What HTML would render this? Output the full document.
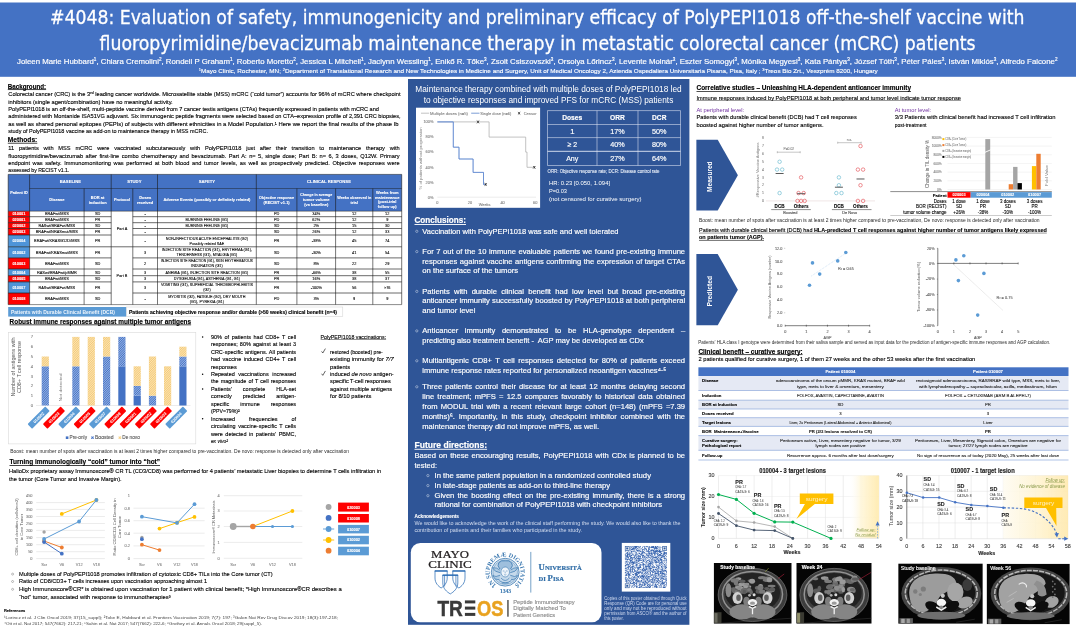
<!DOCTYPE html>
<html lang="en"><head><meta charset="utf-8"><title>#4048 PolyPEPI1018 poster</title>
<style>
html,body{margin:0;padding:0;background:#fff;}
body{width:1080px;height:629px;overflow:hidden;}
svg{display:block;font-family:"Liberation Sans",sans-serif;will-change:transform;}
text{white-space:pre;}
</style></head><body>
<svg width="1080" height="629" viewBox="0 0 1080 629">
<!-- header -->
<rect x="0.00" y="2.50" width="1076.00" height="74.30" fill="#4472C4" />
<text x="50.00" y="24.30" font-size="18.8" fill="#fff" font-family='"DejaVu Sans", "Liberation Sans", sans-serif' textLength="974.50" lengthAdjust="spacingAndGlyphs" stroke="#fff" stroke-width="0.28">#4048: Evaluation of safety, immunogenicity and preliminary efficacy of PolyPEPI1018 off-the-shelf vaccine with</text>
<text x="99.50" y="50.00" font-size="18.8" fill="#fff" font-family='"DejaVu Sans", "Liberation Sans", sans-serif' textLength="876.00" lengthAdjust="spacingAndGlyphs" stroke="#fff" stroke-width="0.28">fluoropyrimidine/bevacizumab maintenance therapy in metastatic colorectal cancer (mCRC) patients</text>
<text x="17.00" y="63.80" font-size="7.6" fill="#fff" textLength="1040.50" lengthAdjust="spacingAndGlyphs" stroke="#fff" stroke-width="0.167" >Joleen Marie Hubbard<tspan dy="-2.4" font-size="4.5">1</tspan><tspan dy="2.4">, Chiara Cremolini</tspan><tspan dy="-2.4" font-size="4.5">2</tspan><tspan dy="2.4">, Rondell P Graham</tspan><tspan dy="-2.4" font-size="4.5">1</tspan><tspan dy="2.4">, Roberto Moretto</tspan><tspan dy="-2.4" font-size="4.5">2</tspan><tspan dy="2.4">, Jessica L Mitchell</tspan><tspan dy="-2.4" font-size="4.5">1</tspan><tspan dy="2.4">, Jaclynn Wessling</tspan><tspan dy="-2.4" font-size="4.5">1</tspan><tspan dy="2.4">, Enikő R. Tőke</tspan><tspan dy="-2.4" font-size="4.5">3</tspan><tspan dy="2.4">, Zsolt Csiszovszki</tspan><tspan dy="-2.4" font-size="4.5">3</tspan><tspan dy="2.4">, Orsolya Lőrincz</tspan><tspan dy="-2.4" font-size="4.5">3</tspan><tspan dy="2.4">, Levente Molnár</tspan><tspan dy="-2.4" font-size="4.5">3</tspan><tspan dy="2.4">, Eszter Somogyi</tspan><tspan dy="-2.4" font-size="4.5">3</tspan><tspan dy="2.4">, Mónika Megyesi</tspan><tspan dy="-2.4" font-size="4.5">3</tspan><tspan dy="2.4">, Kata Pántya</tspan><tspan dy="-2.4" font-size="4.5">3</tspan><tspan dy="2.4">, József Tóth</tspan><tspan dy="-2.4" font-size="4.5">3</tspan><tspan dy="2.4">, Péter Páles</tspan><tspan dy="-2.4" font-size="4.5">3</tspan><tspan dy="2.4">, István Miklós</tspan><tspan dy="-2.4" font-size="4.5">3</tspan><tspan dy="2.4">, Alfredo Falcone</tspan><tspan dy="-2.4" font-size="4.5">2</tspan></text>
<text x="198.80" y="72.50" font-size="5.4" fill="#fff" textLength="679.00" lengthAdjust="spacingAndGlyphs" stroke="#fff" stroke-width="0.119" ><tspan dy="-1.6" font-size="3.4">1</tspan><tspan dy="1.6">Mayo Clinic, Rochester, MN; </tspan><tspan dy="-1.6" font-size="3.4">2</tspan><tspan dy="1.6">Department of Translational Research and New Technologies in Medicine and Surgery, Unit of Medical Oncology 2, Azienda Ospedaliera Universitaria Pisana, Pisa, Italy ; </tspan><tspan dy="-1.6" font-size="3.4">3</tspan><tspan dy="1.6">Treos Bio Zrt., Veszprém 8200, Hungary</tspan></text>
<!-- left column -->
<text x="7.80" y="88.50" font-size="7.3" fill="#000" font-weight="bold" textLength="38.30" lengthAdjust="spacingAndGlyphs" stroke="#000" stroke-width="0.161" >Background:</text>
<rect x="7.80" y="89.30" width="38.30" height="0.73" fill="#000"/>
<text x="8.30" y="96.40" font-size="6.1" fill="#000" textLength="392.30" lengthAdjust="spacingAndGlyphs" stroke="#000" stroke-width="0.134" >Colorectal cancer (CRC) is the 3ʳᵈ leading cancer worldwide. Microsatellite stable (MSS) mCRC (“cold tumor”) accounts for 96% of mCRC where checkpoint</text>
<text x="8.30" y="103.73" font-size="6.1" fill="#000" textLength="164.40" lengthAdjust="spacingAndGlyphs" stroke="#000" stroke-width="0.134" >inhibitors (single agent/combination) have no meaningful activity.</text>
<text x="8.30" y="111.06" font-size="6.1" fill="#000" textLength="370.70" lengthAdjust="spacingAndGlyphs" stroke="#000" stroke-width="0.134" >PolyPEPI1018 is an off-the-shelf, multi-peptide vaccine derived from 7 cancer testis antigens (CTAs) frequently expressed in patients with mCRC and</text>
<text x="8.30" y="118.39" font-size="6.1" fill="#000" textLength="392.30" lengthAdjust="spacingAndGlyphs" stroke="#000" stroke-width="0.134" >administered with Montanide ISA51VG adjuvant. Six immunogenic peptide fragments were selected based on CTA–expression profile of 2,391 CRC biopsies,</text>
<text x="8.30" y="125.72" font-size="6.1" fill="#000" textLength="390.30" lengthAdjust="spacingAndGlyphs" stroke="#000" stroke-width="0.134" >as well as shared personal epitopes (PEPIs) of subjects with different ethnicities in a Model Population.¹ Here we report the final results of the phase Ib</text>
<text x="8.30" y="133.05" font-size="6.1" fill="#000" textLength="199.70" lengthAdjust="spacingAndGlyphs" stroke="#000" stroke-width="0.134" >study of PolyPEPI1018 vaccine as add-on to maintenance therapy in MSS mCRC.</text>
<text x="7.80" y="142.00" font-size="7.3" fill="#000" font-weight="bold" textLength="29.50" lengthAdjust="spacingAndGlyphs" stroke="#000" stroke-width="0.161" >Methods:</text>
<rect x="7.80" y="142.80" width="29.50" height="0.73" fill="#000"/>
<text transform="translate(8.30,150.10) scale(0.93,1)" font-size="6.1" fill="#000" word-spacing="3.439" stroke="#000" stroke-width="0.134">11 patients with MSS mCRC were vaccinated subcutaneously with PolyPEPI1018 just after their transition to maintenance therapy with</text>
<text transform="translate(8.30,157.50) scale(0.93,1)" font-size="6.1" fill="#000" word-spacing="0.968" stroke="#000" stroke-width="0.134">fluoropyrimidine/bevacizumab after first-line combo chemotherapy and bevacizumab. Part A: n= 5, single dose; Part B: n= 6, 3 doses, Q12W. Primary</text>
<text transform="translate(8.30,164.90) scale(0.93,1)" font-size="6.1" fill="#000" word-spacing="1.114" stroke="#000" stroke-width="0.134">endpoint was safety. Immunomonitoring was performed at both blood and tumor levels, as well as prospectively predicted. Objective responses were</text>
<text x="8.30" y="172.30" font-size="6.1" fill="#000" textLength="61.00" lengthAdjust="spacingAndGlyphs" stroke="#000" stroke-width="0.134" >assessed by RECIST v1.1.</text>
<rect x="8.20" y="174.40" width="393.50" height="36.80" fill="#4472C4" />
<rect x="8.20" y="211.20" width="393.50" height="93.40" fill="#fff" />
<rect x="8.20" y="211.20" width="21.40" height="5.50" fill="#FF0000" />
<text x="18.90" y="215.35" font-size="3.9" fill="#fff" font-weight="bold" text-anchor="middle" stroke="#fff" stroke-width="0.086" >010001</text>
<rect x="8.20" y="216.70" width="21.40" height="6.00" fill="#FF0000" />
<text x="18.90" y="221.10" font-size="3.9" fill="#fff" font-weight="bold" text-anchor="middle" stroke="#fff" stroke-width="0.086" >020001</text>
<rect x="8.20" y="222.70" width="21.40" height="5.80" fill="#FF0000" />
<text x="18.90" y="227.00" font-size="3.9" fill="#fff" font-weight="bold" text-anchor="middle" stroke="#fff" stroke-width="0.086" >020002</text>
<rect x="8.20" y="228.50" width="21.40" height="6.50" fill="#FF0000" />
<text x="18.90" y="233.15" font-size="3.9" fill="#fff" font-weight="bold" text-anchor="middle" stroke="#fff" stroke-width="0.086" >020003</text>
<rect x="8.20" y="235.00" width="21.40" height="11.80" fill="#4E94D8" />
<text x="18.90" y="242.30" font-size="3.9" fill="#fff" font-weight="bold" text-anchor="middle" stroke="#fff" stroke-width="0.086" >020004</text>
<rect x="8.20" y="246.80" width="21.40" height="11.10" fill="#4E94D8" />
<text x="18.90" y="253.75" font-size="3.9" fill="#fff" font-weight="bold" text-anchor="middle" stroke="#fff" stroke-width="0.086" >010002</text>
<rect x="8.20" y="257.90" width="21.40" height="11.10" fill="#FF0000" />
<text x="18.90" y="264.85" font-size="3.9" fill="#fff" font-weight="bold" text-anchor="middle" stroke="#fff" stroke-width="0.086" >010003</text>
<rect x="8.20" y="269.00" width="21.40" height="6.70" fill="#4E94D8" />
<text x="18.90" y="273.75" font-size="3.9" fill="#fff" font-weight="bold" text-anchor="middle" stroke="#fff" stroke-width="0.086" >010004</text>
<rect x="8.20" y="275.70" width="21.40" height="6.20" fill="#FF0000" />
<text x="18.90" y="280.20" font-size="3.9" fill="#fff" font-weight="bold" text-anchor="middle" stroke="#fff" stroke-width="0.086" >010005</text>
<rect x="8.20" y="281.90" width="21.40" height="11.10" fill="#4E94D8" />
<text x="18.90" y="288.85" font-size="3.9" fill="#fff" font-weight="bold" text-anchor="middle" stroke="#fff" stroke-width="0.086" >010007</text>
<rect x="8.20" y="293.00" width="21.40" height="11.60" fill="#FF0000" />
<text x="18.90" y="300.20" font-size="3.9" fill="#fff" font-weight="bold" text-anchor="middle" stroke="#fff" stroke-width="0.086" >010008</text>
<line x1="8.20" y1="174.40" x2="401.70" y2="174.40" stroke="#1a1a1a" stroke-width="0.5" />
<line x1="29.60" y1="188.50" x2="401.70" y2="188.50" stroke="#1a1a1a" stroke-width="0.45" />
<line x1="8.20" y1="211.20" x2="401.70" y2="211.20" stroke="#1a1a1a" stroke-width="0.5" />
<line x1="8.20" y1="216.70" x2="111.20" y2="216.70" stroke="#1a1a1a" stroke-width="0.65" />
<line x1="132.80" y1="216.70" x2="401.70" y2="216.70" stroke="#1a1a1a" stroke-width="0.65" />
<line x1="8.20" y1="222.70" x2="111.20" y2="222.70" stroke="#1a1a1a" stroke-width="0.65" />
<line x1="132.80" y1="222.70" x2="401.70" y2="222.70" stroke="#1a1a1a" stroke-width="0.65" />
<line x1="8.20" y1="228.50" x2="111.20" y2="228.50" stroke="#1a1a1a" stroke-width="0.65" />
<line x1="132.80" y1="228.50" x2="401.70" y2="228.50" stroke="#1a1a1a" stroke-width="0.65" />
<line x1="8.20" y1="235.00" x2="111.20" y2="235.00" stroke="#1a1a1a" stroke-width="0.65" />
<line x1="132.80" y1="235.00" x2="401.70" y2="235.00" stroke="#1a1a1a" stroke-width="0.65" />
<line x1="8.20" y1="246.80" x2="111.20" y2="246.80" stroke="#1a1a1a" stroke-width="0.65" />
<line x1="132.80" y1="246.80" x2="401.70" y2="246.80" stroke="#1a1a1a" stroke-width="0.65" />
<line x1="8.20" y1="257.90" x2="111.20" y2="257.90" stroke="#1a1a1a" stroke-width="0.65" />
<line x1="132.80" y1="257.90" x2="401.70" y2="257.90" stroke="#1a1a1a" stroke-width="0.65" />
<line x1="8.20" y1="269.00" x2="111.20" y2="269.00" stroke="#1a1a1a" stroke-width="0.65" />
<line x1="132.80" y1="269.00" x2="401.70" y2="269.00" stroke="#1a1a1a" stroke-width="0.65" />
<line x1="8.20" y1="275.70" x2="111.20" y2="275.70" stroke="#1a1a1a" stroke-width="0.65" />
<line x1="132.80" y1="275.70" x2="401.70" y2="275.70" stroke="#1a1a1a" stroke-width="0.65" />
<line x1="8.20" y1="281.90" x2="111.20" y2="281.90" stroke="#1a1a1a" stroke-width="0.65" />
<line x1="132.80" y1="281.90" x2="401.70" y2="281.90" stroke="#1a1a1a" stroke-width="0.65" />
<line x1="8.20" y1="293.00" x2="111.20" y2="293.00" stroke="#1a1a1a" stroke-width="0.65" />
<line x1="132.80" y1="293.00" x2="401.70" y2="293.00" stroke="#1a1a1a" stroke-width="0.65" />
<line x1="8.20" y1="304.60" x2="401.70" y2="304.60" stroke="#1a1a1a" stroke-width="0.5" />
<line x1="111.20" y1="246.80" x2="132.80" y2="246.80" stroke="#1a1a1a" stroke-width="0.65" />
<line x1="8.20" y1="174.40" x2="8.20" y2="304.60" stroke="#1a1a1a" stroke-width="0.6" />
<line x1="29.60" y1="174.40" x2="29.60" y2="304.60" stroke="#1a1a1a" stroke-width="0.6" />
<line x1="84.10" y1="188.50" x2="84.10" y2="304.60" stroke="#1a1a1a" stroke-width="0.6" />
<line x1="111.20" y1="174.40" x2="111.20" y2="304.60" stroke="#1a1a1a" stroke-width="0.6" />
<line x1="132.80" y1="188.50" x2="132.80" y2="304.60" stroke="#1a1a1a" stroke-width="0.6" />
<line x1="157.50" y1="174.40" x2="157.50" y2="304.60" stroke="#1a1a1a" stroke-width="0.6" />
<line x1="256.30" y1="174.40" x2="256.30" y2="304.60" stroke="#1a1a1a" stroke-width="0.6" />
<line x1="296.90" y1="188.50" x2="296.90" y2="304.60" stroke="#1a1a1a" stroke-width="0.6" />
<line x1="335.60" y1="188.50" x2="335.60" y2="304.60" stroke="#1a1a1a" stroke-width="0.6" />
<line x1="372.80" y1="188.50" x2="372.80" y2="304.60" stroke="#1a1a1a" stroke-width="0.6" />
<line x1="401.70" y1="174.40" x2="401.70" y2="304.60" stroke="#1a1a1a" stroke-width="0.6" />
<text x="10.15" y="194.20" font-size="4.0" fill="#fff" font-weight="bold" textLength="17.50" lengthAdjust="spacingAndGlyphs" stroke="#fff" stroke-width="0.088" >Patient ID</text>
<text x="70.40" y="182.80" font-size="4.2" fill="#fff" font-weight="bold" text-anchor="middle" stroke="#fff" stroke-width="0.092" >BASELINE</text>
<text x="134.35" y="182.80" font-size="4.2" fill="#fff" font-weight="bold" text-anchor="middle" stroke="#fff" stroke-width="0.092" >STUDY</text>
<text x="206.90" y="182.80" font-size="4.2" fill="#fff" font-weight="bold" text-anchor="middle" stroke="#fff" stroke-width="0.092" >SAFETY</text>
<text x="329.00" y="182.80" font-size="4.2" fill="#fff" font-weight="bold" text-anchor="middle" stroke="#fff" stroke-width="0.092" >CLINICAL RESPONSE</text>
<text x="56.85" y="201.20" font-size="4.0" fill="#fff" font-weight="bold" text-anchor="middle" stroke="#fff" stroke-width="0.088" >Disease</text>
<text x="97.65" y="198.80" font-size="4.0" fill="#fff" font-weight="bold" text-anchor="middle" stroke="#fff" stroke-width="0.088" >BOR at</text>
<text x="97.65" y="203.80" font-size="4.0" fill="#fff" font-weight="bold" text-anchor="middle" stroke="#fff" stroke-width="0.088" >induction</text>
<text x="122.00" y="201.20" font-size="4.0" fill="#fff" font-weight="bold" text-anchor="middle" stroke="#fff" stroke-width="0.088" >Protocol</text>
<text x="145.15" y="198.80" font-size="4.0" fill="#fff" font-weight="bold" text-anchor="middle" stroke="#fff" stroke-width="0.088" >Doses</text>
<text x="145.15" y="203.80" font-size="4.0" fill="#fff" font-weight="bold" text-anchor="middle" stroke="#fff" stroke-width="0.088" >received</text>
<text x="163.40" y="201.20" font-size="4.0" fill="#fff" font-weight="bold" textLength="87.00" lengthAdjust="spacingAndGlyphs" stroke="#fff" stroke-width="0.088" >Adverse Events (possibly or definitely related)</text>
<text x="259.10" y="198.80" font-size="4.0" fill="#fff" font-weight="bold" textLength="35.00" lengthAdjust="spacingAndGlyphs" stroke="#fff" stroke-width="0.088" >Objective response</text>
<text x="276.60" y="203.80" font-size="4.0" fill="#fff" font-weight="bold" text-anchor="middle" stroke="#fff" stroke-width="0.088" >(RECIST v1.1)</text>
<text x="300.25" y="196.30" font-size="4.0" fill="#fff" font-weight="bold" textLength="32.00" lengthAdjust="spacingAndGlyphs" stroke="#fff" stroke-width="0.088" >Change in average</text>
<text x="316.25" y="201.20" font-size="4.0" fill="#fff" font-weight="bold" text-anchor="middle" stroke="#fff" stroke-width="0.088" >tumor volume</text>
<text x="316.25" y="206.20" font-size="4.0" fill="#fff" font-weight="bold" text-anchor="middle" stroke="#fff" stroke-width="0.088" >(vs baseline)</text>
<text x="337.20" y="198.80" font-size="4.0" fill="#fff" font-weight="bold" textLength="34.00" lengthAdjust="spacingAndGlyphs" stroke="#fff" stroke-width="0.088" >Weeks observed in</text>
<text x="354.20" y="203.80" font-size="4.0" fill="#fff" font-weight="bold" text-anchor="middle" stroke="#fff" stroke-width="0.088" >trial</text>
<text x="387.25" y="193.80" font-size="4.0" fill="#fff" font-weight="bold" text-anchor="middle" stroke="#fff" stroke-width="0.088" >Weeks from</text>
<text x="387.25" y="198.60" font-size="4.0" fill="#fff" font-weight="bold" text-anchor="middle" stroke="#fff" stroke-width="0.088" >maintenance</text>
<text x="387.25" y="203.40" font-size="4.0" fill="#fff" font-weight="bold" text-anchor="middle" stroke="#fff" stroke-width="0.088" >(post-trial</text>
<text x="387.25" y="208.20" font-size="4.0" fill="#fff" font-weight="bold" text-anchor="middle" stroke="#fff" stroke-width="0.088" >follow up)</text>
<text x="56.85" y="215.35" font-size="3.9" fill="#000" text-anchor="middle" stroke="#000" stroke-width="0.086" >BRAFwt/MSS</text>
<text x="97.65" y="215.35" font-size="3.9" fill="#000" text-anchor="middle" stroke="#000" stroke-width="0.086" >SD</text>
<text x="145.15" y="215.35" font-size="3.9" fill="#000" text-anchor="middle" stroke="#000" stroke-width="0.086" >-</text>
<text x="276.60" y="215.35" font-size="3.9" fill="#000" text-anchor="middle" stroke="#000" stroke-width="0.086" >PD</text>
<text x="316.25" y="215.35" font-size="3.9" fill="#000" text-anchor="middle" stroke="#000" stroke-width="0.086" >34%</text>
<text x="354.20" y="215.35" font-size="3.9" fill="#000" text-anchor="middle" stroke="#000" stroke-width="0.086" >12</text>
<text x="387.25" y="215.35" font-size="3.9" fill="#000" text-anchor="middle" stroke="#000" stroke-width="0.086" >12</text>
<text x="56.85" y="221.10" font-size="3.9" fill="#000" text-anchor="middle" stroke="#000" stroke-width="0.086" >BRAFwt/MSS</text>
<text x="97.65" y="221.10" font-size="3.9" fill="#000" text-anchor="middle" stroke="#000" stroke-width="0.086" >PR</text>
<text x="145.15" y="221.10" font-size="3.9" fill="#000" text-anchor="middle" stroke="#000" stroke-width="0.086" >-</text>
<text x="185.47" y="221.10" font-size="3.9" fill="#000" textLength="42.85" lengthAdjust="spacingAndGlyphs" stroke="#000" stroke-width="0.086" >BURNING FEELING (G1)</text>
<text x="276.60" y="221.10" font-size="3.9" fill="#000" text-anchor="middle" stroke="#000" stroke-width="0.086" >PD</text>
<text x="316.25" y="221.10" font-size="3.9" fill="#000" text-anchor="middle" stroke="#000" stroke-width="0.086" >62%</text>
<text x="354.20" y="221.10" font-size="3.9" fill="#000" text-anchor="middle" stroke="#000" stroke-width="0.086" >12</text>
<text x="387.25" y="221.10" font-size="3.9" fill="#000" text-anchor="middle" stroke="#000" stroke-width="0.086" >9</text>
<text x="56.85" y="227.00" font-size="3.9" fill="#000" text-anchor="middle" stroke="#000" stroke-width="0.086" >RASwt/BRAFwt/MSS</text>
<text x="97.65" y="227.00" font-size="3.9" fill="#000" text-anchor="middle" stroke="#000" stroke-width="0.086" >SD</text>
<text x="145.15" y="227.00" font-size="3.9" fill="#000" text-anchor="middle" stroke="#000" stroke-width="0.086" >-</text>
<text x="185.47" y="227.00" font-size="3.9" fill="#000" textLength="42.85" lengthAdjust="spacingAndGlyphs" stroke="#000" stroke-width="0.086" >BURNING FEELING (G1)</text>
<text x="276.60" y="227.00" font-size="3.9" fill="#000" text-anchor="middle" stroke="#000" stroke-width="0.086" >SD</text>
<text x="316.25" y="227.00" font-size="3.9" fill="#000" text-anchor="middle" stroke="#000" stroke-width="0.086" >2%</text>
<text x="354.20" y="227.00" font-size="3.9" fill="#000" text-anchor="middle" stroke="#000" stroke-width="0.086" >15</text>
<text x="387.25" y="227.00" font-size="3.9" fill="#000" text-anchor="middle" stroke="#000" stroke-width="0.086" >30</text>
<text x="56.85" y="233.15" font-size="3.9" fill="#000" text-anchor="middle" stroke="#000" stroke-width="0.086" >BRAFwt/NRASmut/MSS</text>
<text x="97.65" y="233.15" font-size="3.9" fill="#000" text-anchor="middle" stroke="#000" stroke-width="0.086" >PR</text>
<text x="145.15" y="233.15" font-size="3.9" fill="#000" text-anchor="middle" stroke="#000" stroke-width="0.086" >-</text>
<text x="276.60" y="233.15" font-size="3.9" fill="#000" text-anchor="middle" stroke="#000" stroke-width="0.086" >SD</text>
<text x="316.25" y="233.15" font-size="3.9" fill="#000" text-anchor="middle" stroke="#000" stroke-width="0.086" >26%</text>
<text x="354.20" y="233.15" font-size="3.9" fill="#000" text-anchor="middle" stroke="#000" stroke-width="0.086" >12</text>
<text x="387.25" y="233.15" font-size="3.9" fill="#000" text-anchor="middle" stroke="#000" stroke-width="0.086" >33</text>
<text x="56.85" y="242.30" font-size="3.9" fill="#000" text-anchor="middle" stroke="#000" stroke-width="0.086" >BRAFwt/KRASG12D/MSS</text>
<text x="97.65" y="242.30" font-size="3.9" fill="#000" text-anchor="middle" stroke="#000" stroke-width="0.086" >PR</text>
<text x="145.15" y="242.30" font-size="3.9" fill="#000" text-anchor="middle" stroke="#000" stroke-width="0.086" >-</text>
<text x="165.71" y="239.80" font-size="3.9" fill="#000" textLength="82.38" lengthAdjust="spacingAndGlyphs" stroke="#000" stroke-width="0.086" >NON-INFECTIOUS ACUTE ENCEPHALITIS (G2)</text>
<text x="189.42" y="244.70" font-size="3.9" fill="#000" textLength="34.96" lengthAdjust="spacingAndGlyphs" stroke="#000" stroke-width="0.086" >Possibly related SAE</text>
<text x="276.60" y="242.30" font-size="3.9" fill="#000" text-anchor="middle" stroke="#000" stroke-width="0.086" >PR</text>
<text x="316.25" y="242.30" font-size="3.9" fill="#000" text-anchor="middle" stroke="#000" stroke-width="0.086" >-38%</text>
<text x="354.20" y="242.30" font-size="3.9" fill="#000" text-anchor="middle" stroke="#000" stroke-width="0.086" >45</text>
<text x="387.25" y="242.30" font-size="3.9" fill="#000" text-anchor="middle" stroke="#000" stroke-width="0.086" >74</text>
<text x="56.85" y="253.75" font-size="3.9" fill="#000" text-anchor="middle" stroke="#000" stroke-width="0.086" >BRAFwt/KRASmut/MSS</text>
<text x="97.65" y="253.75" font-size="3.9" fill="#000" text-anchor="middle" stroke="#000" stroke-width="0.086" >PR</text>
<text x="145.15" y="253.75" font-size="3.9" fill="#000" text-anchor="middle" stroke="#000" stroke-width="0.086" >3</text>
<text x="161.79" y="251.25" font-size="3.9" fill="#000" textLength="90.21" lengthAdjust="spacingAndGlyphs" stroke="#000" stroke-width="0.086" >INJECTION SITE REACTION (G1), ERYTHEMA (G1),</text>
<text x="176.46" y="256.15" font-size="3.9" fill="#000" textLength="60.89" lengthAdjust="spacingAndGlyphs" stroke="#000" stroke-width="0.086" >TENDERNESS (G1), MYALGIA (G1)</text>
<text x="276.60" y="253.75" font-size="3.9" fill="#000" text-anchor="middle" stroke="#000" stroke-width="0.086" >SD</text>
<text x="316.25" y="253.75" font-size="3.9" fill="#000" text-anchor="middle" stroke="#000" stroke-width="0.086" >-30%</text>
<text x="354.20" y="253.75" font-size="3.9" fill="#000" text-anchor="middle" stroke="#000" stroke-width="0.086" >41</text>
<text x="387.25" y="253.75" font-size="3.9" fill="#000" text-anchor="middle" stroke="#000" stroke-width="0.086" >54</text>
<text x="56.85" y="264.85" font-size="3.9" fill="#000" text-anchor="middle" stroke="#000" stroke-width="0.086" >BRAFwt/MSS</text>
<text x="97.65" y="264.85" font-size="3.9" fill="#000" text-anchor="middle" stroke="#000" stroke-width="0.086" >SD</text>
<text x="145.15" y="264.85" font-size="3.9" fill="#000" text-anchor="middle" stroke="#000" stroke-width="0.086" >2</text>
<text x="160.90" y="262.35" font-size="3.9" fill="#000" textLength="92.00" lengthAdjust="spacingAndGlyphs" stroke="#000" stroke-width="0.086" >INJECTION SITE REACTION (G1), SKIN ERYTHEMATOUS</text>
<text x="191.13" y="267.25" font-size="3.9" fill="#000" textLength="31.55" lengthAdjust="spacingAndGlyphs" stroke="#000" stroke-width="0.086" >INDURATION (G1)</text>
<text x="276.60" y="264.85" font-size="3.9" fill="#000" text-anchor="middle" stroke="#000" stroke-width="0.086" >SD</text>
<text x="316.25" y="264.85" font-size="3.9" fill="#000" text-anchor="middle" stroke="#000" stroke-width="0.086" >8%</text>
<text x="354.20" y="264.85" font-size="3.9" fill="#000" text-anchor="middle" stroke="#000" stroke-width="0.086" >22</text>
<text x="387.25" y="264.85" font-size="3.9" fill="#000" text-anchor="middle" stroke="#000" stroke-width="0.086" >29</text>
<text x="56.85" y="273.75" font-size="3.9" fill="#000" text-anchor="middle" stroke="#000" stroke-width="0.086" >RASwt/BRAFwt/pMMR</text>
<text x="97.65" y="273.75" font-size="3.9" fill="#000" text-anchor="middle" stroke="#000" stroke-width="0.086" >SD</text>
<text x="145.15" y="273.75" font-size="3.9" fill="#000" text-anchor="middle" stroke="#000" stroke-width="0.086" >3</text>
<text x="165.50" y="273.75" font-size="3.9" fill="#000" textLength="82.79" lengthAdjust="spacingAndGlyphs" stroke="#000" stroke-width="0.086" >ANEMIA (G1), INJECTION SITE REACTION (G1)</text>
<text x="276.60" y="273.75" font-size="3.9" fill="#000" text-anchor="middle" stroke="#000" stroke-width="0.086" >PR</text>
<text x="316.25" y="273.75" font-size="3.9" fill="#000" text-anchor="middle" stroke="#000" stroke-width="0.086" >-66%</text>
<text x="354.20" y="273.75" font-size="3.9" fill="#000" text-anchor="middle" stroke="#000" stroke-width="0.086" >38</text>
<text x="387.25" y="273.75" font-size="3.9" fill="#000" text-anchor="middle" stroke="#000" stroke-width="0.086" >55</text>
<text x="56.85" y="280.20" font-size="3.9" fill="#000" text-anchor="middle" stroke="#000" stroke-width="0.086" >BRAFwt/MSS</text>
<text x="97.65" y="280.20" font-size="3.9" fill="#000" text-anchor="middle" stroke="#000" stroke-width="0.086" >SD</text>
<text x="145.15" y="280.20" font-size="3.9" fill="#000" text-anchor="middle" stroke="#000" stroke-width="0.086" >3</text>
<text x="173.82" y="280.20" font-size="3.9" fill="#000" textLength="66.16" lengthAdjust="spacingAndGlyphs" stroke="#000" stroke-width="0.086" >DYSGEUSIA (G1), ASTHENIA (G1, G1)</text>
<text x="276.60" y="280.20" font-size="3.9" fill="#000" text-anchor="middle" stroke="#000" stroke-width="0.086" >PR</text>
<text x="316.25" y="280.20" font-size="3.9" fill="#000" text-anchor="middle" stroke="#000" stroke-width="0.086" >16%</text>
<text x="354.20" y="280.20" font-size="3.9" fill="#000" text-anchor="middle" stroke="#000" stroke-width="0.086" >38</text>
<text x="387.25" y="280.20" font-size="3.9" fill="#000" text-anchor="middle" stroke="#000" stroke-width="0.086" >37</text>
<text x="56.85" y="288.85" font-size="3.9" fill="#000" text-anchor="middle" stroke="#000" stroke-width="0.086" >RASwt/BRAFwt/MSS</text>
<text x="97.65" y="288.85" font-size="3.9" fill="#000" text-anchor="middle" stroke="#000" stroke-width="0.086" >PR</text>
<text x="145.15" y="288.85" font-size="3.9" fill="#000" text-anchor="middle" stroke="#000" stroke-width="0.086" >3</text>
<text x="160.90" y="286.35" font-size="3.9" fill="#000" textLength="92.00" lengthAdjust="spacingAndGlyphs" stroke="#000" stroke-width="0.086" >VOMITING (G1), SUPERFICIAL THROMBOPHLEBITIS</text>
<text x="203.16" y="291.25" font-size="3.9" fill="#000" textLength="7.49" lengthAdjust="spacingAndGlyphs" stroke="#000" stroke-width="0.086" >(G2)</text>
<text x="276.60" y="288.85" font-size="3.9" fill="#000" text-anchor="middle" stroke="#000" stroke-width="0.086" >PR</text>
<text x="316.25" y="288.85" font-size="3.9" fill="#000" text-anchor="middle" stroke="#000" stroke-width="0.086" >-100%</text>
<text x="354.20" y="288.85" font-size="3.9" fill="#000" text-anchor="middle" stroke="#000" stroke-width="0.086" >56</text>
<text x="387.25" y="288.85" font-size="3.9" fill="#000" text-anchor="middle" stroke="#000" stroke-width="0.086" >&gt;76</text>
<text x="56.85" y="300.20" font-size="3.9" fill="#000" text-anchor="middle" stroke="#000" stroke-width="0.086" >BRAFwt/MSS</text>
<text x="97.65" y="300.20" font-size="3.9" fill="#000" text-anchor="middle" stroke="#000" stroke-width="0.086" >SD</text>
<text x="145.15" y="300.20" font-size="3.9" fill="#000" text-anchor="middle" stroke="#000" stroke-width="0.086" >-</text>
<text x="168.21" y="297.70" font-size="3.9" fill="#000" textLength="77.38" lengthAdjust="spacingAndGlyphs" stroke="#000" stroke-width="0.086" >MYOSITIS (G2), FATIGUE (G2), DRY MOUTH</text>
<text x="189.84" y="302.60" font-size="3.9" fill="#000" textLength="34.12" lengthAdjust="spacingAndGlyphs" stroke="#000" stroke-width="0.086" >(G1), PYREXIA (G1)</text>
<text x="276.60" y="300.20" font-size="3.9" fill="#000" text-anchor="middle" stroke="#000" stroke-width="0.086" >PD</text>
<text x="316.25" y="300.20" font-size="3.9" fill="#000" text-anchor="middle" stroke="#000" stroke-width="0.086" >3%</text>
<text x="354.20" y="300.20" font-size="3.9" fill="#000" text-anchor="middle" stroke="#000" stroke-width="0.086" >9</text>
<text x="387.25" y="300.20" font-size="3.9" fill="#000" text-anchor="middle" stroke="#000" stroke-width="0.086" >9</text>
<text x="122.00" y="230.40" font-size="3.9" fill="#000" text-anchor="middle" stroke="#000" stroke-width="0.086" >Part A</text>
<text x="122.00" y="277.10" font-size="3.9" fill="#000" text-anchor="middle" stroke="#000" stroke-width="0.086" >Part B</text>
<rect x="8.20" y="307.00" width="118.20" height="9.60" fill="#5B9BD5" />
<text x="11.00" y="313.80" font-size="5.6" fill="#EEF5FC" font-weight="bold" textLength="104.00" lengthAdjust="spacingAndGlyphs" stroke="none">Patients with Durable Clinical Benefit (DCB)</text>
<rect x="126.40" y="307.00" width="216.40" height="9.60" fill="#fff" stroke="#CFCFCF" stroke-width="0.5" />
<text x="129.00" y="313.80" font-size="5.6" fill="#000" font-weight="bold" textLength="208.00" lengthAdjust="spacingAndGlyphs" stroke="#000" stroke-width="0.123" >Patients achieving objective response and/or durable (&gt;50 weeks) clinical benefit (n=4)</text>
<text x="9.60" y="323.70" font-size="7.3" fill="#000" font-weight="bold" textLength="181.50" lengthAdjust="spacingAndGlyphs" stroke="#000" stroke-width="0.161" >Robust immune responses against multiple tumor antigens</text>
<rect x="9.60" y="324.50" width="181.50" height="0.73" fill="#000"/>
<rect x="8.40" y="332.60" width="187.40" height="111.30" fill="#fff" stroke="#D9D9D9" stroke-width="0.6" />
<defs><pattern id="hb" width="1.6" height="1.6" patternUnits="userSpaceOnUse" patternTransform="rotate(45)"><rect width="1.6" height="1.6" fill="#A9C0EA"/><rect width="0.9" height="1.6" fill="#4472C4"/></pattern><pattern id="hy" width="1.6" height="1.6" patternUnits="userSpaceOnUse" patternTransform="rotate(45)"><rect width="1.6" height="1.6" fill="#FBE5B4"/><rect width="0.8" height="1.6" fill="#F4C978"/></pattern></defs>
<line x1="36.00" y1="405.50" x2="190.50" y2="405.50" stroke="#D9D9D9" stroke-width="0.5" />
<rect x="41.70" y="366.30" width="7.20" height="39.20" fill="url(#hb)" />
<rect x="41.70" y="356.50" width="7.20" height="9.80" fill="url(#hy)" />
<rect x="72.30" y="366.30" width="7.20" height="39.20" fill="url(#hb)" />
<rect x="72.30" y="336.90" width="7.20" height="29.40" fill="url(#hy)" />
<rect x="87.70" y="336.90" width="7.20" height="68.60" fill="url(#hy)" />
<rect x="103.00" y="356.50" width="7.20" height="49.00" fill="url(#hb)" />
<rect x="103.00" y="336.90" width="7.20" height="19.60" fill="url(#hy)" />
<rect x="118.30" y="366.30" width="7.20" height="39.20" fill="#4472C4" />
<rect x="118.30" y="336.90" width="7.20" height="29.40" fill="url(#hb)" />
<rect x="133.60" y="395.70" width="7.20" height="9.80" fill="#4472C4" />
<rect x="133.60" y="385.90" width="7.20" height="9.80" fill="url(#hb)" />
<rect x="133.60" y="366.30" width="7.20" height="19.60" fill="url(#hy)" />
<rect x="148.90" y="395.70" width="7.20" height="9.80" fill="url(#hb)" />
<rect x="148.90" y="356.50" width="7.20" height="39.20" fill="url(#hy)" />
<rect x="164.00" y="366.30" width="7.20" height="39.20" fill="url(#hy)" />
<rect x="179.30" y="366.30" width="7.20" height="39.20" fill="#4472C4" />
<rect x="179.30" y="356.50" width="7.20" height="9.80" fill="url(#hb)" />
<rect x="179.30" y="346.70" width="7.20" height="9.80" fill="url(#hy)" />
<text x="31.80" y="407.00" font-size="4.2" fill="#7F7F7F" text-anchor="middle" stroke="#7F7F7F" stroke-width="0.092" >0</text>
<text x="31.80" y="397.20" font-size="4.2" fill="#7F7F7F" text-anchor="middle" stroke="#7F7F7F" stroke-width="0.092" >1</text>
<text x="31.80" y="387.40" font-size="4.2" fill="#7F7F7F" text-anchor="middle" stroke="#7F7F7F" stroke-width="0.092" >2</text>
<text x="31.80" y="377.60" font-size="4.2" fill="#7F7F7F" text-anchor="middle" stroke="#7F7F7F" stroke-width="0.092" >3</text>
<text x="31.80" y="367.80" font-size="4.2" fill="#7F7F7F" text-anchor="middle" stroke="#7F7F7F" stroke-width="0.092" >4</text>
<text x="31.80" y="358.00" font-size="4.2" fill="#7F7F7F" text-anchor="middle" stroke="#7F7F7F" stroke-width="0.092" >5</text>
<text x="31.80" y="348.20" font-size="4.2" fill="#7F7F7F" text-anchor="middle" stroke="#7F7F7F" stroke-width="0.092" >6</text>
<text x="31.80" y="338.40" font-size="4.2" fill="#7F7F7F" text-anchor="middle" stroke="#7F7F7F" stroke-width="0.092" >7</text>
<text transform="translate(15.2,367) rotate(-90)" font-size="4.6" fill="#595959" text-anchor="middle" textLength="59" lengthAdjust="spacingAndGlyphs">Number of antigens with</text>
<text transform="translate(21,367) rotate(-90)" font-size="4.6" fill="#595959" text-anchor="middle" textLength="52" lengthAdjust="spacingAndGlyphs">CD8+ T cell response</text>
<text transform="translate(62,401.5) rotate(-90)" font-size="4.2" fill="#7F7F7F" textLength="28" lengthAdjust="spacingAndGlyphs">Not detected</text>
<g transform="translate(38.70,417.60) rotate(-45)"><rect x="-12.5" y="-3.2" width="25" height="6.4" rx="0.8" fill="#5B9BD5"/><text x="0" y="1.5" font-size="4.1" fill="#fff" font-weight="bold" text-anchor="middle">010002</text></g>
<g transform="translate(54.00,417.60) rotate(-45)"><rect x="-12.5" y="-3.2" width="25" height="6.4" rx="0.8" fill="#FF0000"/><text x="0" y="1.5" font-size="4.1" fill="#fff" font-weight="bold" text-anchor="middle">010003</text></g>
<g transform="translate(69.30,417.60) rotate(-45)"><rect x="-12.5" y="-3.2" width="25" height="6.4" rx="0.8" fill="#5B9BD5"/><text x="0" y="1.5" font-size="4.1" fill="#fff" font-weight="bold" text-anchor="middle">010004</text></g>
<g transform="translate(84.70,417.60) rotate(-45)"><rect x="-12.5" y="-3.2" width="25" height="6.4" rx="0.8" fill="#FF0000"/><text x="0" y="1.5" font-size="4.1" fill="#fff" font-weight="bold" text-anchor="middle">010005</text></g>
<g transform="translate(100.00,417.60) rotate(-45)"><rect x="-12.5" y="-3.2" width="25" height="6.4" rx="0.8" fill="#5B9BD5"/><text x="0" y="1.5" font-size="4.1" fill="#fff" font-weight="bold" text-anchor="middle">010007</text></g>
<g transform="translate(115.30,417.60) rotate(-45)"><rect x="-12.5" y="-3.2" width="25" height="6.4" rx="0.8" fill="#FF0000"/><text x="0" y="1.5" font-size="4.1" fill="#fff" font-weight="bold" text-anchor="middle">010008</text></g>
<g transform="translate(130.60,417.60) rotate(-45)"><rect x="-12.5" y="-3.2" width="25" height="6.4" rx="0.8" fill="#FF0000"/><text x="0" y="1.5" font-size="4.1" fill="#fff" font-weight="bold" text-anchor="middle">020001</text></g>
<g transform="translate(145.90,417.60) rotate(-45)"><rect x="-12.5" y="-3.2" width="25" height="6.4" rx="0.8" fill="#FF0000"/><text x="0" y="1.5" font-size="4.1" fill="#fff" font-weight="bold" text-anchor="middle">020002</text></g>
<g transform="translate(161.00,417.60) rotate(-45)"><rect x="-12.5" y="-3.2" width="25" height="6.4" rx="0.8" fill="#FF0000"/><text x="0" y="1.5" font-size="4.1" fill="#fff" font-weight="bold" text-anchor="middle">020003</text></g>
<g transform="translate(176.30,417.60) rotate(-45)"><rect x="-12.5" y="-3.2" width="25" height="6.4" rx="0.8" fill="#5B9BD5"/><text x="0" y="1.5" font-size="4.1" fill="#fff" font-weight="bold" text-anchor="middle">020004</text></g>
<rect x="65.80" y="436.40" width="2.60" height="2.60" fill="#4472C4" />
<text x="69.50" y="439.30" font-size="4.8" fill="#595959" textLength="17.50" lengthAdjust="spacingAndGlyphs" stroke="#595959" stroke-width="0.106" >Pre-only</text>
<rect x="91.20" y="436.40" width="2.60" height="2.60" fill="url(#hb)" />
<text x="95.00" y="439.30" font-size="4.8" fill="#595959" textLength="18.50" lengthAdjust="spacingAndGlyphs" stroke="#595959" stroke-width="0.106" >Boosted</text>
<rect x="118.60" y="436.40" width="2.60" height="2.60" fill="url(#hy)" />
<text x="122.30" y="439.30" font-size="4.8" fill="#595959" textLength="17.50" lengthAdjust="spacingAndGlyphs" stroke="#595959" stroke-width="0.106" >De novo</text>
<text transform="translate(210.90,338.70) scale(0.92,1)" font-size="6.0" fill="#000" word-spacing="1.138" stroke="#000" stroke-width="0.132">90% of patients had CD8+ T cell</text>
<text transform="translate(210.90,346.15) scale(0.92,1)" font-size="6.0" fill="#000" word-spacing="0.554" stroke="#000" stroke-width="0.132">responses; 80% against at least 3</text>
<text transform="translate(210.90,353.60) scale(0.92,1)" font-size="6.0" fill="#000" word-spacing="0.372" stroke="#000" stroke-width="0.132">CRC-specific antigens. All patients</text>
<text transform="translate(210.90,361.05) scale(0.92,1)" font-size="6.0" fill="#000" word-spacing="1.032" stroke="#000" stroke-width="0.132">had vaccine induced CD4+ T cell</text>
<text x="210.90" y="368.50" font-size="6.0" fill="#000" textLength="25.80" lengthAdjust="spacingAndGlyphs" stroke="#000" stroke-width="0.132" >responses</text>
<text transform="translate(210.90,375.95) scale(0.92,1)" font-size="6.0" fill="#000" word-spacing="2.218" stroke="#000" stroke-width="0.132">Repeated vaccinations increased</text>
<text transform="translate(210.90,383.40) scale(0.92,1)" font-size="6.0" fill="#000" word-spacing="0.598" stroke="#000" stroke-width="0.132">the magnitude of T cell responses</text>
<text transform="translate(210.90,390.85) scale(0.92,1)" font-size="6.0" fill="#000" word-spacing="10.340" stroke="#000" stroke-width="0.132">Patients’ complete HLA-set</text>
<text transform="translate(210.90,398.30) scale(0.92,1)" font-size="6.0" fill="#000" word-spacing="10.227" stroke="#000" stroke-width="0.132">correctly predicted antigen-</text>
<text transform="translate(210.90,405.75) scale(0.92,1)" font-size="6.0" fill="#000" word-spacing="10.230" stroke="#000" stroke-width="0.132">specific immune responses</text>
<text x="210.90" y="413.20" font-size="6.0" fill="#000" textLength="28.80" lengthAdjust="spacingAndGlyphs" stroke="#000" stroke-width="0.132" >(PPV=79%)²</text>
<text transform="translate(210.90,420.65) scale(0.92,1)" font-size="6.0" fill="#000" word-spacing="13.559" stroke="#000" stroke-width="0.132">Increased frequencies of</text>
<text transform="translate(210.90,428.10) scale(0.92,1)" font-size="6.0" fill="#000" word-spacing="1.004" stroke="#000" stroke-width="0.132">circulating vaccine-specific T cells</text>
<text transform="translate(210.90,435.55) scale(0.92,1)" font-size="6.0" fill="#000" word-spacing="1.084" stroke="#000" stroke-width="0.132">were detected in patients’ PBMC,</text>
<text x="210.90" y="443.00" font-size="6.0" fill="#000" font-style="italic" textLength="16.90" lengthAdjust="spacingAndGlyphs" stroke="#000" stroke-width="0.132" >ex vivo²</text>
<circle cx="202.60" cy="336.90" r="0.75" fill="#000" />
<circle cx="202.60" cy="374.15" r="0.75" fill="#000" />
<circle cx="202.60" cy="389.05" r="0.75" fill="#000" />
<circle cx="202.60" cy="418.85" r="0.75" fill="#000" />
<text x="320.60" y="338.70" font-size="6.0" fill="#000" textLength="65.50" lengthAdjust="spacingAndGlyphs" stroke="#000" stroke-width="0.132" >PolyPEPI1018 vaccinations:</text>
<rect x="320.60" y="339.36" width="65.50" height="0.42" fill="#000"/>
<text x="330.10" y="353.60" font-size="6.0" fill="#000" textLength="52.70" lengthAdjust="spacingAndGlyphs" stroke="#000" stroke-width="0.132" >restored (boosted) pre-</text>
<text x="330.10" y="361.05" font-size="6.0" fill="#000" textLength="63.60" lengthAdjust="spacingAndGlyphs" stroke="#000" stroke-width="0.132" >existing immunity for <tspan font-style="italic">7/7</tspan></text>
<text x="330.10" y="368.50" font-size="6.0" fill="#000" textLength="19.90" lengthAdjust="spacingAndGlyphs" stroke="#000" stroke-width="0.132" >patients</text>
<text x="330.10" y="375.95" font-size="6.0" fill="#000" textLength="63.60" lengthAdjust="spacingAndGlyphs" stroke="#000" stroke-width="0.132" >induced <tspan font-style="italic">de novo</tspan> antigen-</text>
<text x="330.10" y="383.40" font-size="6.0" fill="#000" textLength="60.60" lengthAdjust="spacingAndGlyphs" stroke="#000" stroke-width="0.132" >specific T-cell responses</text>
<text x="330.10" y="390.85" font-size="6.0" fill="#000" textLength="62.00" lengthAdjust="spacingAndGlyphs" stroke="#000" stroke-width="0.132" >against multiple antigens</text>
<text x="330.10" y="398.30" font-size="6.0" fill="#000" textLength="41.30" lengthAdjust="spacingAndGlyphs" stroke="#000" stroke-width="0.132" >for 8/10 patients</text>
<path d="M321.6 351.40 l1.2 1.6 l2.6 -4.4" fill="none" stroke="#222" stroke-width="0.7" />
<path d="M321.6 373.75 l1.2 1.6 l2.6 -4.4" fill="none" stroke="#222" stroke-width="0.7" />
<text x="10.30" y="453.30" font-size="5.2" fill="#2a2a2a" textLength="338.70" lengthAdjust="spacingAndGlyphs" stroke="none">Boost: mean number of spots after vaccination is at least 2 times higher compared to pre-vaccination. De novo: response is detected only after vaccination</text>
<text x="9.50" y="464.20" font-size="7.3" fill="#000" font-weight="bold" textLength="150.50" lengthAdjust="spacingAndGlyphs" stroke="#000" stroke-width="0.161" >Turning immunologically “cold” tumor into “hot”</text>
<rect x="9.50" y="465.00" width="150.50" height="0.73" fill="#000"/>
<text x="9.00" y="473.30" font-size="6.0" fill="#000" textLength="372.20" lengthAdjust="spacingAndGlyphs" stroke="#000" stroke-width="0.132" >HalioDx proprietary assay Immunoscore® CR TL (CD3/CD8) was performed for 4 patients’ metastatic Liver biopsies to determine T cells infiltration in</text>
<text x="9.00" y="480.70" font-size="6.0" fill="#000" textLength="112.60" lengthAdjust="spacingAndGlyphs" stroke="#000" stroke-width="0.132" >the tumor (Core Tumor and Invasive Margin).</text>
<line x1="36.20" y1="558.60" x2="104.90" y2="558.60" stroke="#D9D9D9" stroke-width="0.5" />
<line x1="36.20" y1="551.70" x2="104.90" y2="551.70" stroke="#D9D9D9" stroke-width="0.5" />
<line x1="36.20" y1="544.70" x2="104.90" y2="544.70" stroke="#D9D9D9" stroke-width="0.5" />
<line x1="36.20" y1="537.60" x2="104.90" y2="537.60" stroke="#D9D9D9" stroke-width="0.5" />
<line x1="36.20" y1="530.40" x2="104.90" y2="530.40" stroke="#D9D9D9" stroke-width="0.5" />
<line x1="36.20" y1="523.50" x2="104.90" y2="523.50" stroke="#D9D9D9" stroke-width="0.5" />
<line x1="36.20" y1="516.50" x2="104.90" y2="516.50" stroke="#D9D9D9" stroke-width="0.5" />
<line x1="36.20" y1="509.40" x2="104.90" y2="509.40" stroke="#D9D9D9" stroke-width="0.5" />
<line x1="36.20" y1="502.60" x2="104.90" y2="502.60" stroke="#D9D9D9" stroke-width="0.5" />
<text x="32.50" y="560.00" font-size="3.9" fill="#7F7F7F" text-anchor="end" stroke="#7F7F7F" stroke-width="0.086" >0</text>
<text x="32.50" y="553.10" font-size="3.9" fill="#7F7F7F" text-anchor="end" stroke="#7F7F7F" stroke-width="0.086" >50</text>
<text x="32.50" y="546.10" font-size="3.9" fill="#7F7F7F" text-anchor="end" stroke="#7F7F7F" stroke-width="0.086" >100</text>
<text x="32.50" y="539.00" font-size="3.9" fill="#7F7F7F" text-anchor="end" stroke="#7F7F7F" stroke-width="0.086" >150</text>
<text x="32.50" y="531.80" font-size="3.9" fill="#7F7F7F" text-anchor="end" stroke="#7F7F7F" stroke-width="0.086" >200</text>
<text x="32.50" y="524.90" font-size="3.9" fill="#7F7F7F" text-anchor="end" stroke="#7F7F7F" stroke-width="0.086" >250</text>
<text x="32.50" y="517.90" font-size="3.9" fill="#7F7F7F" text-anchor="end" stroke="#7F7F7F" stroke-width="0.086" >300</text>
<text x="32.50" y="510.80" font-size="3.9" fill="#7F7F7F" text-anchor="end" stroke="#7F7F7F" stroke-width="0.086" >350</text>
<text x="32.50" y="504.00" font-size="3.9" fill="#7F7F7F" text-anchor="end" stroke="#7F7F7F" stroke-width="0.086" >400</text>
<text x="32.50" y="497.10" font-size="3.9" fill="#7F7F7F" text-anchor="end" stroke="#7F7F7F" stroke-width="0.086" >450</text>
<text x="44.10" y="565.60" font-size="3.9" fill="#7F7F7F" text-anchor="middle" stroke="#7F7F7F" stroke-width="0.086" >Scr</text>
<text x="61.80" y="565.60" font-size="3.9" fill="#7F7F7F" text-anchor="middle" stroke="#7F7F7F" stroke-width="0.086" >V6</text>
<text x="79.10" y="565.60" font-size="3.9" fill="#7F7F7F" text-anchor="middle" stroke="#7F7F7F" stroke-width="0.086" >V12</text>
<text x="96.40" y="565.60" font-size="3.9" fill="#7F7F7F" text-anchor="middle" stroke="#7F7F7F" stroke-width="0.086" >V18</text>
<text transform="translate(17.50,527) rotate(-90)" font-size="4.0" fill="#595959" text-anchor="middle" textLength="57" lengthAdjust="spacingAndGlyphs">CD8+ cell densities (cells/mm2)</text>
<text transform="translate(22.70,527) rotate(-90)" font-size="4.0" fill="#595959" text-anchor="middle" textLength="26" lengthAdjust="spacingAndGlyphs">in Core Tumor</text>
<circle cx="44.10" cy="532.00" r="1.70" fill="#A5A5A5" />
<path d="M61.80 513.90 L96.40 500.00" fill="none" stroke="#FFC000" stroke-width="1.0" stroke-linejoin="round"/>
<circle cx="61.80" cy="513.90" r="1.90" fill="#FFC000" />
<circle cx="96.40" cy="500.00" r="1.90" fill="#FFC000" />
<path d="M44.10 541.00 L61.80 547.50" fill="none" stroke="#ED7D31" stroke-width="1.0" stroke-linejoin="round"/>
<circle cx="44.10" cy="541.00" r="1.90" fill="#ED7D31" />
<circle cx="61.80" cy="547.50" r="1.90" fill="#ED7D31" />
<path d="M44.10 542.00 L61.80 553.70" fill="none" stroke="#4472C4" stroke-width="1.0" stroke-linejoin="round"/>
<circle cx="44.10" cy="542.00" r="1.90" fill="#4472C4" />
<circle cx="61.80" cy="553.70" r="1.90" fill="#4472C4" />
<path d="M44.10 539.00 L79.10 521.50 L96.40 500.00" fill="none" stroke="#5B9BD5" stroke-width="1.0" stroke-linejoin="round"/>
<circle cx="44.10" cy="539.00" r="1.90" fill="#5B9BD5" />
<circle cx="79.10" cy="521.50" r="1.90" fill="#5B9BD5" />
<circle cx="96.40" cy="500.00" r="1.90" fill="#5B9BD5" />
<line x1="133.50" y1="558.60" x2="204.60" y2="558.60" stroke="#D9D9D9" stroke-width="0.5" />
<line x1="133.50" y1="545.90" x2="204.60" y2="545.90" stroke="#D9D9D9" stroke-width="0.5" />
<line x1="133.50" y1="533.20" x2="204.60" y2="533.20" stroke="#D9D9D9" stroke-width="0.5" />
<line x1="133.50" y1="520.70" x2="204.60" y2="520.70" stroke="#D9D9D9" stroke-width="0.5" />
<line x1="133.50" y1="508.20" x2="204.60" y2="508.20" stroke="#D9D9D9" stroke-width="0.5" />
<text x="130.00" y="560.00" font-size="3.9" fill="#7F7F7F" text-anchor="end" stroke="#7F7F7F" stroke-width="0.086" >0</text>
<text x="130.00" y="547.30" font-size="3.9" fill="#7F7F7F" text-anchor="end" stroke="#7F7F7F" stroke-width="0.086" >0.2</text>
<text x="130.00" y="534.60" font-size="3.9" fill="#7F7F7F" text-anchor="end" stroke="#7F7F7F" stroke-width="0.086" >0.4</text>
<text x="130.00" y="522.10" font-size="3.9" fill="#7F7F7F" text-anchor="end" stroke="#7F7F7F" stroke-width="0.086" >0.6</text>
<text x="130.00" y="509.60" font-size="3.9" fill="#7F7F7F" text-anchor="end" stroke="#7F7F7F" stroke-width="0.086" >0.8</text>
<text x="130.00" y="497.10" font-size="3.9" fill="#7F7F7F" text-anchor="end" stroke="#7F7F7F" stroke-width="0.086" >1</text>
<text x="141.90" y="565.60" font-size="3.9" fill="#7F7F7F" text-anchor="middle" stroke="#7F7F7F" stroke-width="0.086" >Scr</text>
<text x="159.50" y="565.60" font-size="3.9" fill="#7F7F7F" text-anchor="middle" stroke="#7F7F7F" stroke-width="0.086" >V6</text>
<text x="177.00" y="565.60" font-size="3.9" fill="#7F7F7F" text-anchor="middle" stroke="#7F7F7F" stroke-width="0.086" >V12</text>
<text x="194.50" y="565.60" font-size="3.9" fill="#7F7F7F" text-anchor="middle" stroke="#7F7F7F" stroke-width="0.086" >V18</text>
<text transform="translate(115.60,527) rotate(-90)" font-size="4.0" fill="#595959" text-anchor="middle" textLength="57" lengthAdjust="spacingAndGlyphs">Ratio CD8/CD3 Cell Density in</text>
<text transform="translate(120.80,527) rotate(-90)" font-size="4.0" fill="#595959" text-anchor="middle" textLength="22" lengthAdjust="spacingAndGlyphs">Core Tumor</text>
<circle cx="141.90" cy="537.40" r="1.70" fill="#A5A5A5" />
<circle cx="141.90" cy="539.20" r="1.90" fill="#4472C4" />
<path d="M159.50 528.60 L177.00 522.70 L194.50 516.90" fill="none" stroke="#FFC000" stroke-width="1.0" stroke-linejoin="round"/>
<circle cx="159.50" cy="528.60" r="1.90" fill="#FFC000" />
<circle cx="177.00" cy="522.70" r="1.90" fill="#FFC000" />
<circle cx="194.50" cy="516.90" r="1.90" fill="#FFC000" />
<path d="M141.90 544.70 L159.50 550.10" fill="none" stroke="#ED7D31" stroke-width="1.0" stroke-linejoin="round"/>
<circle cx="141.90" cy="544.70" r="1.90" fill="#ED7D31" />
<circle cx="159.50" cy="550.10" r="1.90" fill="#ED7D31" />
<path d="M141.90 516.70 L177.00 522.90 L194.50 504.20" fill="none" stroke="#5B9BD5" stroke-width="1.0" stroke-linejoin="round"/>
<circle cx="141.90" cy="516.70" r="1.90" fill="#5B9BD5" />
<circle cx="177.00" cy="522.90" r="1.90" fill="#5B9BD5" />
<circle cx="194.50" cy="504.20" r="1.90" fill="#5B9BD5" />
<line x1="223.80" y1="558.30" x2="302.30" y2="558.30" stroke="#D9D9D9" stroke-width="0.5" />
<line x1="223.80" y1="542.40" x2="302.30" y2="542.40" stroke="#D9D9D9" stroke-width="0.5" />
<line x1="223.80" y1="526.50" x2="302.30" y2="526.50" stroke="#D9D9D9" stroke-width="0.5" />
<line x1="223.80" y1="511.00" x2="302.30" y2="511.00" stroke="#D9D9D9" stroke-width="0.5" />
<line x1="223.80" y1="495.70" x2="302.30" y2="495.70" stroke="#D9D9D9" stroke-width="0.5" />
<text x="219.60" y="559.70" font-size="3.9" fill="#7F7F7F" text-anchor="end" stroke="#7F7F7F" stroke-width="0.086" >0</text>
<text x="219.60" y="543.80" font-size="3.9" fill="#7F7F7F" text-anchor="end" stroke="#7F7F7F" stroke-width="0.086" >1</text>
<text x="219.60" y="527.90" font-size="3.9" fill="#7F7F7F" text-anchor="end" stroke="#7F7F7F" stroke-width="0.086" >2</text>
<text x="219.60" y="512.40" font-size="3.9" fill="#7F7F7F" text-anchor="end" stroke="#7F7F7F" stroke-width="0.086" >3</text>
<text x="219.60" y="497.10" font-size="3.9" fill="#7F7F7F" text-anchor="end" stroke="#7F7F7F" stroke-width="0.086" >4</text>
<text x="233.20" y="565.60" font-size="3.9" fill="#7F7F7F" text-anchor="middle" stroke="#7F7F7F" stroke-width="0.086" >Scr</text>
<text x="252.90" y="565.60" font-size="3.9" fill="#7F7F7F" text-anchor="middle" stroke="#7F7F7F" stroke-width="0.086" >V6</text>
<text x="272.50" y="565.60" font-size="3.9" fill="#7F7F7F" text-anchor="middle" stroke="#7F7F7F" stroke-width="0.086" >V12</text>
<text x="292.40" y="565.60" font-size="3.9" fill="#7F7F7F" text-anchor="middle" stroke="#7F7F7F" stroke-width="0.086" >V18</text>
<text transform="translate(214.60,527) rotate(-90)" font-size="4.0" fill="#595959" text-anchor="middle" textLength="53" lengthAdjust="spacingAndGlyphs">Immunoscore® CR Metastasis</text>
<path d="M233.20 526.50 L252.90 526.50 L272.50 526.50 L292.40 526.50" fill="none" stroke="#5B9BD5" stroke-width="1.0" stroke-linejoin="round"/>
<circle cx="233.20" cy="526.50" r="1.60" fill="#5B9BD5" />
<circle cx="252.90" cy="526.50" r="1.60" fill="#5B9BD5" />
<circle cx="272.50" cy="526.50" r="1.60" fill="#5B9BD5" />
<circle cx="292.40" cy="526.50" r="1.60" fill="#5B9BD5" />
<path d="M233.20 526.50 L252.90 526.50" fill="none" stroke="#A5A5A5" stroke-width="1.4" stroke-linejoin="round"/>
<circle cx="233.20" cy="526.50" r="0.10" fill="#A5A5A5" />
<circle cx="252.90" cy="526.50" r="0.10" fill="#A5A5A5" />
<circle cx="233.20" cy="526.50" r="3.40" fill="#A5A5A5" />
<path d="M252.90 526.50 L292.40 511.00" fill="none" stroke="#FFC000" stroke-width="1.0" stroke-linejoin="round"/>
<circle cx="252.90" cy="526.50" r="1.90" fill="#FFC000" />
<circle cx="292.40" cy="511.00" r="1.90" fill="#FFC000" />
<circle cx="252.90" cy="526.50" r="2.80" fill="#ED7D31" />
<circle cx="328.60" cy="507.00" r="2.90" fill="#A5A5A5" />
<circle cx="328.60" cy="517.90" r="2.90" fill="#4472C4" />
<line x1="323.00" y1="529.00" x2="334.20" y2="529.00" stroke="#5B9BD5" stroke-width="0.9" />
<circle cx="328.60" cy="529.00" r="2.90" fill="#5B9BD5" />
<line x1="323.00" y1="540.00" x2="334.20" y2="540.00" stroke="#FFC000" stroke-width="0.9" />
<circle cx="328.60" cy="540.00" r="2.90" fill="#FFC000" />
<circle cx="328.60" cy="550.70" r="2.90" fill="#ED7D31" />
<rect x="338.10" y="502.60" width="30.80" height="9.00" fill="#FF0000" />
<text x="353.50" y="508.50" font-size="3.9" fill="#fff" font-weight="bold" text-anchor="middle" stroke="#fff" stroke-width="0.086" >020003</text>
<rect x="338.10" y="514.00" width="30.80" height="8.50" fill="#FF0000" />
<text x="353.50" y="519.65" font-size="3.9" fill="#fff" font-weight="bold" text-anchor="middle" stroke="#fff" stroke-width="0.086" >010008</text>
<rect x="338.10" y="524.90" width="30.80" height="8.50" fill="#5B9BD5" />
<text x="353.50" y="530.55" font-size="3.9" fill="#fff" font-weight="bold" text-anchor="middle" stroke="#fff" stroke-width="0.086" >010007</text>
<rect x="338.10" y="535.80" width="30.80" height="8.50" fill="#5B9BD5" />
<text x="353.50" y="541.45" font-size="3.9" fill="#fff" font-weight="bold" text-anchor="middle" stroke="#fff" stroke-width="0.086" >010002</text>
<rect x="338.10" y="546.70" width="30.80" height="8.60" fill="#5B9BD5" />
<text x="353.50" y="552.40" font-size="3.9" fill="#fff" font-weight="bold" text-anchor="middle" stroke="#fff" stroke-width="0.086" >020004</text>
<text x="19.05" y="575.90" font-size="6.0" fill="#000" textLength="253.55" lengthAdjust="spacingAndGlyphs" stroke="#000" stroke-width="0.132" >Multiple doses of PolyPEPI1018 promotes infiltration of cytotoxic CD8+ TILs into the Core tumor (CT)</text>
<text x="19.05" y="583.30" font-size="6.0" fill="#000" textLength="187.95" lengthAdjust="spacingAndGlyphs" stroke="#000" stroke-width="0.132" >Ratio of CD8/CD3+ T cells increases upon vaccination approaching almost 1</text>
<text x="19.05" y="591.10" font-size="6.0" fill="#000" textLength="322.65" lengthAdjust="spacingAndGlyphs" stroke="#000" stroke-width="0.132" >High Immunoscore®CR* is obtained upon vaccination for 1 patient with clinical benefit; *High Immunoscore®CR describes a</text>
<text x="19.05" y="598.50" font-size="6.0" fill="#000" textLength="151.65" lengthAdjust="spacingAndGlyphs" stroke="#000" stroke-width="0.132" >“hot” tumor, associated with response to immunotherapies³</text>
<circle cx="12.60" cy="574.10" r="1.00" fill="none" stroke="#444" stroke-width="0.35" />
<circle cx="12.60" cy="581.50" r="1.00" fill="none" stroke="#444" stroke-width="0.35" />
<circle cx="12.60" cy="589.30" r="1.00" fill="none" stroke="#444" stroke-width="0.35" />
<text x="4.00" y="612.30" font-size="4.4" fill="#000" font-weight="bold" textLength="21.30" lengthAdjust="spacingAndGlyphs" stroke="#000" stroke-width="0.097" >References</text>
<text x="4.00" y="618.80" font-size="4.4" fill="#444" textLength="334.00" lengthAdjust="spacingAndGlyphs" stroke="none">¹Lorincz et al. J Clin Oncol 2019; 37(15_suppl); ²Toke E, Hubbard et al. Frontiers Vaccination 2019; 7(7): 197; ³Galon Nat Rev Drug Discov 2019; 18(3):197-218;</text>
<text x="4.00" y="624.60" font-size="4.4" fill="#444" textLength="258.00" lengthAdjust="spacingAndGlyphs" stroke="none">⁴Ott et al. Nat 2017; 547(7662): 217-21; ⁵Sahin et al. Nat 2017; 547(7662): 222-6; ⁶Grothey et al. Annals Oncol 2018; 29(suppl_5).</text>
<!-- middle column -->
<rect x="408.00" y="79.00" width="281.40" height="545.80" fill="#2F5597" />
<text x="415.30" y="92.40" font-size="8.2" fill="#fff" textLength="266.40" lengthAdjust="spacingAndGlyphs" stroke="none">Maintenance therapy combined with multiple doses of PolyPEPI1018 led</text>
<text x="423.70" y="102.90" font-size="8.2" fill="#fff" textLength="249.60" lengthAdjust="spacingAndGlyphs" stroke="none">to objective responses and improved PFS for mCRC (MSS) patients</text>
<rect x="416.00" y="107.70" width="124.10" height="100.10" fill="#fff" />
<line x1="437.40" y1="197.20" x2="536.00" y2="197.20" stroke="#D9D9D9" stroke-width="0.5" />
<text x="433.40" y="123.30" font-size="3.9" fill="#7F7F7F" text-anchor="end" stroke="#7F7F7F" stroke-width="0.086" >100%</text>
<text x="433.40" y="138.40" font-size="3.9" fill="#7F7F7F" text-anchor="end" stroke="#7F7F7F" stroke-width="0.086" >80%</text>
<text x="433.40" y="153.40" font-size="3.9" fill="#7F7F7F" text-anchor="end" stroke="#7F7F7F" stroke-width="0.086" >60%</text>
<text x="433.40" y="168.50" font-size="3.9" fill="#7F7F7F" text-anchor="end" stroke="#7F7F7F" stroke-width="0.086" >40%</text>
<text x="433.40" y="183.50" font-size="3.9" fill="#7F7F7F" text-anchor="end" stroke="#7F7F7F" stroke-width="0.086" >20%</text>
<text x="433.40" y="198.60" font-size="3.9" fill="#7F7F7F" text-anchor="end" stroke="#7F7F7F" stroke-width="0.086" >0%</text>
<text x="437.40" y="204.20" font-size="3.9" fill="#7F7F7F" text-anchor="middle" stroke="#7F7F7F" stroke-width="0.086" >0</text>
<text x="470.00" y="204.20" font-size="3.9" fill="#7F7F7F" text-anchor="middle" stroke="#7F7F7F" stroke-width="0.086" >20</text>
<text x="502.60" y="204.20" font-size="3.9" fill="#7F7F7F" text-anchor="middle" stroke="#7F7F7F" stroke-width="0.086" >40</text>
<text x="535.20" y="204.20" font-size="3.9" fill="#7F7F7F" text-anchor="middle" stroke="#7F7F7F" stroke-width="0.086" >60</text>
<text x="484.60" y="206.00" font-size="3.9" fill="#7F7F7F" text-anchor="middle" stroke="#7F7F7F" stroke-width="0.086" >Weeks</text>
<text transform="translate(421.5,158.5) rotate(-90)" font-size="3.7" fill="#7F7F7F" text-anchor="middle" textLength="62" lengthAdjust="spacingAndGlyphs">% of patients without progression</text>
<line x1="421.00" y1="113.20" x2="429.20" y2="113.20" stroke="#A9A9A9" stroke-width="0.7" />
<text x="430.00" y="114.60" font-size="3.9" fill="#7F7F7F" textLength="38.00" lengthAdjust="spacingAndGlyphs" stroke="#7F7F7F" stroke-width="0.086" >Multiple doses (n=5)</text>
<line x1="471.20" y1="113.20" x2="479.50" y2="113.20" stroke="#4472C4" stroke-width="0.7" />
<text x="480.30" y="114.60" font-size="3.9" fill="#7F7F7F" textLength="31.00" lengthAdjust="spacingAndGlyphs" stroke="#7F7F7F" stroke-width="0.086" >Single dose (n=6)</text>
<path d="M517.90 112.00 L520.30 114.40 M517.90 114.40 L520.30 112.00 M519.10 112.00 V114.40" fill="none" stroke="#222" stroke-width="0.6" />
<text x="523.70" y="114.60" font-size="3.9" fill="#7F7F7F" textLength="12.80" lengthAdjust="spacingAndGlyphs" stroke="#7F7F7F" stroke-width="0.086" >Censor</text>
<path d="M437.4 121.9 H489.1 V137.1 H525.7 V152.1 H527 V167.3 H534.3" fill="none" stroke="#A9A9A9" stroke-width="0.7" />
<path d="M437.4 121.9 H453.3 V147.2 H459 V159 H473.1 V172.4 H483.5 V184.4 H485.9" fill="none" stroke="#A8C0EA" stroke-width="0.95" />
<path d="M437.4 121.9 H453.3 V147.2 H459 V159 H473.1 V172.4 H483.5 V184.4 H485.9" fill="none" stroke="#4472C4" stroke-width="0.6" />
<path d="M476.70 120.60 L479.30 123.20 M476.70 123.20 L479.30 120.60 M478.00 120.60 V123.20" fill="none" stroke="#222" stroke-width="0.6" />
<path d="M533.00 166.00 L535.60 168.60 M533.00 168.60 L535.60 166.00 M534.30 166.00 V168.60" fill="none" stroke="#222" stroke-width="0.6" />
<path d="M484.40 183.10 L487.00 185.70 M484.40 185.70 L487.00 183.10 M485.70 183.10 V185.70" fill="none" stroke="#222" stroke-width="0.6" />
<line x1="547.50" y1="110.60" x2="680.50" y2="110.60" stroke="#E3E9F5" stroke-width="0.55" />
<line x1="547.50" y1="124.50" x2="680.50" y2="124.50" stroke="#E3E9F5" stroke-width="0.55" />
<line x1="547.50" y1="137.60" x2="680.50" y2="137.60" stroke="#E3E9F5" stroke-width="0.55" />
<line x1="547.50" y1="151.30" x2="680.50" y2="151.30" stroke="#E3E9F5" stroke-width="0.9" />
<line x1="547.50" y1="165.50" x2="680.50" y2="165.50" stroke="#E3E9F5" stroke-width="0.55" />
<line x1="547.50" y1="110.60" x2="547.50" y2="165.50" stroke="#E3E9F5" stroke-width="0.55" />
<line x1="597.00" y1="110.60" x2="597.00" y2="165.50" stroke="#E3E9F5" stroke-width="0.55" />
<line x1="638.00" y1="110.60" x2="638.00" y2="165.50" stroke="#E3E9F5" stroke-width="0.55" />
<line x1="680.50" y1="110.60" x2="680.50" y2="165.50" stroke="#E3E9F5" stroke-width="0.55" />
<text x="562.20" y="120.15" font-size="7.4" fill="#fff" font-weight="bold" textLength="20.10" lengthAdjust="spacingAndGlyphs" stroke="#fff" stroke-width="0.163" >Doses</text>
<text x="610.05" y="120.15" font-size="7.4" fill="#fff" font-weight="bold" textLength="14.90" lengthAdjust="spacingAndGlyphs" stroke="#fff" stroke-width="0.163" >ORR</text>
<text x="652.10" y="120.15" font-size="7.4" fill="#fff" font-weight="bold" textLength="14.30" lengthAdjust="spacingAndGlyphs" stroke="#fff" stroke-width="0.163" >DCR</text>
<text x="572.25" y="133.65" font-size="7.6" fill="#fff" text-anchor="middle" stroke="#fff" stroke-width="0.167" >1</text>
<text x="610.25" y="133.65" font-size="7.6" fill="#fff" textLength="14.50" lengthAdjust="spacingAndGlyphs" stroke="#fff" stroke-width="0.167" >17%</text>
<text x="652.00" y="133.65" font-size="7.6" fill="#fff" textLength="14.50" lengthAdjust="spacingAndGlyphs" stroke="#fff" stroke-width="0.167" >50%</text>
<text x="567.50" y="147.05" font-size="7.6" fill="#fff" textLength="9.50" lengthAdjust="spacingAndGlyphs" stroke="#fff" stroke-width="0.167" >≥ 2</text>
<text x="610.25" y="147.05" font-size="7.6" fill="#fff" textLength="14.50" lengthAdjust="spacingAndGlyphs" stroke="#fff" stroke-width="0.167" >40%</text>
<text x="652.00" y="147.05" font-size="7.6" fill="#fff" textLength="14.50" lengthAdjust="spacingAndGlyphs" stroke="#fff" stroke-width="0.167" >80%</text>
<text x="566.15" y="161.00" font-size="7.6" fill="#fff" textLength="12.20" lengthAdjust="spacingAndGlyphs" stroke="#fff" stroke-width="0.167" >Any</text>
<text x="610.25" y="161.00" font-size="7.6" fill="#fff" textLength="14.50" lengthAdjust="spacingAndGlyphs" stroke="#fff" stroke-width="0.167" >27%</text>
<text x="652.00" y="161.00" font-size="7.6" fill="#fff" textLength="14.50" lengthAdjust="spacingAndGlyphs" stroke="#fff" stroke-width="0.167" >64%</text>
<text x="547.50" y="173.40" font-size="4.5" fill="#E8EEF8" textLength="111.90" lengthAdjust="spacingAndGlyphs" stroke="#E8EEF8" stroke-width="0.099" >ORR: Objective response rate; DCR: Disease control rate</text>
<text x="548.90" y="184.60" font-size="6.0" fill="#fff" textLength="61.20" lengthAdjust="spacingAndGlyphs" stroke="none">HR: 0.23 [0.050, 1.094]</text>
<text x="548.90" y="192.70" font-size="6.0" fill="#fff" textLength="18.10" lengthAdjust="spacingAndGlyphs" stroke="none">P=0.03</text>
<text x="548.90" y="200.80" font-size="6.0" fill="#fff" textLength="92.70" lengthAdjust="spacingAndGlyphs" stroke="none">(not censored for curative surgery)</text>
<text x="414.50" y="223.00" font-size="9.2" fill="#fff" font-weight="bold" textLength="51.50" lengthAdjust="spacingAndGlyphs" stroke="#fff" stroke-width="0.202" >Conclusions:</text>
<rect x="414.50" y="224.01" width="51.50" height="0.92" fill="#fff"/>
<circle cx="416.80" cy="231.30" r="1.15" fill="none" stroke="#E6ECF7" stroke-width="0.45" />
<text x="422.30" y="233.50" font-size="7.6" fill="#fff" textLength="196.20" lengthAdjust="spacingAndGlyphs" stroke="#fff" stroke-width="0.167" >Vaccination with PolyPEPI1018 was safe and well tolerated</text>
<circle cx="416.80" cy="251.60" r="1.15" fill="none" stroke="#E6ECF7" stroke-width="0.45" />
<text transform="translate(422.30,253.80) scale(1.0,1)" font-size="7.6" fill="#fff" word-spacing="0.406" stroke="#fff" stroke-width="0.167">For 7 out of the 10 immune evaluable patients we found pre-existing immune</text>
<text transform="translate(422.30,263.50) scale(1.0,1)" font-size="7.6" fill="#fff" word-spacing="0.370" stroke="#fff" stroke-width="0.167">responses against vaccine antigens confirming the expression of target CTAs</text>
<text x="422.30" y="273.30" font-size="7.6" fill="#fff" textLength="95.90" lengthAdjust="spacingAndGlyphs" stroke="#fff" stroke-width="0.167" >on the surface of the tumors</text>
<circle cx="416.80" cy="291.40" r="1.15" fill="none" stroke="#E6ECF7" stroke-width="0.45" />
<text transform="translate(422.30,293.60) scale(1.0,1)" font-size="7.6" fill="#fff" word-spacing="2.092" stroke="#fff" stroke-width="0.167">Patients with durable clinical benefit had low level but broad pre-existing</text>
<text transform="translate(422.30,303.20) scale(1.0,1)" font-size="7.6" fill="#fff" word-spacing="0.082" stroke="#fff" stroke-width="0.167">anticancer immunity successfully boosted by PolyPEPI1018 at both peripheral</text>
<text x="422.30" y="313.10" font-size="7.6" fill="#fff" textLength="53.10" lengthAdjust="spacingAndGlyphs" stroke="#fff" stroke-width="0.167" >and tumor level</text>
<circle cx="416.80" cy="330.90" r="1.15" fill="none" stroke="#E6ECF7" stroke-width="0.45" />
<text transform="translate(422.30,333.10) scale(1.0,1)" font-size="7.6" fill="#fff" word-spacing="4.557" stroke="#fff" stroke-width="0.167">Anticancer immunity demonstrated to be HLA-genotype dependent –</text>
<text x="422.30" y="342.80" font-size="7.6" fill="#fff" textLength="221.50" lengthAdjust="spacingAndGlyphs" stroke="#fff" stroke-width="0.167" >predicting also treatment benefit -  AGP may be developed as CDx</text>
<circle cx="416.80" cy="360.80" r="1.15" fill="none" stroke="#E6ECF7" stroke-width="0.45" />
<text transform="translate(422.30,363.00) scale(1.0,1)" font-size="7.6" fill="#fff" word-spacing="1.423" stroke="#fff" stroke-width="0.167">Multiantigenic CD8+ T cell responses detected for 80% of patients exceed</text>
<text x="422.30" y="372.60" font-size="7.6" fill="#fff" textLength="244.20" lengthAdjust="spacingAndGlyphs" stroke="#fff" stroke-width="0.167" >immune response rates reported for personalized neoantigen vaccines⁴·⁵</text>
<circle cx="416.80" cy="386.80" r="1.15" fill="none" stroke="#E6ECF7" stroke-width="0.45" />
<text transform="translate(422.30,389.00) scale(1.0,1)" font-size="7.6" fill="#fff" word-spacing="1.095" stroke="#fff" stroke-width="0.167">Three patients control their disease for at least 12 months delaying second</text>
<text transform="translate(422.30,399.10) scale(1.0,1)" font-size="7.6" fill="#fff" word-spacing="1.101" stroke="#fff" stroke-width="0.167">line treatment; mPFS = 12.5 compares favorably to historical data obtained</text>
<text transform="translate(422.30,409.30) scale(1.0,1)" font-size="7.6" fill="#fff" word-spacing="1.087" stroke="#fff" stroke-width="0.167">from MODUL trial with a recent relevant large cohort (n=148) (mPFS =7.39</text>
<text transform="translate(422.30,419.10) scale(1.0,1)" font-size="7.6" fill="#fff" word-spacing="1.636" stroke="#fff" stroke-width="0.167">months)⁶. Importantly, in this study, checkpoint inhibitor combined with the</text>
<text x="422.30" y="428.80" font-size="7.6" fill="#fff" textLength="176.70" lengthAdjust="spacingAndGlyphs" stroke="#fff" stroke-width="0.167" >maintenance therapy did not improve mPFS, as well.</text>
<text x="414.50" y="447.80" font-size="9.2" fill="#fff" font-weight="bold" textLength="72.60" lengthAdjust="spacingAndGlyphs" stroke="#fff" stroke-width="0.202" >Future directions:</text>
<rect x="414.50" y="448.81" width="72.60" height="0.92" fill="#fff"/>
<text transform="translate(414.50,458.10) scale(1.0,1)" font-size="7.6" fill="#fff" word-spacing="0.728" stroke="#fff" stroke-width="0.167">Based on these encouraging results, PolyPEPI1018 with CDx is planned to be</text>
<text x="414.50" y="467.80" font-size="7.6" fill="#fff" textLength="22.50" lengthAdjust="spacingAndGlyphs" stroke="#fff" stroke-width="0.167" >tested:</text>
<circle cx="427.90" cy="475.60" r="1.15" fill="none" stroke="#E6ECF7" stroke-width="0.45" />
<circle cx="427.90" cy="485.60" r="1.15" fill="none" stroke="#E6ECF7" stroke-width="0.45" />
<circle cx="427.90" cy="495.70" r="1.15" fill="none" stroke="#E6ECF7" stroke-width="0.45" />
<text x="434.50" y="477.80" font-size="7.6" fill="#fff" textLength="216.50" lengthAdjust="spacingAndGlyphs" stroke="#fff" stroke-width="0.167" >In the same patient population in a randomized controlled study</text>
<text x="434.50" y="487.80" font-size="7.6" fill="#fff" textLength="175.60" lengthAdjust="spacingAndGlyphs" stroke="#fff" stroke-width="0.167" >In late-stage patients as add-on to third-line therapy</text>
<text transform="translate(434.50,497.90) scale(1.0,1)" font-size="7.6" fill="#fff" word-spacing="1.050" stroke="#fff" stroke-width="0.167">Given the boosting effect on the pre-existing immunity, there is a strong</text>
<text x="434.50" y="507.30" font-size="7.6" fill="#fff" textLength="227.70" lengthAdjust="spacingAndGlyphs" stroke="#fff" stroke-width="0.167" >rational for combination of PolyPEPI1018 with checkpoint inhibitors</text>
<text x="414.50" y="517.80" font-size="4.9" fill="#fff" font-weight="bold" textLength="44.50" lengthAdjust="spacingAndGlyphs" stroke="#fff" stroke-width="0.108" >Acknowledgements</text>
<text x="414.40" y="524.60" font-size="4.9" fill="#D5DEF0" textLength="266.20" lengthAdjust="spacingAndGlyphs" stroke="none">We would like to acknowledge the work of the clinical staff performing the study. We would also like to thank the</text>
<text x="414.40" y="531.60" font-size="4.9" fill="#D5DEF0" textLength="167.60" lengthAdjust="spacingAndGlyphs" stroke="none">contribution of patients and their families who participated in the study.</text>
<rect x="410.80" y="543.00" width="190.70" height="79.30" fill="#fff" rx="9.5" />
<text x="431.10" y="557.80" font-size="10.2" fill="#231F20" font-family='"Liberation Serif", serif' textLength="37.80" lengthAdjust="spacingAndGlyphs" stroke="#231F20" stroke-width="0.224" >MAYO</text>
<text x="428.30" y="567.80" font-size="10.2" fill="#231F20" font-family='"Liberation Serif", serif' textLength="43.40" lengthAdjust="spacingAndGlyphs" stroke="#231F20" stroke-width="0.224" >CLINIC</text>
<path d="M435.00 570.80 H447.20 V578.02 C447.20 583.18 443.78 586.28 441.10 588.00 C438.42 586.28 435.00 583.18 435.00 578.02 Z" fill="#fff" stroke="#2C6DB5" stroke-width="0.75" />
<line x1="434.70" y1="571.05" x2="447.50" y2="571.05" stroke="#2C6DB5" stroke-width="1.25" />
<path d="M452.80 570.80 H465.00 V578.02 C465.00 583.18 461.58 586.28 458.90 588.00 C456.22 586.28 452.80 583.18 452.80 578.02 Z" fill="#fff" stroke="#2C6DB5" stroke-width="0.75" />
<line x1="452.50" y1="571.05" x2="465.30" y2="571.05" stroke="#2C6DB5" stroke-width="1.25" />
<path d="M442.80 575.00 H457.80 V582.94 C457.80 588.61 453.60 592.01 450.30 593.90 C447.00 592.01 442.80 588.61 442.80 582.94 Z" fill="none" stroke="#2C6DB5" stroke-width="0.75" />
<line x1="442.50" y1="575.25" x2="458.10" y2="575.25" stroke="#2C6DB5" stroke-width="1.25" />
<path d="M444.6 575 V586.5 M455.9 575 V586.5" fill="none" stroke="#2C6DB5" stroke-width="0.7" />
<circle cx="505.20" cy="572.20" r="13.90" fill="#DCE8F3" stroke="#3B78B0" stroke-width="0.8" />
<circle cx="505.20" cy="572.20" r="12.30" fill="#C5D9EB" stroke="#3B78B0" stroke-width="0.4" />
<defs><path id="arcp" d="M497.40 585.71 A15.6 15.6 0 1 1 513.00 585.71"/></defs>
<text font-size="6.1" fill="#3B78B0" font-family='"Liberation Serif", serif' font-weight="bold" letter-spacing="0"><textPath href="#arcp" startOffset="50%" text-anchor="middle">IN SUPREMÆ DIGNITATIS</textPath></text>
<text x="505.50" y="592.80" font-size="5.6" fill="#3B78B0" font-weight="bold" text-anchor="middle" font-family='"Liberation Serif", serif' stroke="#3B78B0" stroke-width="0.123" >1343</text>
<circle cx="492.80" cy="587.20" r="0.60" fill="#3B78B0" />
<circle cx="518.00" cy="587.20" r="0.60" fill="#3B78B0" />
<path d="M500.00 569.20 q-3.4 -3.6 -1.2 -6.4 q2.4 -2.8 6.4 -2 q4 -0.8 6.4 2 q2.2 2.8 -1.2 6.4" fill="#9EBFDD" stroke="#3B78B0" stroke-width="0.8" />
<path d="M500.20 572.70 q-5.5 -0.5 -7.8 -5 q4.6 -0.4 7.4 2.4 M510.20 572.70 q5.5 -0.5 7.8 -5 q-4.6 -0.4 -7.4 2.4" fill="#AFCBE3" stroke="#3B78B0" stroke-width="0.7" />
<path d="M500.20 575.20 q-4.5 2.4 -7.4 0.4 q1.6 4.4 6.6 4 M510.20 575.20 q4.5 2.4 7.4 0.4 q-1.6 4.4 -6.6 4" fill="#AFCBE3" stroke="#3B78B0" stroke-width="0.7" />
<ellipse cx="505.20" cy="572.00" rx="4.3" ry="5" fill="#EEF4FA" stroke="#3B78B0" stroke-width="0.6"/>
<path d="M501.00 578.00 q4.2 5 8.4 0 M499.20 580.60 q6 4.4 12 0 M501.80 583.10 h6.8" fill="none" stroke="#3B78B0" stroke-width="0.7" />
<path d="M502.80 571.00 h1.6 M506.00 571.00 h1.6 M504.10 574.60 q1.1 0.8 2.2 0 M505.20 571.60 v1.8" fill="none" stroke="#3B78B0" stroke-width="0.5" />
<line x1="530.80" y1="551.90" x2="530.80" y2="592.60" stroke="#3B78B0" stroke-width="0.7" />
<text x="538.60" y="569.90" font-size="8.2" fill="#2E6CA6" font-weight="bold" font-family='"Liberation Serif", serif' textLength="43.10" lengthAdjust="spacingAndGlyphs" stroke="#2E6CA6" stroke-width="0.180" >U<tspan font-size="6.2">NIVERSITÀ</tspan></text>
<text x="538.60" y="581.10" font-size="8.2" fill="#2E6CA6" font-weight="bold" font-family='"Liberation Serif", serif' textLength="25.30" lengthAdjust="spacingAndGlyphs" stroke="#2E6CA6" stroke-width="0.180" ><tspan font-size="6.2">DI </tspan>P<tspan font-size="6.2">ISA</tspan></text>
<text x="437.40" y="615.80" font-size="21.2" fill="#3A3A3A" font-weight="bold" textLength="25.40" lengthAdjust="spacingAndGlyphs" stroke="#3A3A3A" stroke-width="0.466" >TR</text>
<rect x="464.90" y="600.40" width="10.40" height="3.00" fill="#3A3A3A" />
<rect x="464.90" y="606.60" width="10.40" height="3.00" fill="#3A3A3A" />
<rect x="464.90" y="612.90" width="10.40" height="3.00" fill="#3A3A3A" />
<text x="477.10" y="615.80" font-size="21.2" fill="#E9A21F" font-weight="bold" textLength="26.40" lengthAdjust="spacingAndGlyphs" stroke="#E9A21F" stroke-width="0.466" >OS</text>
<rect x="507.30" y="600.00" width="1.30" height="16.70" fill="#3A3A3A" />
<text x="513.20" y="603.60" font-size="5.6" fill="#8A8A8A" textLength="61.50" lengthAdjust="spacingAndGlyphs" stroke="#8A8A8A" stroke-width="0.123" >Peptide Immunotherapy</text>
<text x="513.20" y="610.40" font-size="5.6" fill="#8A8A8A" textLength="52.60" lengthAdjust="spacingAndGlyphs" stroke="#8A8A8A" stroke-width="0.123" >Digitally Matched To</text>
<text x="513.20" y="616.60" font-size="5.6" fill="#8A8A8A" textLength="42.00" lengthAdjust="spacingAndGlyphs" stroke="#8A8A8A" stroke-width="0.123" >Patient Genetics</text>
<rect x="621.80" y="542.90" width="48.50" height="48.70" fill="#fff" />
<path d="M630.2 546.1h1.3v0.67h-1.3zM632.2 546.1h0.7v0.67h-0.7zM633.6 546.1h5.3v0.67h-5.3zM639.6 546.1h1.3v0.67h-1.3zM642.9 546.1h0.7v0.67h-0.7zM644.2 546.1h0.7v0.67h-0.7zM645.6 546.1h2.7v0.67h-2.7zM648.9 546.1h0.7v0.67h-0.7zM650.9 546.1h0.7v0.67h-0.7zM652.2 546.1h2.0v0.67h-2.0zM654.9 546.1h1.3v0.67h-1.3zM656.9 546.1h1.3v0.67h-1.3zM659.6 546.1h0.7v0.67h-0.7zM631.6 546.8h0.7v0.67h-0.7zM632.9 546.8h1.3v0.67h-1.3zM634.9 546.8h2.0v0.67h-2.0zM639.6 546.8h0.7v0.67h-0.7zM642.2 546.8h0.7v0.67h-0.7zM644.2 546.8h0.7v0.67h-0.7zM645.6 546.8h0.7v0.67h-0.7zM648.9 546.8h1.3v0.67h-1.3zM650.9 546.8h3.3v0.67h-3.3zM654.9 546.8h2.0v0.67h-2.0zM657.6 546.8h1.3v0.67h-1.3zM630.2 547.4h2.0v0.67h-2.0zM633.6 547.4h3.3v0.67h-3.3zM637.6 547.4h2.7v0.67h-2.7zM642.2 547.4h0.7v0.67h-0.7zM644.2 547.4h0.7v0.67h-0.7zM647.6 547.4h2.0v0.67h-2.0zM650.2 547.4h7.3v0.67h-7.3zM658.9 547.4h2.7v0.67h-2.7zM630.2 548.1h0.7v0.67h-0.7zM632.2 548.1h4.0v0.67h-4.0zM636.9 548.1h1.3v0.67h-1.3zM639.6 548.1h0.7v0.67h-0.7zM640.9 548.1h0.7v0.67h-0.7zM644.2 548.1h2.0v0.67h-2.0zM648.2 548.1h1.3v0.67h-1.3zM653.6 548.1h4.7v0.67h-4.7zM659.6 548.1h0.7v0.67h-0.7zM630.9 548.8h3.3v0.67h-3.3zM636.2 548.8h0.7v0.67h-0.7zM638.2 548.8h0.7v0.67h-0.7zM641.6 548.8h1.3v0.67h-1.3zM643.6 548.8h0.7v0.67h-0.7zM645.6 548.8h1.3v0.67h-1.3zM648.2 548.8h2.0v0.67h-2.0zM651.6 548.8h0.7v0.67h-0.7zM654.2 548.8h0.7v0.67h-0.7zM655.6 548.8h1.3v0.67h-1.3zM659.6 548.8h0.7v0.67h-0.7zM630.2 549.4h2.7v0.67h-2.7zM633.6 549.4h2.0v0.67h-2.0zM636.2 549.4h1.3v0.67h-1.3zM638.9 549.4h0.7v0.67h-0.7zM640.2 549.4h0.7v0.67h-0.7zM642.2 549.4h2.7v0.67h-2.7zM645.6 549.4h1.3v0.67h-1.3zM648.2 549.4h1.3v0.67h-1.3zM650.9 549.4h0.7v0.67h-0.7zM652.2 549.4h1.3v0.67h-1.3zM654.2 549.4h0.7v0.67h-0.7zM656.9 549.4h0.7v0.67h-0.7zM658.2 549.4h1.3v0.67h-1.3zM660.2 549.4h0.7v0.67h-0.7zM630.2 550.1h0.7v0.67h-0.7zM633.6 550.1h0.7v0.67h-0.7zM636.2 550.1h4.0v0.67h-4.0zM642.2 550.1h0.7v0.67h-0.7zM644.2 550.1h0.7v0.67h-0.7zM646.2 550.1h0.7v0.67h-0.7zM647.6 550.1h1.3v0.67h-1.3zM650.2 550.1h4.0v0.67h-4.0zM654.9 550.1h0.7v0.67h-0.7zM656.2 550.1h2.0v0.67h-2.0zM658.9 550.1h1.3v0.67h-1.3zM630.9 550.8h2.0v0.67h-2.0zM633.6 550.8h2.0v0.67h-2.0zM636.9 550.8h1.3v0.67h-1.3zM640.2 550.8h1.3v0.67h-1.3zM642.2 550.8h1.3v0.67h-1.3zM645.6 550.8h0.7v0.67h-0.7zM646.9 550.8h0.7v0.67h-0.7zM648.2 550.8h1.3v0.67h-1.3zM650.9 550.8h1.3v0.67h-1.3zM652.9 550.8h4.7v0.67h-4.7zM658.2 550.8h3.3v0.67h-3.3zM624.9 551.4h1.3v0.67h-1.3zM627.6 551.4h1.3v0.67h-1.3zM629.6 551.4h0.7v0.67h-0.7zM630.9 551.4h1.3v0.67h-1.3zM632.9 551.4h1.3v0.67h-1.3zM635.6 551.4h0.7v0.67h-0.7zM638.2 551.4h3.3v0.67h-3.3zM642.2 551.4h2.0v0.67h-2.0zM646.2 551.4h4.7v0.67h-4.7zM652.9 551.4h0.7v0.67h-0.7zM654.2 551.4h10.7v0.67h-10.7zM626.9 552.1h1.3v0.67h-1.3zM628.9 552.1h0.7v0.67h-0.7zM630.9 552.1h0.7v0.67h-0.7zM634.9 552.1h0.7v0.67h-0.7zM636.2 552.1h0.7v0.67h-0.7zM641.6 552.1h3.3v0.67h-3.3zM648.2 552.1h1.3v0.67h-1.3zM650.9 552.1h0.7v0.67h-0.7zM652.9 552.1h0.7v0.67h-0.7zM654.2 552.1h2.0v0.67h-2.0zM656.9 552.1h0.7v0.67h-0.7zM658.9 552.1h2.0v0.67h-2.0zM663.6 552.1h2.0v0.67h-2.0zM666.2 552.1h0.7v0.67h-0.7zM625.6 552.8h2.0v0.67h-2.0zM629.6 552.8h3.3v0.67h-3.3zM633.6 552.8h0.7v0.67h-0.7zM635.6 552.8h1.3v0.67h-1.3zM638.2 552.8h2.0v0.67h-2.0zM640.9 552.8h0.7v0.67h-0.7zM642.2 552.8h0.7v0.67h-0.7zM644.2 552.8h0.7v0.67h-0.7zM645.6 552.8h0.7v0.67h-0.7zM647.6 552.8h0.7v0.67h-0.7zM648.9 552.8h6.0v0.67h-6.0zM655.6 552.8h0.7v0.67h-0.7zM657.6 552.8h0.7v0.67h-0.7zM660.2 552.8h2.0v0.67h-2.0zM663.6 552.8h3.3v0.67h-3.3zM625.6 553.4h0.7v0.67h-0.7zM626.9 553.4h3.3v0.67h-3.3zM635.6 553.4h0.7v0.67h-0.7zM636.9 553.4h0.7v0.67h-0.7zM638.9 553.4h1.3v0.67h-1.3zM640.9 553.4h2.7v0.67h-2.7zM644.9 553.4h0.7v0.67h-0.7zM646.2 553.4h0.7v0.67h-0.7zM647.6 553.4h2.7v0.67h-2.7zM650.9 553.4h1.3v0.67h-1.3zM653.6 553.4h5.3v0.67h-5.3zM660.9 553.4h1.3v0.67h-1.3zM662.9 553.4h2.7v0.67h-2.7zM666.2 553.4h0.7v0.67h-0.7zM624.9 554.1h0.7v0.67h-0.7zM626.9 554.1h3.3v0.67h-3.3zM632.2 554.1h1.3v0.67h-1.3zM634.9 554.1h0.7v0.67h-0.7zM636.2 554.1h1.3v0.67h-1.3zM640.2 554.1h2.0v0.67h-2.0zM646.2 554.1h0.7v0.67h-0.7zM647.6 554.1h0.7v0.67h-0.7zM648.9 554.1h0.7v0.67h-0.7zM650.9 554.1h2.0v0.67h-2.0zM654.2 554.1h1.3v0.67h-1.3zM656.9 554.1h1.3v0.67h-1.3zM658.9 554.1h2.0v0.67h-2.0zM662.9 554.1h2.0v0.67h-2.0zM666.2 554.1h0.7v0.67h-0.7zM624.9 554.8h1.3v0.67h-1.3zM626.9 554.8h1.3v0.67h-1.3zM629.6 554.8h2.7v0.67h-2.7zM632.9 554.8h0.7v0.67h-0.7zM634.9 554.8h1.3v0.67h-1.3zM636.9 554.8h0.7v0.67h-0.7zM638.2 554.8h1.3v0.67h-1.3zM640.2 554.8h0.7v0.67h-0.7zM641.6 554.8h2.7v0.67h-2.7zM645.6 554.8h2.0v0.67h-2.0zM648.2 554.8h2.7v0.67h-2.7zM654.2 554.8h1.3v0.67h-1.3zM656.9 554.8h0.7v0.67h-0.7zM658.2 554.8h4.7v0.67h-4.7zM663.6 554.8h0.7v0.67h-0.7zM664.9 554.8h1.3v0.67h-1.3zM625.6 555.4h2.7v0.67h-2.7zM628.9 555.4h1.3v0.67h-1.3zM630.9 555.4h1.3v0.67h-1.3zM633.6 555.4h2.0v0.67h-2.0zM636.2 555.4h0.7v0.67h-0.7zM638.2 555.4h1.3v0.67h-1.3zM640.9 555.4h0.7v0.67h-0.7zM642.2 555.4h2.0v0.67h-2.0zM646.9 555.4h2.0v0.67h-2.0zM650.2 555.4h2.7v0.67h-2.7zM653.6 555.4h0.7v0.67h-0.7zM657.6 555.4h2.0v0.67h-2.0zM660.2 555.4h1.3v0.67h-1.3zM662.2 555.4h2.0v0.67h-2.0zM664.9 555.4h0.7v0.67h-0.7zM625.6 556.1h2.7v0.67h-2.7zM628.9 556.1h2.0v0.67h-2.0zM634.2 556.1h0.7v0.67h-0.7zM635.6 556.1h0.7v0.67h-0.7zM636.9 556.1h0.7v0.67h-0.7zM638.2 556.1h2.7v0.67h-2.7zM642.2 556.1h1.3v0.67h-1.3zM644.2 556.1h1.3v0.67h-1.3zM647.6 556.1h1.3v0.67h-1.3zM650.9 556.1h2.7v0.67h-2.7zM655.6 556.1h0.7v0.67h-0.7zM656.9 556.1h1.3v0.67h-1.3zM659.6 556.1h0.7v0.67h-0.7zM661.6 556.1h3.3v0.67h-3.3zM666.2 556.1h0.7v0.67h-0.7zM624.9 556.8h1.3v0.67h-1.3zM626.9 556.8h2.0v0.67h-2.0zM630.2 556.8h2.0v0.67h-2.0zM633.6 556.8h1.3v0.67h-1.3zM635.6 556.8h2.0v0.67h-2.0zM638.2 556.8h0.7v0.67h-0.7zM639.6 556.8h1.3v0.67h-1.3zM642.2 556.8h1.3v0.67h-1.3zM644.2 556.8h1.3v0.67h-1.3zM646.2 556.8h0.7v0.67h-0.7zM647.6 556.8h0.7v0.67h-0.7zM648.9 556.8h2.0v0.67h-2.0zM652.9 556.8h0.7v0.67h-0.7zM654.2 556.8h2.7v0.67h-2.7zM658.2 556.8h1.3v0.67h-1.3zM660.9 556.8h1.3v0.67h-1.3zM663.6 556.8h1.3v0.67h-1.3zM665.6 556.8h0.7v0.67h-0.7zM626.2 557.4h0.7v0.67h-0.7zM627.6 557.4h1.3v0.67h-1.3zM630.2 557.4h4.7v0.67h-4.7zM636.2 557.4h0.7v0.67h-0.7zM638.2 557.4h0.7v0.67h-0.7zM639.6 557.4h0.7v0.67h-0.7zM642.2 557.4h1.3v0.67h-1.3zM644.2 557.4h0.7v0.67h-0.7zM645.6 557.4h2.0v0.67h-2.0zM648.2 557.4h1.3v0.67h-1.3zM650.9 557.4h6.7v0.67h-6.7zM658.2 557.4h0.7v0.67h-0.7zM660.2 557.4h2.7v0.67h-2.7zM663.6 557.4h0.7v0.67h-0.7zM624.9 558.1h0.7v0.67h-0.7zM626.2 558.1h0.7v0.67h-0.7zM628.2 558.1h0.7v0.67h-0.7zM630.2 558.1h1.3v0.67h-1.3zM632.2 558.1h0.7v0.67h-0.7zM633.6 558.1h0.7v0.67h-0.7zM634.9 558.1h1.3v0.67h-1.3zM636.9 558.1h4.7v0.67h-4.7zM643.6 558.1h0.7v0.67h-0.7zM644.9 558.1h0.7v0.67h-0.7zM646.9 558.1h0.7v0.67h-0.7zM650.2 558.1h0.7v0.67h-0.7zM652.2 558.1h0.7v0.67h-0.7zM653.6 558.1h0.7v0.67h-0.7zM655.6 558.1h0.7v0.67h-0.7zM656.9 558.1h1.3v0.67h-1.3zM658.9 558.1h0.7v0.67h-0.7zM660.2 558.1h0.7v0.67h-0.7zM663.6 558.1h2.7v0.67h-2.7zM624.9 558.8h1.3v0.67h-1.3zM626.9 558.8h1.3v0.67h-1.3zM628.9 558.8h4.0v0.67h-4.0zM634.2 558.8h0.7v0.67h-0.7zM635.6 558.8h1.3v0.67h-1.3zM637.6 558.8h2.0v0.67h-2.0zM641.6 558.8h2.0v0.67h-2.0zM644.9 558.8h0.7v0.67h-0.7zM646.2 558.8h0.7v0.67h-0.7zM648.2 558.8h0.7v0.67h-0.7zM649.6 558.8h0.7v0.67h-0.7zM650.9 558.8h2.0v0.67h-2.0zM653.6 558.8h0.7v0.67h-0.7zM655.6 558.8h1.3v0.67h-1.3zM657.6 558.8h0.7v0.67h-0.7zM659.6 558.8h2.7v0.67h-2.7zM664.2 558.8h0.7v0.67h-0.7zM666.2 558.8h0.7v0.67h-0.7zM625.6 559.4h4.0v0.67h-4.0zM632.2 559.4h0.7v0.67h-0.7zM633.6 559.4h0.7v0.67h-0.7zM635.6 559.4h0.7v0.67h-0.7zM637.6 559.4h0.7v0.67h-0.7zM638.9 559.4h2.0v0.67h-2.0zM642.9 559.4h0.7v0.67h-0.7zM644.2 559.4h1.3v0.67h-1.3zM648.9 559.4h0.7v0.67h-0.7zM651.6 559.4h0.7v0.67h-0.7zM653.6 559.4h1.3v0.67h-1.3zM655.6 559.4h0.7v0.67h-0.7zM656.9 559.4h2.0v0.67h-2.0zM659.6 559.4h2.7v0.67h-2.7zM664.9 559.4h0.7v0.67h-0.7zM666.2 559.4h0.7v0.67h-0.7zM626.9 560.1h0.7v0.67h-0.7zM629.6 560.1h2.7v0.67h-2.7zM635.6 560.1h2.0v0.67h-2.0zM638.2 560.1h4.0v0.67h-4.0zM642.9 560.1h1.3v0.67h-1.3zM644.9 560.1h0.7v0.67h-0.7zM646.9 560.1h2.0v0.67h-2.0zM649.6 560.1h0.7v0.67h-0.7zM651.6 560.1h0.7v0.67h-0.7zM652.9 560.1h0.7v0.67h-0.7zM654.2 560.1h2.0v0.67h-2.0zM657.6 560.1h2.0v0.67h-2.0zM660.2 560.1h2.0v0.67h-2.0zM662.9 560.1h0.7v0.67h-0.7zM664.2 560.1h1.3v0.67h-1.3zM666.2 560.1h0.7v0.67h-0.7zM624.9 560.8h0.7v0.67h-0.7zM626.2 560.8h0.7v0.67h-0.7zM629.6 560.8h2.0v0.67h-2.0zM632.2 560.8h0.7v0.67h-0.7zM633.6 560.8h2.0v0.67h-2.0zM636.2 560.8h1.3v0.67h-1.3zM638.2 560.8h1.3v0.67h-1.3zM642.2 560.8h2.0v0.67h-2.0zM646.2 560.8h1.3v0.67h-1.3zM648.9 560.8h1.3v0.67h-1.3zM650.9 560.8h2.0v0.67h-2.0zM654.2 560.8h2.7v0.67h-2.7zM657.6 560.8h2.0v0.67h-2.0zM660.9 560.8h0.7v0.67h-0.7zM662.2 560.8h1.3v0.67h-1.3zM665.6 560.8h1.3v0.67h-1.3zM625.6 561.4h3.3v0.67h-3.3zM630.2 561.4h0.7v0.67h-0.7zM631.6 561.4h1.3v0.67h-1.3zM633.6 561.4h0.7v0.67h-0.7zM635.6 561.4h0.7v0.67h-0.7zM637.6 561.4h1.3v0.67h-1.3zM643.6 561.4h1.3v0.67h-1.3zM645.6 561.4h1.3v0.67h-1.3zM648.9 561.4h2.0v0.67h-2.0zM651.6 561.4h0.7v0.67h-0.7zM653.6 561.4h0.7v0.67h-0.7zM655.6 561.4h1.3v0.67h-1.3zM657.6 561.4h0.7v0.67h-0.7zM658.9 561.4h0.7v0.67h-0.7zM660.9 561.4h1.3v0.67h-1.3zM664.2 561.4h0.7v0.67h-0.7zM624.9 562.1h0.7v0.67h-0.7zM626.2 562.1h0.7v0.67h-0.7zM627.6 562.1h0.7v0.67h-0.7zM628.9 562.1h0.7v0.67h-0.7zM630.2 562.1h4.7v0.67h-4.7zM635.6 562.1h2.0v0.67h-2.0zM639.6 562.1h0.7v0.67h-0.7zM640.9 562.1h2.0v0.67h-2.0zM644.9 562.1h0.7v0.67h-0.7zM646.2 562.1h0.7v0.67h-0.7zM647.6 562.1h0.7v0.67h-0.7zM650.2 562.1h1.3v0.67h-1.3zM652.2 562.1h0.7v0.67h-0.7zM653.6 562.1h0.7v0.67h-0.7zM654.9 562.1h4.0v0.67h-4.0zM659.6 562.1h3.3v0.67h-3.3zM664.2 562.1h0.7v0.67h-0.7zM666.2 562.1h0.7v0.67h-0.7zM626.9 562.8h0.7v0.67h-0.7zM628.9 562.8h1.3v0.67h-1.3zM631.6 562.8h2.7v0.67h-2.7zM634.9 562.8h1.3v0.67h-1.3zM637.6 562.8h0.7v0.67h-0.7zM642.9 562.8h0.7v0.67h-0.7zM645.6 562.8h0.7v0.67h-0.7zM647.6 562.8h6.0v0.67h-6.0zM654.9 562.8h0.7v0.67h-0.7zM656.2 562.8h0.7v0.67h-0.7zM658.9 562.8h1.3v0.67h-1.3zM660.9 562.8h0.7v0.67h-0.7zM662.9 562.8h0.7v0.67h-0.7zM665.6 562.8h0.7v0.67h-0.7zM624.9 563.4h1.3v0.67h-1.3zM626.9 563.4h0.7v0.67h-0.7zM628.9 563.4h0.7v0.67h-0.7zM630.2 563.4h1.3v0.67h-1.3zM632.9 563.4h2.0v0.67h-2.0zM636.2 563.4h0.7v0.67h-0.7zM637.6 563.4h2.7v0.67h-2.7zM642.2 563.4h2.0v0.67h-2.0zM646.2 563.4h0.7v0.67h-0.7zM648.9 563.4h2.7v0.67h-2.7zM658.9 563.4h0.7v0.67h-0.7zM660.2 563.4h0.7v0.67h-0.7zM661.6 563.4h2.0v0.67h-2.0zM665.6 563.4h0.7v0.67h-0.7zM626.2 564.1h3.3v0.67h-3.3zM630.9 564.1h0.7v0.67h-0.7zM632.2 564.1h1.3v0.67h-1.3zM635.6 564.1h2.0v0.67h-2.0zM639.6 564.1h2.0v0.67h-2.0zM642.2 564.1h2.7v0.67h-2.7zM645.6 564.1h0.7v0.67h-0.7zM646.9 564.1h0.7v0.67h-0.7zM648.2 564.1h1.3v0.67h-1.3zM650.2 564.1h0.7v0.67h-0.7zM651.6 564.1h1.3v0.67h-1.3zM655.6 564.1h0.7v0.67h-0.7zM657.6 564.1h0.7v0.67h-0.7zM658.9 564.1h0.7v0.67h-0.7zM660.9 564.1h1.3v0.67h-1.3zM663.6 564.1h1.3v0.67h-1.3zM665.6 564.1h0.7v0.67h-0.7zM624.9 564.8h2.0v0.67h-2.0zM627.6 564.8h0.7v0.67h-0.7zM628.9 564.8h0.7v0.67h-0.7zM630.2 564.8h0.7v0.67h-0.7zM632.2 564.8h1.3v0.67h-1.3zM636.2 564.8h1.3v0.67h-1.3zM639.6 564.8h0.7v0.67h-0.7zM642.9 564.8h1.3v0.67h-1.3zM644.9 564.8h0.7v0.67h-0.7zM648.2 564.8h2.7v0.67h-2.7zM652.9 564.8h0.7v0.67h-0.7zM656.2 564.8h0.7v0.67h-0.7zM659.6 564.8h1.3v0.67h-1.3zM662.2 564.8h0.7v0.67h-0.7zM664.2 564.8h0.7v0.67h-0.7zM666.2 564.8h0.7v0.67h-0.7zM624.9 565.4h1.3v0.67h-1.3zM627.6 565.4h1.3v0.67h-1.3zM630.2 565.4h0.7v0.67h-0.7zM633.6 565.4h0.7v0.67h-0.7zM634.9 565.4h2.0v0.67h-2.0zM637.6 565.4h0.7v0.67h-0.7zM638.9 565.4h2.7v0.67h-2.7zM642.2 565.4h1.3v0.67h-1.3zM644.9 565.4h0.7v0.67h-0.7zM646.2 565.4h2.7v0.67h-2.7zM650.2 565.4h0.7v0.67h-0.7zM651.6 565.4h0.7v0.67h-0.7zM652.9 565.4h0.7v0.67h-0.7zM656.2 565.4h4.0v0.67h-4.0zM661.6 565.4h0.7v0.67h-0.7zM663.6 565.4h0.7v0.67h-0.7zM664.9 565.4h1.3v0.67h-1.3zM624.9 566.1h0.7v0.67h-0.7zM628.2 566.1h2.0v0.67h-2.0zM631.6 566.1h2.7v0.67h-2.7zM636.2 566.1h0.7v0.67h-0.7zM639.6 566.1h1.3v0.67h-1.3zM642.9 566.1h0.7v0.67h-0.7zM644.9 566.1h5.3v0.67h-5.3zM650.9 566.1h0.7v0.67h-0.7zM652.2 566.1h1.3v0.67h-1.3zM654.2 566.1h0.7v0.67h-0.7zM656.9 566.1h2.0v0.67h-2.0zM660.9 566.1h1.3v0.67h-1.3zM662.9 566.1h0.7v0.67h-0.7zM664.2 566.1h2.0v0.67h-2.0zM625.6 566.8h0.7v0.67h-0.7zM626.9 566.8h2.7v0.67h-2.7zM630.2 566.8h2.7v0.67h-2.7zM633.6 566.8h0.7v0.67h-0.7zM634.9 566.8h0.7v0.67h-0.7zM636.9 566.8h4.0v0.67h-4.0zM642.9 566.8h1.3v0.67h-1.3zM644.9 566.8h0.7v0.67h-0.7zM646.2 566.8h0.7v0.67h-0.7zM647.6 566.8h0.7v0.67h-0.7zM648.9 566.8h2.0v0.67h-2.0zM652.2 566.8h1.3v0.67h-1.3zM654.2 566.8h0.7v0.67h-0.7zM655.6 566.8h1.3v0.67h-1.3zM658.2 566.8h2.0v0.67h-2.0zM660.9 566.8h2.0v0.67h-2.0zM665.6 566.8h1.3v0.67h-1.3zM625.6 567.4h0.7v0.67h-0.7zM626.9 567.4h0.7v0.67h-0.7zM628.2 567.4h0.7v0.67h-0.7zM630.2 567.4h1.3v0.67h-1.3zM632.2 567.4h0.7v0.67h-0.7zM633.6 567.4h1.3v0.67h-1.3zM635.6 567.4h2.0v0.67h-2.0zM638.2 567.4h3.3v0.67h-3.3zM643.6 567.4h0.7v0.67h-0.7zM644.9 567.4h0.7v0.67h-0.7zM646.2 567.4h0.7v0.67h-0.7zM648.2 567.4h1.3v0.67h-1.3zM650.9 567.4h0.7v0.67h-0.7zM652.2 567.4h2.7v0.67h-2.7zM655.6 567.4h1.3v0.67h-1.3zM657.6 567.4h1.3v0.67h-1.3zM661.6 567.4h0.7v0.67h-0.7zM663.6 567.4h3.3v0.67h-3.3zM624.9 568.1h2.0v0.67h-2.0zM628.2 568.1h0.7v0.67h-0.7zM630.2 568.1h0.7v0.67h-0.7zM632.2 568.1h1.3v0.67h-1.3zM634.9 568.1h0.7v0.67h-0.7zM636.9 568.1h2.7v0.67h-2.7zM642.9 568.1h1.3v0.67h-1.3zM645.6 568.1h1.3v0.67h-1.3zM647.6 568.1h0.7v0.67h-0.7zM648.9 568.1h3.3v0.67h-3.3zM656.9 568.1h0.7v0.67h-0.7zM658.2 568.1h0.7v0.67h-0.7zM659.6 568.1h0.7v0.67h-0.7zM662.2 568.1h0.7v0.67h-0.7zM663.6 568.1h0.7v0.67h-0.7zM664.9 568.1h1.3v0.67h-1.3zM624.9 568.8h0.7v0.67h-0.7zM626.9 568.8h2.0v0.67h-2.0zM629.6 568.8h5.3v0.67h-5.3zM638.2 568.8h0.7v0.67h-0.7zM639.6 568.8h0.7v0.67h-0.7zM641.6 568.8h4.0v0.67h-4.0zM646.2 568.8h1.3v0.67h-1.3zM648.2 568.8h0.7v0.67h-0.7zM649.6 568.8h1.3v0.67h-1.3zM651.6 568.8h0.7v0.67h-0.7zM652.9 568.8h1.3v0.67h-1.3zM654.9 568.8h2.7v0.67h-2.7zM658.2 568.8h1.3v0.67h-1.3zM660.9 568.8h2.0v0.67h-2.0zM665.6 568.8h0.7v0.67h-0.7zM626.2 569.4h0.7v0.67h-0.7zM628.9 569.4h0.7v0.67h-0.7zM630.2 569.4h0.7v0.67h-0.7zM632.2 569.4h0.7v0.67h-0.7zM634.2 569.4h0.7v0.67h-0.7zM636.9 569.4h2.0v0.67h-2.0zM639.6 569.4h1.3v0.67h-1.3zM641.6 569.4h1.3v0.67h-1.3zM644.2 569.4h3.3v0.67h-3.3zM648.9 569.4h0.7v0.67h-0.7zM650.2 569.4h0.7v0.67h-0.7zM652.9 569.4h1.3v0.67h-1.3zM654.9 569.4h1.3v0.67h-1.3zM656.9 569.4h0.7v0.67h-0.7zM660.2 569.4h1.3v0.67h-1.3zM662.2 569.4h1.3v0.67h-1.3zM664.2 569.4h0.7v0.67h-0.7zM624.9 570.1h2.0v0.67h-2.0zM629.6 570.1h1.3v0.67h-1.3zM632.2 570.1h0.7v0.67h-0.7zM634.2 570.1h1.3v0.67h-1.3zM636.9 570.1h1.3v0.67h-1.3zM641.6 570.1h4.7v0.67h-4.7zM647.6 570.1h0.7v0.67h-0.7zM649.6 570.1h1.3v0.67h-1.3zM651.6 570.1h0.7v0.67h-0.7zM652.9 570.1h1.3v0.67h-1.3zM656.2 570.1h1.3v0.67h-1.3zM658.2 570.1h0.7v0.67h-0.7zM661.6 570.1h2.0v0.67h-2.0zM664.2 570.1h2.0v0.67h-2.0zM626.9 570.8h1.3v0.67h-1.3zM628.9 570.8h0.7v0.67h-0.7zM630.2 570.8h2.7v0.67h-2.7zM634.2 570.8h2.7v0.67h-2.7zM638.9 570.8h0.7v0.67h-0.7zM640.2 570.8h1.3v0.67h-1.3zM642.9 570.8h0.7v0.67h-0.7zM644.9 570.8h0.7v0.67h-0.7zM646.9 570.8h0.7v0.67h-0.7zM648.2 570.8h1.3v0.67h-1.3zM650.2 570.8h1.3v0.67h-1.3zM652.2 570.8h0.7v0.67h-0.7zM653.6 570.8h2.7v0.67h-2.7zM656.9 570.8h0.7v0.67h-0.7zM658.2 570.8h0.7v0.67h-0.7zM659.6 570.8h2.7v0.67h-2.7zM662.9 570.8h4.0v0.67h-4.0zM625.6 571.4h1.3v0.67h-1.3zM627.6 571.4h1.3v0.67h-1.3zM629.6 571.4h1.3v0.67h-1.3zM632.2 571.4h1.3v0.67h-1.3zM634.2 571.4h0.7v0.67h-0.7zM635.6 571.4h0.7v0.67h-0.7zM636.9 571.4h2.7v0.67h-2.7zM640.2 571.4h0.7v0.67h-0.7zM642.2 571.4h1.3v0.67h-1.3zM644.2 571.4h0.7v0.67h-0.7zM645.6 571.4h1.3v0.67h-1.3zM647.6 571.4h0.7v0.67h-0.7zM648.9 571.4h0.7v0.67h-0.7zM650.9 571.4h2.7v0.67h-2.7zM654.2 571.4h0.7v0.67h-0.7zM655.6 571.4h0.7v0.67h-0.7zM656.9 571.4h4.7v0.67h-4.7zM662.2 571.4h1.3v0.67h-1.3zM666.2 571.4h0.7v0.67h-0.7zM624.9 572.1h1.3v0.67h-1.3zM627.6 572.1h1.3v0.67h-1.3zM630.2 572.1h0.7v0.67h-0.7zM631.6 572.1h0.7v0.67h-0.7zM632.9 572.1h1.3v0.67h-1.3zM636.2 572.1h5.3v0.67h-5.3zM642.2 572.1h0.7v0.67h-0.7zM644.9 572.1h1.3v0.67h-1.3zM646.9 572.1h1.3v0.67h-1.3zM649.6 572.1h1.3v0.67h-1.3zM652.2 572.1h2.0v0.67h-2.0zM654.9 572.1h0.7v0.67h-0.7zM656.9 572.1h0.7v0.67h-0.7zM658.2 572.1h0.7v0.67h-0.7zM660.2 572.1h1.3v0.67h-1.3zM662.2 572.1h0.7v0.67h-0.7zM666.2 572.1h0.7v0.67h-0.7zM624.9 572.8h0.7v0.67h-0.7zM626.2 572.8h1.3v0.67h-1.3zM628.2 572.8h0.7v0.67h-0.7zM629.6 572.8h0.7v0.67h-0.7zM631.6 572.8h0.7v0.67h-0.7zM634.9 572.8h4.7v0.67h-4.7zM640.9 572.8h2.7v0.67h-2.7zM644.2 572.8h1.3v0.67h-1.3zM646.2 572.8h0.7v0.67h-0.7zM647.6 572.8h0.7v0.67h-0.7zM650.2 572.8h0.7v0.67h-0.7zM652.2 572.8h0.7v0.67h-0.7zM654.2 572.8h4.7v0.67h-4.7zM659.6 572.8h5.3v0.67h-5.3zM666.2 572.8h0.7v0.67h-0.7zM626.9 573.4h2.7v0.67h-2.7zM630.2 573.4h0.7v0.67h-0.7zM634.2 573.4h2.7v0.67h-2.7zM638.2 573.4h1.3v0.67h-1.3zM641.6 573.4h0.7v0.67h-0.7zM644.2 573.4h1.3v0.67h-1.3zM646.2 573.4h1.3v0.67h-1.3zM648.2 573.4h0.7v0.67h-0.7zM649.6 573.4h1.3v0.67h-1.3zM654.9 573.4h2.7v0.67h-2.7zM658.2 573.4h0.7v0.67h-0.7zM659.6 573.4h1.3v0.67h-1.3zM661.6 573.4h2.7v0.67h-2.7zM664.9 573.4h0.7v0.67h-0.7zM625.6 574.1h1.3v0.67h-1.3zM627.6 574.1h2.7v0.67h-2.7zM632.2 574.1h2.0v0.67h-2.0zM634.9 574.1h3.3v0.67h-3.3zM642.9 574.1h0.7v0.67h-0.7zM644.9 574.1h0.7v0.67h-0.7zM646.9 574.1h0.7v0.67h-0.7zM648.2 574.1h1.3v0.67h-1.3zM650.2 574.1h1.3v0.67h-1.3zM652.2 574.1h1.3v0.67h-1.3zM654.2 574.1h0.7v0.67h-0.7zM655.6 574.1h0.7v0.67h-0.7zM657.6 574.1h2.0v0.67h-2.0zM660.9 574.1h0.7v0.67h-0.7zM662.2 574.1h1.3v0.67h-1.3zM664.2 574.1h1.3v0.67h-1.3zM666.2 574.1h0.7v0.67h-0.7zM625.6 574.8h1.3v0.67h-1.3zM627.6 574.8h2.7v0.67h-2.7zM632.9 574.8h0.7v0.67h-0.7zM634.9 574.8h0.7v0.67h-0.7zM636.2 574.8h1.3v0.67h-1.3zM639.6 574.8h0.7v0.67h-0.7zM640.9 574.8h2.7v0.67h-2.7zM644.2 574.8h1.3v0.67h-1.3zM646.2 574.8h0.7v0.67h-0.7zM650.9 574.8h0.7v0.67h-0.7zM652.2 574.8h0.7v0.67h-0.7zM654.9 574.8h1.3v0.67h-1.3zM658.2 574.8h0.7v0.67h-0.7zM659.6 574.8h0.7v0.67h-0.7zM661.6 574.8h0.7v0.67h-0.7zM663.6 574.8h2.0v0.67h-2.0zM624.9 575.4h2.0v0.67h-2.0zM627.6 575.4h0.7v0.67h-0.7zM628.9 575.4h0.7v0.67h-0.7zM630.2 575.4h1.3v0.67h-1.3zM634.9 575.4h2.7v0.67h-2.7zM638.9 575.4h1.3v0.67h-1.3zM641.6 575.4h2.0v0.67h-2.0zM644.2 575.4h0.7v0.67h-0.7zM646.2 575.4h2.0v0.67h-2.0zM649.6 575.4h2.7v0.67h-2.7zM652.9 575.4h2.0v0.67h-2.0zM655.6 575.4h2.0v0.67h-2.0zM658.2 575.4h1.3v0.67h-1.3zM660.2 575.4h2.7v0.67h-2.7zM665.6 575.4h0.7v0.67h-0.7zM628.2 576.1h1.3v0.67h-1.3zM632.2 576.1h0.7v0.67h-0.7zM634.2 576.1h0.7v0.67h-0.7zM635.6 576.1h0.7v0.67h-0.7zM636.9 576.1h2.7v0.67h-2.7zM640.2 576.1h4.7v0.67h-4.7zM645.6 576.1h1.3v0.67h-1.3zM647.6 576.1h3.3v0.67h-3.3zM652.9 576.1h0.7v0.67h-0.7zM654.9 576.1h1.3v0.67h-1.3zM657.6 576.1h0.7v0.67h-0.7zM658.9 576.1h0.7v0.67h-0.7zM660.2 576.1h1.3v0.67h-1.3zM662.2 576.1h3.3v0.67h-3.3zM666.2 576.1h0.7v0.67h-0.7zM624.9 576.8h1.3v0.67h-1.3zM628.2 576.8h0.7v0.67h-0.7zM630.9 576.8h0.7v0.67h-0.7zM632.9 576.8h2.0v0.67h-2.0zM637.6 576.8h1.3v0.67h-1.3zM640.2 576.8h0.7v0.67h-0.7zM641.6 576.8h2.7v0.67h-2.7zM644.9 576.8h1.3v0.67h-1.3zM646.9 576.8h2.0v0.67h-2.0zM650.9 576.8h0.7v0.67h-0.7zM652.9 576.8h2.7v0.67h-2.7zM656.2 576.8h0.7v0.67h-0.7zM657.6 576.8h0.7v0.67h-0.7zM661.6 576.8h0.7v0.67h-0.7zM662.9 576.8h0.7v0.67h-0.7zM665.6 576.8h0.7v0.67h-0.7zM625.6 577.4h1.3v0.67h-1.3zM628.2 577.4h2.0v0.67h-2.0zM631.6 577.4h0.7v0.67h-0.7zM632.9 577.4h0.7v0.67h-0.7zM634.2 577.4h3.3v0.67h-3.3zM638.2 577.4h0.7v0.67h-0.7zM639.6 577.4h2.0v0.67h-2.0zM642.9 577.4h1.3v0.67h-1.3zM644.9 577.4h0.7v0.67h-0.7zM646.2 577.4h0.7v0.67h-0.7zM647.6 577.4h0.7v0.67h-0.7zM648.9 577.4h1.3v0.67h-1.3zM650.9 577.4h0.7v0.67h-0.7zM652.2 577.4h0.7v0.67h-0.7zM653.6 577.4h0.7v0.67h-0.7zM654.9 577.4h0.7v0.67h-0.7zM656.2 577.4h0.7v0.67h-0.7zM658.9 577.4h4.0v0.67h-4.0zM664.2 577.4h0.7v0.67h-0.7zM665.6 577.4h0.7v0.67h-0.7zM624.9 578.1h0.7v0.67h-0.7zM626.9 578.1h0.7v0.67h-0.7zM628.9 578.1h2.0v0.67h-2.0zM631.6 578.1h0.7v0.67h-0.7zM633.6 578.1h0.7v0.67h-0.7zM635.6 578.1h0.7v0.67h-0.7zM636.9 578.1h0.7v0.67h-0.7zM638.9 578.1h0.7v0.67h-0.7zM640.9 578.1h2.0v0.67h-2.0zM643.6 578.1h0.7v0.67h-0.7zM644.9 578.1h0.7v0.67h-0.7zM646.2 578.1h1.3v0.67h-1.3zM648.2 578.1h1.3v0.67h-1.3zM652.2 578.1h1.3v0.67h-1.3zM654.9 578.1h4.0v0.67h-4.0zM659.6 578.1h0.7v0.67h-0.7zM660.9 578.1h3.3v0.67h-3.3zM664.9 578.1h0.7v0.67h-0.7zM666.2 578.1h0.7v0.67h-0.7zM624.9 578.8h2.0v0.67h-2.0zM627.6 578.8h1.3v0.67h-1.3zM630.9 578.8h4.7v0.67h-4.7zM636.2 578.8h1.3v0.67h-1.3zM642.9 578.8h2.0v0.67h-2.0zM645.6 578.8h2.7v0.67h-2.7zM648.9 578.8h0.7v0.67h-0.7zM650.9 578.8h0.7v0.67h-0.7zM652.2 578.8h2.7v0.67h-2.7zM656.9 578.8h0.7v0.67h-0.7zM658.2 578.8h0.7v0.67h-0.7zM660.2 578.8h0.7v0.67h-0.7zM661.6 578.8h0.7v0.67h-0.7zM663.6 578.8h0.7v0.67h-0.7zM665.6 578.8h0.7v0.67h-0.7zM625.6 579.4h0.7v0.67h-0.7zM626.9 579.4h0.7v0.67h-0.7zM629.6 579.4h0.7v0.67h-0.7zM631.6 579.4h0.7v0.67h-0.7zM632.9 579.4h0.7v0.67h-0.7zM634.2 579.4h0.7v0.67h-0.7zM636.2 579.4h2.0v0.67h-2.0zM641.6 579.4h1.3v0.67h-1.3zM643.6 579.4h0.7v0.67h-0.7zM646.9 579.4h1.3v0.67h-1.3zM649.6 579.4h3.3v0.67h-3.3zM654.2 579.4h2.0v0.67h-2.0zM657.6 579.4h1.3v0.67h-1.3zM660.2 579.4h0.7v0.67h-0.7zM661.6 579.4h0.7v0.67h-0.7zM662.9 579.4h4.0v0.67h-4.0zM625.6 580.1h1.3v0.67h-1.3zM627.6 580.1h2.0v0.67h-2.0zM630.2 580.1h0.7v0.67h-0.7zM632.2 580.1h1.3v0.67h-1.3zM634.9 580.1h2.7v0.67h-2.7zM638.2 580.1h1.3v0.67h-1.3zM640.9 580.1h1.3v0.67h-1.3zM643.6 580.1h0.7v0.67h-0.7zM645.6 580.1h0.7v0.67h-0.7zM646.9 580.1h1.3v0.67h-1.3zM648.9 580.1h0.7v0.67h-0.7zM650.2 580.1h0.7v0.67h-0.7zM652.2 580.1h0.7v0.67h-0.7zM653.6 580.1h1.3v0.67h-1.3zM655.6 580.1h1.3v0.67h-1.3zM657.6 580.1h2.0v0.67h-2.0zM661.6 580.1h1.3v0.67h-1.3zM665.6 580.1h1.3v0.67h-1.3zM624.9 580.8h0.7v0.67h-0.7zM626.2 580.8h1.3v0.67h-1.3zM628.9 580.8h0.7v0.67h-0.7zM630.9 580.8h1.3v0.67h-1.3zM632.9 580.8h0.7v0.67h-0.7zM636.2 580.8h2.7v0.67h-2.7zM639.6 580.8h2.7v0.67h-2.7zM643.6 580.8h2.7v0.67h-2.7zM648.2 580.8h2.0v0.67h-2.0zM650.9 580.8h2.0v0.67h-2.0zM653.6 580.8h0.7v0.67h-0.7zM654.9 580.8h0.7v0.67h-0.7zM656.9 580.8h1.3v0.67h-1.3zM658.9 580.8h0.7v0.67h-0.7zM660.2 580.8h1.3v0.67h-1.3zM662.2 580.8h0.7v0.67h-0.7zM664.9 580.8h0.7v0.67h-0.7zM666.2 580.8h0.7v0.67h-0.7zM625.6 581.4h1.3v0.67h-1.3zM627.6 581.4h0.7v0.67h-0.7zM628.9 581.4h0.7v0.67h-0.7zM630.2 581.4h0.7v0.67h-0.7zM632.9 581.4h0.7v0.67h-0.7zM634.9 581.4h1.3v0.67h-1.3zM636.9 581.4h0.7v0.67h-0.7zM638.2 581.4h2.0v0.67h-2.0zM641.6 581.4h0.7v0.67h-0.7zM642.9 581.4h0.7v0.67h-0.7zM644.9 581.4h1.3v0.67h-1.3zM646.9 581.4h0.7v0.67h-0.7zM648.2 581.4h1.3v0.67h-1.3zM650.2 581.4h0.7v0.67h-0.7zM651.6 581.4h0.7v0.67h-0.7zM652.9 581.4h0.7v0.67h-0.7zM654.2 581.4h0.7v0.67h-0.7zM656.2 581.4h2.0v0.67h-2.0zM658.9 581.4h0.7v0.67h-0.7zM660.2 581.4h1.3v0.67h-1.3zM662.2 581.4h0.7v0.67h-0.7zM663.6 581.4h0.7v0.67h-0.7zM664.9 581.4h0.7v0.67h-0.7zM626.2 582.1h1.3v0.67h-1.3zM628.2 582.1h0.7v0.67h-0.7zM629.6 582.1h1.3v0.67h-1.3zM632.9 582.1h2.0v0.67h-2.0zM636.2 582.1h0.7v0.67h-0.7zM637.6 582.1h0.7v0.67h-0.7zM639.6 582.1h0.7v0.67h-0.7zM641.6 582.1h2.7v0.67h-2.7zM644.9 582.1h0.7v0.67h-0.7zM646.2 582.1h1.3v0.67h-1.3zM648.2 582.1h0.7v0.67h-0.7zM650.9 582.1h2.7v0.67h-2.7zM654.2 582.1h0.7v0.67h-0.7zM655.6 582.1h1.3v0.67h-1.3zM657.6 582.1h1.3v0.67h-1.3zM659.6 582.1h0.7v0.67h-0.7zM661.6 582.1h2.0v0.67h-2.0zM664.2 582.1h1.3v0.67h-1.3zM666.2 582.1h0.7v0.67h-0.7zM630.2 582.8h1.3v0.67h-1.3zM632.2 582.8h4.7v0.67h-4.7zM637.6 582.8h0.7v0.67h-0.7zM638.9 582.8h0.7v0.67h-0.7zM640.2 582.8h0.7v0.67h-0.7zM642.9 582.8h0.7v0.67h-0.7zM644.2 582.8h4.0v0.67h-4.0zM648.9 582.8h0.7v0.67h-0.7zM650.2 582.8h0.7v0.67h-0.7zM652.9 582.8h1.3v0.67h-1.3zM655.6 582.8h0.7v0.67h-0.7zM658.2 582.8h0.7v0.67h-0.7zM659.6 582.8h0.7v0.67h-0.7zM660.9 582.8h0.7v0.67h-0.7zM662.2 582.8h2.7v0.67h-2.7zM666.2 582.8h0.7v0.67h-0.7zM630.2 583.4h3.3v0.67h-3.3zM635.6 583.4h1.3v0.67h-1.3zM639.6 583.4h0.7v0.67h-0.7zM642.2 583.4h0.7v0.67h-0.7zM643.6 583.4h1.3v0.67h-1.3zM646.9 583.4h0.7v0.67h-0.7zM652.2 583.4h0.7v0.67h-0.7zM654.9 583.4h0.7v0.67h-0.7zM657.6 583.4h0.7v0.67h-0.7zM659.6 583.4h0.7v0.67h-0.7zM660.9 583.4h3.3v0.67h-3.3zM666.2 583.4h0.7v0.67h-0.7zM633.6 584.1h1.3v0.67h-1.3zM636.2 584.1h0.7v0.67h-0.7zM638.9 584.1h2.7v0.67h-2.7zM642.2 584.1h0.7v0.67h-0.7zM643.6 584.1h2.7v0.67h-2.7zM647.6 584.1h2.0v0.67h-2.0zM650.2 584.1h0.7v0.67h-0.7zM652.2 584.1h0.7v0.67h-0.7zM653.6 584.1h0.7v0.67h-0.7zM654.9 584.1h1.3v0.67h-1.3zM656.9 584.1h1.3v0.67h-1.3zM660.2 584.1h1.3v0.67h-1.3zM662.2 584.1h0.7v0.67h-0.7zM663.6 584.1h0.7v0.67h-0.7zM664.9 584.1h0.7v0.67h-0.7zM666.2 584.1h0.7v0.67h-0.7zM630.2 584.8h0.7v0.67h-0.7zM631.6 584.8h0.7v0.67h-0.7zM632.9 584.8h2.0v0.67h-2.0zM636.2 584.8h1.3v0.67h-1.3zM639.6 584.8h0.7v0.67h-0.7zM640.9 584.8h0.7v0.67h-0.7zM642.2 584.8h0.7v0.67h-0.7zM644.2 584.8h0.7v0.67h-0.7zM646.9 584.8h1.3v0.67h-1.3zM648.9 584.8h0.7v0.67h-0.7zM651.6 584.8h0.7v0.67h-0.7zM654.9 584.8h2.0v0.67h-2.0zM658.2 584.8h0.7v0.67h-0.7zM660.2 584.8h1.3v0.67h-1.3zM662.9 584.8h0.7v0.67h-0.7zM664.2 584.8h0.7v0.67h-0.7zM665.6 584.8h0.7v0.67h-0.7zM632.2 585.4h0.7v0.67h-0.7zM634.9 585.4h1.3v0.67h-1.3zM638.2 585.4h2.0v0.67h-2.0zM640.9 585.4h0.7v0.67h-0.7zM642.2 585.4h3.3v0.67h-3.3zM646.9 585.4h1.3v0.67h-1.3zM648.9 585.4h4.7v0.67h-4.7zM654.2 585.4h1.3v0.67h-1.3zM656.2 585.4h0.7v0.67h-0.7zM658.9 585.4h1.3v0.67h-1.3zM660.9 585.4h0.7v0.67h-0.7zM663.6 585.4h1.3v0.67h-1.3zM666.2 585.4h0.7v0.67h-0.7zM630.9 586.1h0.7v0.67h-0.7zM632.2 586.1h0.7v0.67h-0.7zM634.2 586.1h0.7v0.67h-0.7zM635.6 586.1h2.0v0.67h-2.0zM639.6 586.1h0.7v0.67h-0.7zM640.9 586.1h1.3v0.67h-1.3zM645.6 586.1h0.7v0.67h-0.7zM647.6 586.1h1.3v0.67h-1.3zM649.6 586.1h1.3v0.67h-1.3zM654.2 586.1h3.3v0.67h-3.3zM659.6 586.1h0.7v0.67h-0.7zM660.9 586.1h0.7v0.67h-0.7zM663.6 586.1h0.7v0.67h-0.7zM665.6 586.1h0.7v0.67h-0.7zM633.6 586.8h0.7v0.67h-0.7zM636.2 586.8h1.3v0.67h-1.3zM638.9 586.8h2.7v0.67h-2.7zM643.6 586.8h0.7v0.67h-0.7zM644.9 586.8h0.7v0.67h-0.7zM646.2 586.8h1.3v0.67h-1.3zM648.2 586.8h2.7v0.67h-2.7zM652.2 586.8h0.7v0.67h-0.7zM653.6 586.8h1.3v0.67h-1.3zM655.6 586.8h1.3v0.67h-1.3zM657.6 586.8h0.7v0.67h-0.7zM658.9 586.8h0.7v0.67h-0.7zM661.6 586.8h0.7v0.67h-0.7zM662.9 586.8h2.7v0.67h-2.7zM630.9 587.4h1.3v0.67h-1.3zM632.9 587.4h0.7v0.67h-0.7zM636.2 587.4h0.7v0.67h-0.7zM637.6 587.4h2.7v0.67h-2.7zM641.6 587.4h4.0v0.67h-4.0zM646.2 587.4h2.0v0.67h-2.0zM648.9 587.4h1.3v0.67h-1.3zM655.6 587.4h2.0v0.67h-2.0zM659.6 587.4h2.0v0.67h-2.0zM662.9 587.4h2.7v0.67h-2.7z" fill="#3A66B0" />
<rect x="624.90" y="546.10" width="4.67" height="4.67" fill="#2E5AA0" />
<rect x="625.57" y="546.77" width="3.33" height="3.33" fill="#fff" />
<rect x="626.23" y="547.43" width="2.00" height="2.00" fill="#2E5AA0" />
<rect x="662.23" y="546.10" width="4.67" height="4.67" fill="#2E5AA0" />
<rect x="662.90" y="546.77" width="3.33" height="3.33" fill="#fff" />
<rect x="663.57" y="547.43" width="2.00" height="2.00" fill="#2E5AA0" />
<rect x="624.90" y="583.43" width="4.67" height="4.67" fill="#2E5AA0" />
<rect x="625.57" y="584.10" width="3.33" height="3.33" fill="#fff" />
<rect x="626.23" y="584.77" width="2.00" height="2.00" fill="#2E5AA0" />
<text x="604.30" y="599.70" font-size="4.5" fill="#CED8EE" textLength="82.30" lengthAdjust="spacingAndGlyphs" stroke="none">Copies of this poster obtained through Quick</text>
<text x="604.30" y="604.50" font-size="4.5" fill="#CED8EE" textLength="82.30" lengthAdjust="spacingAndGlyphs" stroke="none">Response (QR) Code are for personal use</text>
<text x="604.30" y="609.50" font-size="4.5" fill="#CED8EE" textLength="82.30" lengthAdjust="spacingAndGlyphs" stroke="none">only and may not be reproduced without</text>
<text x="604.30" y="614.50" font-size="4.5" fill="#CED8EE" textLength="82.30" lengthAdjust="spacingAndGlyphs" stroke="none">permission from ASCO® and the author of</text>
<text x="604.30" y="619.70" font-size="4.5" fill="#CED8EE" textLength="19.50" lengthAdjust="spacingAndGlyphs" stroke="none">this poster.</text>
<!-- right column -->
<text x="696.50" y="90.30" font-size="6.9" fill="#000" font-weight="bold" textLength="214.50" lengthAdjust="spacingAndGlyphs" stroke="#000" stroke-width="0.152" >Correlative studies – Unleashing HLA-dependent anticancer immunity</text>
<rect x="696.50" y="91.06" width="214.50" height="0.69" fill="#000"/>
<text x="696.50" y="99.60" font-size="5.6" fill="#000" textLength="264.40" lengthAdjust="spacingAndGlyphs" stroke="#000" stroke-width="0.123" >Immune responses induced by PolyPEPI1018 at both peripheral and tumor level indicate tumor response</text>
<rect x="696.50" y="100.22" width="264.40" height="0.39" fill="#000"/>
<text x="696.50" y="112.20" font-size="5.6" fill="#7030A0" textLength="47.70" lengthAdjust="spacingAndGlyphs" stroke="none">At peripheral level:</text>
<text x="696.50" y="119.40" font-size="5.6" fill="#000" textLength="160.30" lengthAdjust="spacingAndGlyphs" stroke="#000" stroke-width="0.123" >Patients with durable clinical benefit (DCB) had T cell responses</text>
<text x="696.50" y="127.00" font-size="5.6" fill="#000" textLength="127.10" lengthAdjust="spacingAndGlyphs" stroke="#000" stroke-width="0.123" >boosted against higher number of tumor antigens.</text>
<text x="894.80" y="112.20" font-size="5.6" fill="#7030A0" textLength="36.40" lengthAdjust="spacingAndGlyphs" stroke="none">At tumor level:</text>
<text x="894.80" y="119.40" font-size="5.6" fill="#000" textLength="160.70" lengthAdjust="spacingAndGlyphs" stroke="#000" stroke-width="0.123" >3/3 Patients with clinical benefit had increased T cell infiltration</text>
<text x="894.80" y="127.00" font-size="5.6" fill="#000" textLength="31.70" lengthAdjust="spacingAndGlyphs" stroke="#000" stroke-width="0.123" >post-treatment</text>
<path d="M696.4 139.70 H717.7 L737.9 175.15 L717.7 210.60 H696.4 Z" fill="#2F5597" />
<text transform="translate(711.6,176.65) rotate(-90)" font-size="7.2" fill="#fff" font-weight="bold" text-anchor="middle" textLength="30.5" lengthAdjust="spacingAndGlyphs">Measured</text>
<line x1="765.90" y1="200.90" x2="875.00" y2="200.90" stroke="#E0CFCF" stroke-width="0.5" />
<text x="762.90" y="202.10" font-size="3.5" fill="#7F7F7F" text-anchor="middle" stroke="#7F7F7F" stroke-width="0.077" >0</text>
<text x="762.90" y="194.27" font-size="3.5" fill="#7F7F7F" text-anchor="middle" stroke="#7F7F7F" stroke-width="0.077" >1</text>
<text x="762.90" y="186.44" font-size="3.5" fill="#7F7F7F" text-anchor="middle" stroke="#7F7F7F" stroke-width="0.077" >2</text>
<text x="762.90" y="178.61" font-size="3.5" fill="#7F7F7F" text-anchor="middle" stroke="#7F7F7F" stroke-width="0.077" >3</text>
<text x="762.90" y="170.78" font-size="3.5" fill="#7F7F7F" text-anchor="middle" stroke="#7F7F7F" stroke-width="0.077" >4</text>
<text x="762.90" y="162.95" font-size="3.5" fill="#7F7F7F" text-anchor="middle" stroke="#7F7F7F" stroke-width="0.077" >5</text>
<text x="762.90" y="155.12" font-size="3.5" fill="#7F7F7F" text-anchor="middle" stroke="#7F7F7F" stroke-width="0.077" >6</text>
<text x="762.90" y="147.29" font-size="3.5" fill="#7F7F7F" text-anchor="middle" stroke="#7F7F7F" stroke-width="0.077" >7</text>
<text x="762.90" y="139.46" font-size="3.5" fill="#7F7F7F" text-anchor="middle" stroke="#7F7F7F" stroke-width="0.077" >8</text>
<text transform="translate(758.6,170) rotate(-90)" font-size="4.0" fill="#7F7F7F" text-anchor="middle" textLength="55" lengthAdjust="spacingAndGlyphs">#Responsive Vaccine Antigens</text>
<circle cx="779.60" cy="161.75" r="1.75" fill="none" stroke="#4BACC6" stroke-width="0.55" />
<circle cx="777.00" cy="169.58" r="1.75" fill="none" stroke="#4BACC6" stroke-width="0.55" />
<circle cx="782.20" cy="169.58" r="1.75" fill="none" stroke="#4BACC6" stroke-width="0.55" />
<circle cx="779.60" cy="193.07" r="1.75" fill="none" stroke="#4BACC6" stroke-width="0.55" />
<rect x="775.60" y="173.00" width="8.00" height="1.00" fill="#595959" />
<circle cx="801.10" cy="177.41" r="1.75" fill="none" stroke="#E0333A" stroke-width="0.55" />
<circle cx="798.50" cy="193.07" r="1.75" fill="none" stroke="#E0333A" stroke-width="0.55" />
<circle cx="803.70" cy="193.07" r="1.75" fill="none" stroke="#E0333A" stroke-width="0.55" />
<circle cx="797.50" cy="200.90" r="1.75" fill="none" stroke="#E0333A" stroke-width="0.55" />
<circle cx="801.10" cy="200.90" r="1.75" fill="none" stroke="#E0333A" stroke-width="0.55" />
<circle cx="804.70" cy="200.90" r="1.75" fill="none" stroke="#E0333A" stroke-width="0.55" />
<rect x="797.10" y="193.20" width="8.00" height="1.00" fill="#595959" />
<circle cx="838.90" cy="177.41" r="1.75" fill="none" stroke="#4BACC6" stroke-width="0.55" />
<circle cx="838.90" cy="185.24" r="1.75" fill="none" stroke="#4BACC6" stroke-width="0.55" />
<circle cx="836.30" cy="193.07" r="1.75" fill="none" stroke="#4BACC6" stroke-width="0.55" />
<circle cx="841.50" cy="193.07" r="1.75" fill="none" stroke="#4BACC6" stroke-width="0.55" />
<rect x="834.90" y="186.70" width="8.00" height="1.00" fill="#595959" />
<circle cx="860.50" cy="146.09" r="1.75" fill="none" stroke="#E0333A" stroke-width="0.55" />
<circle cx="857.90" cy="169.58" r="1.75" fill="none" stroke="#E0333A" stroke-width="0.55" />
<circle cx="863.10" cy="169.58" r="1.75" fill="none" stroke="#E0333A" stroke-width="0.55" />
<circle cx="860.50" cy="185.24" r="1.75" fill="none" stroke="#E0333A" stroke-width="0.55" />
<circle cx="857.90" cy="200.90" r="1.75" fill="none" stroke="#E0333A" stroke-width="0.55" />
<circle cx="863.10" cy="200.90" r="1.75" fill="none" stroke="#E0333A" stroke-width="0.55" />
<rect x="856.50" y="178.48" width="8.00" height="1.00" fill="#595959" />
<path d="M777.3 152.2 H800.2 M777.3 151.2 v2 M800.2 151.2 v2" fill="none" stroke="#7F7F7F" stroke-width="0.45" />
<text x="788.80" y="150.40" font-size="3.4" fill="#7F7F7F" text-anchor="middle" stroke="#7F7F7F" stroke-width="0.075" >P=0.02</text>
<path d="M837.7 142.7 H861.2 M837.7 141.7 v2 M861.2 141.7 v2" fill="none" stroke="#7F7F7F" stroke-width="0.45" />
<text x="849.50" y="141.00" font-size="3.4" fill="#7F7F7F" text-anchor="middle" stroke="#7F7F7F" stroke-width="0.075" >n.s.</text>
<text x="779.60" y="208.40" font-size="4.6" fill="#000" font-weight="bold" text-anchor="middle" stroke="#000" stroke-width="0.101" >DCB</text>
<text x="801.10" y="208.40" font-size="4.6" fill="#000" font-weight="bold" text-anchor="middle" stroke="#000" stroke-width="0.101" >Others</text>
<text x="838.90" y="208.40" font-size="4.6" fill="#000" font-weight="bold" text-anchor="middle" stroke="#000" stroke-width="0.101" >DCB</text>
<text x="860.50" y="208.40" font-size="4.6" fill="#000" font-weight="bold" text-anchor="middle" stroke="#000" stroke-width="0.101" >Others</text>
<line x1="771.20" y1="209.60" x2="810.80" y2="209.60" stroke="#222" stroke-width="0.5" />
<line x1="831.90" y1="209.60" x2="871.50" y2="209.60" stroke="#222" stroke-width="0.5" />
<text x="790.30" y="214.20" font-size="3.9" fill="#404040" text-anchor="middle" stroke="#404040" stroke-width="0.086" >Boosted</text>
<text x="849.70" y="214.20" font-size="3.9" fill="#404040" text-anchor="middle" stroke="#404040" stroke-width="0.086" >De Novo</text>
<line x1="947.50" y1="189.50" x2="1051.80" y2="189.50" stroke="#E3E3E3" stroke-width="0.4" />
<line x1="947.50" y1="180.82" x2="1051.80" y2="180.82" stroke="#E3E3E3" stroke-width="0.4" />
<line x1="947.50" y1="172.14" x2="1051.80" y2="172.14" stroke="#E3E3E3" stroke-width="0.4" />
<line x1="947.50" y1="163.46" x2="1051.80" y2="163.46" stroke="#E3E3E3" stroke-width="0.4" />
<line x1="947.50" y1="154.78" x2="1051.80" y2="154.78" stroke="#E3E3E3" stroke-width="0.4" />
<line x1="947.50" y1="146.10" x2="1051.80" y2="146.10" stroke="#E3E3E3" stroke-width="0.4" />
<line x1="947.50" y1="137.42" x2="1051.80" y2="137.42" stroke="#E3E3E3" stroke-width="0.4" />
<text x="941.60" y="190.70" font-size="3.2" fill="#7F7F7F" text-anchor="end" stroke="#7F7F7F" stroke-width="0.070" >0%</text>
<text x="941.60" y="182.02" font-size="3.2" fill="#7F7F7F" text-anchor="end" stroke="#7F7F7F" stroke-width="0.070" >200%</text>
<text x="941.60" y="173.34" font-size="3.2" fill="#7F7F7F" text-anchor="end" stroke="#7F7F7F" stroke-width="0.070" >400%</text>
<text x="941.60" y="164.66" font-size="3.2" fill="#7F7F7F" text-anchor="end" stroke="#7F7F7F" stroke-width="0.070" >600%</text>
<text x="941.60" y="155.98" font-size="3.2" fill="#7F7F7F" text-anchor="end" stroke="#7F7F7F" stroke-width="0.070" >800%</text>
<text x="941.60" y="147.30" font-size="3.2" fill="#7F7F7F" text-anchor="end" stroke="#7F7F7F" stroke-width="0.070" >1000%</text>
<text x="941.60" y="138.62" font-size="3.2" fill="#7F7F7F" text-anchor="end" stroke="#7F7F7F" stroke-width="0.070" >8000%</text>
<text transform="translate(928.8,164) rotate(-90)" font-size="4.6" fill="#595959" text-anchor="middle" textLength="48" lengthAdjust="spacingAndGlyphs">Change in TIL density %</text>
<text transform="translate(1048.2,175.5) rotate(-90)" font-size="3.8" fill="#7F7F7F" text-anchor="middle" textLength="21" lengthAdjust="spacingAndGlyphs">Fold Value</text>
<rect x="942.40" y="138.10" width="2.00" height="2.00" fill="#FFC000" />
<text x="945.20" y="140.20" font-size="3.2" fill="#7F7F7F" textLength="21.00" lengthAdjust="spacingAndGlyphs" stroke="#7F7F7F" stroke-width="0.070" >CD8+ (Core Tumor)</text>
<rect x="942.40" y="144.10" width="2.00" height="2.00" fill="#ED7D31" />
<text x="945.20" y="146.20" font-size="3.2" fill="#7F7F7F" textLength="21.00" lengthAdjust="spacingAndGlyphs" stroke="#7F7F7F" stroke-width="0.070" >CD3+ (Core Tumor)</text>
<rect x="942.40" y="149.90" width="2.00" height="2.00" fill="#A5A5A5" />
<text x="945.20" y="152.00" font-size="3.2" fill="#7F7F7F" textLength="26.00" lengthAdjust="spacingAndGlyphs" stroke="#7F7F7F" stroke-width="0.070" >CD8+ (Invasive margin)</text>
<rect x="942.40" y="155.90" width="2.00" height="2.00" fill="#000" />
<text x="945.20" y="158.00" font-size="3.2" fill="#7F7F7F" textLength="26.00" lengthAdjust="spacingAndGlyphs" stroke="#7F7F7F" stroke-width="0.070" >CD3+ (Invasive margin)</text>
<rect x="985.30" y="139.10" width="4.90" height="50.40" fill="#A5A5A5" />
<path d="M984.8 152.4 L990.7 149.8" fill="none" stroke="#fff" stroke-width="0.9" />
<rect x="1008.70" y="184.20" width="4.40" height="5.30" fill="#ED7D31" />
<rect x="1013.10" y="166.90" width="4.40" height="22.60" fill="#A5A5A5" />
<rect x="1017.50" y="183.10" width="4.40" height="6.40" fill="#000" />
<rect x="1031.90" y="166.10" width="4.40" height="23.40" fill="#FFC000" />
<rect x="1036.30" y="153.80" width="4.40" height="35.70" fill="#ED7D31" />
<line x1="890.30" y1="191.60" x2="1051.80" y2="191.60" stroke="#404040" stroke-width="0.6" />
<rect x="947.50" y="192.10" width="23.20" height="5.60" fill="#FF0000" />
<rect x="970.70" y="192.10" width="81.10" height="5.60" fill="#5B9BD5" />
<text x="946.60" y="196.50" font-size="4.2" fill="#000" font-weight="bold" text-anchor="end" stroke="#000" stroke-width="0.092" >Patient</text>
<text x="959.10" y="196.40" font-size="3.9" fill="#fff" font-weight="bold" text-anchor="middle" stroke="#fff" stroke-width="0.086" >020003</text>
<text x="983.00" y="196.40" font-size="3.9" fill="#fff" font-weight="bold" text-anchor="middle" stroke="#fff" stroke-width="0.086" >020004</text>
<text x="1007.80" y="196.40" font-size="3.9" fill="#fff" font-weight="bold" text-anchor="middle" stroke="#fff" stroke-width="0.086" >010002</text>
<text x="1034.60" y="196.40" font-size="3.9" fill="#fff" font-weight="bold" text-anchor="middle" stroke="#fff" stroke-width="0.086" >010007</text>
<text x="946.60" y="202.80" font-size="4.5" fill="#000" text-anchor="end" stroke="#000" stroke-width="0.099" >Doses</text>
<text x="959.10" y="202.80" font-size="4.5" fill="#000" text-anchor="middle" stroke="#000" stroke-width="0.099" >1 dose</text>
<text x="983.00" y="202.80" font-size="4.5" fill="#000" text-anchor="middle" stroke="#000" stroke-width="0.099" >1 dose</text>
<text x="1007.80" y="202.80" font-size="4.5" fill="#000" text-anchor="middle" stroke="#000" stroke-width="0.099" >3 doses</text>
<text x="1034.60" y="202.80" font-size="4.5" fill="#000" text-anchor="middle" stroke="#000" stroke-width="0.099" >3 doses</text>
<text x="946.60" y="208.40" font-size="4.5" fill="#000" text-anchor="end" stroke="#000" stroke-width="0.099" >BOR (RECIST)</text>
<text x="959.10" y="208.40" font-size="4.5" fill="#000" text-anchor="middle" stroke="#000" stroke-width="0.099" >SD</text>
<text x="983.00" y="208.40" font-size="4.5" fill="#000" text-anchor="middle" stroke="#000" stroke-width="0.099" >PR</text>
<text x="1007.80" y="208.40" font-size="4.5" fill="#000" text-anchor="middle" stroke="#000" stroke-width="0.099" >SD</text>
<text x="1034.60" y="208.40" font-size="4.5" fill="#000" text-anchor="middle" stroke="#000" stroke-width="0.099" >PR</text>
<text x="946.60" y="214.20" font-size="4.5" fill="#000" text-anchor="end" stroke="#000" stroke-width="0.099" >tumor volume change</text>
<text x="959.10" y="214.20" font-size="4.5" fill="#000" text-anchor="middle" stroke="#000" stroke-width="0.099" >+26%</text>
<text x="983.00" y="214.20" font-size="4.5" fill="#000" text-anchor="middle" stroke="#000" stroke-width="0.099" >-38%</text>
<text x="1007.80" y="214.20" font-size="4.5" fill="#000" text-anchor="middle" stroke="#000" stroke-width="0.099" >-30%</text>
<text x="1034.60" y="214.20" font-size="4.5" fill="#000" text-anchor="middle" stroke="#000" stroke-width="0.099" >-100%</text>
<line x1="890.30" y1="215.50" x2="1051.80" y2="215.50" stroke="#7F7F7F" stroke-width="0.4" />
<text x="699.00" y="222.00" font-size="5.0" fill="#2a2a2a" textLength="340.60" lengthAdjust="spacingAndGlyphs" stroke="none">Boost: mean number of spots after vaccination is at least 2 times higher compared to pre-vaccination, De novo: response is detected only after vaccination</text>
<text x="699.00" y="232.20" font-size="5.7" fill="#000" textLength="347.80" lengthAdjust="spacingAndGlyphs" stroke="#000" stroke-width="0.125" >Patients with durable clinical benefit (DCB) had <tspan font-weight="bold">HLA-predicted T cell responses against higher number of tumor antigens likely expressed</tspan></text>
<rect x="699.00" y="232.83" width="347.80" height="0.40" fill="#000"/>
<text x="699.00" y="239.30" font-size="5.7" fill="#000" font-weight="bold" textLength="65.00" lengthAdjust="spacingAndGlyphs" stroke="#000" stroke-width="0.125" >on patients tumor (AGP).</text>
<rect x="699.00" y="239.93" width="65.00" height="0.57" fill="#000"/>
<path d="M696.4 254.10 H717.7 L737.9 289.70 L717.7 325.30 H696.4 Z" fill="#2F5597" />
<text transform="translate(711.6,291.20) rotate(-90)" font-size="7.2" fill="#fff" font-weight="bold" text-anchor="middle" textLength="30.5" lengthAdjust="spacingAndGlyphs">Predicted</text>
<line x1="785.20" y1="325.70" x2="869.70" y2="325.70" stroke="#262626" stroke-width="0.6" />
<line x1="785.20" y1="324.70" x2="785.20" y2="326.70" stroke="#262626" stroke-width="0.5" />
<text x="785.20" y="332.90" font-size="3.8" fill="#595959" text-anchor="middle" stroke="#595959" stroke-width="0.084" >0</text>
<line x1="806.32" y1="324.70" x2="806.32" y2="326.70" stroke="#262626" stroke-width="0.5" />
<text x="806.32" y="332.90" font-size="3.8" fill="#595959" text-anchor="middle" stroke="#595959" stroke-width="0.084" >1</text>
<line x1="827.44" y1="324.70" x2="827.44" y2="326.70" stroke="#262626" stroke-width="0.5" />
<text x="827.44" y="332.90" font-size="3.8" fill="#595959" text-anchor="middle" stroke="#595959" stroke-width="0.084" >2</text>
<line x1="848.56" y1="324.70" x2="848.56" y2="326.70" stroke="#262626" stroke-width="0.5" />
<text x="848.56" y="332.90" font-size="3.8" fill="#595959" text-anchor="middle" stroke="#595959" stroke-width="0.084" >3</text>
<line x1="869.68" y1="324.70" x2="869.68" y2="326.70" stroke="#262626" stroke-width="0.5" />
<text x="869.68" y="332.90" font-size="3.8" fill="#595959" text-anchor="middle" stroke="#595959" stroke-width="0.084" >4</text>
<text x="782.30" y="327.00" font-size="3.8" fill="#595959" text-anchor="end" stroke="#595959" stroke-width="0.084" >0.0</text>
<text x="782.30" y="314.10" font-size="3.8" fill="#595959" text-anchor="end" stroke="#595959" stroke-width="0.084" >2.0</text>
<text x="782.30" y="301.20" font-size="3.8" fill="#595959" text-anchor="end" stroke="#595959" stroke-width="0.084" >4.0</text>
<text x="782.30" y="288.30" font-size="3.8" fill="#595959" text-anchor="end" stroke="#595959" stroke-width="0.084" >6.0</text>
<text x="782.30" y="275.40" font-size="3.8" fill="#595959" text-anchor="end" stroke="#595959" stroke-width="0.084" >8.0</text>
<text x="782.30" y="262.50" font-size="3.8" fill="#595959" text-anchor="end" stroke="#595959" stroke-width="0.084" >10.0</text>
<text x="782.30" y="249.60" font-size="3.8" fill="#595959" text-anchor="end" stroke="#595959" stroke-width="0.084" >12.0</text>
<line x1="784.30" y1="312.80" x2="785.20" y2="312.80" stroke="#595959" stroke-width="0.4" />
<line x1="784.30" y1="248.30" x2="785.20" y2="248.30" stroke="#595959" stroke-width="0.4" />
<text transform="translate(770.8,287) rotate(-90)" font-size="3.8" fill="#595959" text-anchor="middle" textLength="63" lengthAdjust="spacingAndGlyphs">Responsive Vaccine Antigens (number)</text>
<circle cx="809.50" cy="285.20" r="1.80" fill="#5B9BD5" />
<circle cx="812.50" cy="262.90" r="1.80" fill="#5B9BD5" />
<circle cx="819.70" cy="274.10" r="1.80" fill="#5B9BD5" />
<circle cx="837.70" cy="260.90" r="1.80" fill="#5B9BD5" />
<circle cx="845.80" cy="252.50" r="1.80" fill="#5B9BD5" />
<line x1="811.30" y1="276.10" x2="845.80" y2="253.20" stroke="#9DC3E6" stroke-width="0.45" stroke-dasharray="0.9 0.9"/>
<text x="838.00" y="270.00" font-size="3.6" fill="#595959" textLength="15.90" lengthAdjust="spacingAndGlyphs" stroke="#595959" stroke-width="0.079" >R² = 0.65</text>
<text x="827.50" y="338.70" font-size="3.8" fill="#595959" text-anchor="middle" stroke="#595959" stroke-width="0.084" >AGP</text>
<line x1="937.80" y1="248.30" x2="937.80" y2="325.70" stroke="#262626" stroke-width="0.6" />
<line x1="937.80" y1="263.40" x2="1018.20" y2="263.40" stroke="#262626" stroke-width="0.6" />
<text x="937.80" y="332.50" font-size="3.8" fill="#595959" text-anchor="middle" stroke="#595959" stroke-width="0.084" >0</text>
<line x1="953.88" y1="262.40" x2="953.88" y2="264.40" stroke="#262626" stroke-width="0.5" />
<text x="953.88" y="332.50" font-size="3.8" fill="#595959" text-anchor="middle" stroke="#595959" stroke-width="0.084" >1</text>
<line x1="969.96" y1="262.40" x2="969.96" y2="264.40" stroke="#262626" stroke-width="0.5" />
<text x="969.96" y="332.50" font-size="3.8" fill="#595959" text-anchor="middle" stroke="#595959" stroke-width="0.084" >2</text>
<line x1="986.04" y1="262.40" x2="986.04" y2="264.40" stroke="#262626" stroke-width="0.5" />
<text x="986.04" y="332.50" font-size="3.8" fill="#595959" text-anchor="middle" stroke="#595959" stroke-width="0.084" >3</text>
<line x1="1002.12" y1="262.40" x2="1002.12" y2="264.40" stroke="#262626" stroke-width="0.5" />
<text x="1002.12" y="332.50" font-size="3.8" fill="#595959" text-anchor="middle" stroke="#595959" stroke-width="0.084" >4</text>
<line x1="1018.20" y1="262.40" x2="1018.20" y2="264.40" stroke="#262626" stroke-width="0.5" />
<text x="1018.20" y="332.50" font-size="3.8" fill="#595959" text-anchor="middle" stroke="#595959" stroke-width="0.084" >5</text>
<text x="934.60" y="249.60" font-size="3.8" fill="#595959" text-anchor="end" stroke="#595959" stroke-width="0.084" >20%</text>
<line x1="936.90" y1="248.30" x2="937.80" y2="248.30" stroke="#262626" stroke-width="0.4" />
<text x="934.60" y="264.70" font-size="3.8" fill="#595959" text-anchor="end" stroke="#595959" stroke-width="0.084" >0%</text>
<line x1="936.90" y1="263.40" x2="937.80" y2="263.40" stroke="#262626" stroke-width="0.4" />
<text x="934.60" y="280.40" font-size="3.8" fill="#595959" text-anchor="end" stroke="#595959" stroke-width="0.084" >-20%</text>
<line x1="936.90" y1="279.10" x2="937.80" y2="279.10" stroke="#262626" stroke-width="0.4" />
<text x="934.60" y="295.80" font-size="3.8" fill="#595959" text-anchor="end" stroke="#595959" stroke-width="0.084" >-40%</text>
<line x1="936.90" y1="294.50" x2="937.80" y2="294.50" stroke="#262626" stroke-width="0.4" />
<text x="934.60" y="311.30" font-size="3.8" fill="#595959" text-anchor="end" stroke="#595959" stroke-width="0.084" >-80%</text>
<line x1="936.90" y1="310.00" x2="937.80" y2="310.00" stroke="#262626" stroke-width="0.4" />
<text x="934.60" y="327.00" font-size="3.8" fill="#595959" text-anchor="end" stroke="#595959" stroke-width="0.084" >-100%</text>
<line x1="936.90" y1="325.70" x2="937.80" y2="325.70" stroke="#262626" stroke-width="0.4" />
<text transform="translate(919.8,287) rotate(-90)" font-size="3.8" fill="#595959" text-anchor="middle" textLength="50" lengthAdjust="spacingAndGlyphs">Tumor volume reduction(%)</text>
<circle cx="955.90" cy="259.90" r="1.80" fill="#5B9BD5" />
<circle cx="963.80" cy="255.70" r="1.80" fill="#5B9BD5" />
<circle cx="958.40" cy="280.60" r="1.80" fill="#5B9BD5" />
<circle cx="983.90" cy="273.40" r="1.80" fill="#5B9BD5" />
<circle cx="977.70" cy="315.10" r="1.80" fill="#5B9BD5" />
<line x1="953.60" y1="264.60" x2="1002.50" y2="310.00" stroke="#A6A6A6" stroke-width="0.4" stroke-dasharray="0.8 0.7"/>
<text x="996.40" y="298.80" font-size="3.6" fill="#595959" textLength="16.20" lengthAdjust="spacingAndGlyphs" stroke="#595959" stroke-width="0.079" >R² = 0.75</text>
<text x="977.90" y="338.70" font-size="3.8" fill="#595959" text-anchor="middle" stroke="#595959" stroke-width="0.084" >AGP</text>
<text x="698.20" y="343.60" font-size="4.5" fill="#2a2a2a" textLength="352.20" lengthAdjust="spacingAndGlyphs" stroke="none">Patients’ HLA class I genotype were determined from their saliva sample and served as input data for the prediction of antigen-specific immune responses and AGP calculation.</text>
<text x="698.40" y="353.60" font-size="6.9" fill="#000" font-weight="bold" textLength="104.20" lengthAdjust="spacingAndGlyphs" stroke="#000" stroke-width="0.152" >Clinical benefit – curative surgery:</text>
<rect x="698.40" y="354.36" width="104.20" height="0.69" fill="#000"/>
<text x="698.40" y="361.20" font-size="5.6" fill="#000" textLength="276.90" lengthAdjust="spacingAndGlyphs" stroke="#000" stroke-width="0.123" >2 patients qualified for curative surgery, 1 of them 27 weeks and the other 53 weeks after the first vaccination</text>
<rect x="698.40" y="367.30" width="370.10" height="8.70" fill="#4472C4" />
<text x="840.40" y="373.20" font-size="4.3" fill="#fff" font-weight="bold" text-anchor="middle" stroke="#fff" stroke-width="0.095" >Patient 010004</text>
<text x="988.00" y="373.20" font-size="4.3" fill="#fff" font-weight="bold" text-anchor="middle" stroke="#fff" stroke-width="0.095" >Patient 010007</text>
<rect x="698.40" y="376.00" width="370.10" height="14.50" fill="#E5E9F4" />
<rect x="698.40" y="400.20" width="370.10" height="8.80" fill="#E5E9F4" />
<rect x="698.40" y="417.70" width="370.10" height="8.70" fill="#E5E9F4" />
<rect x="698.40" y="435.60" width="370.10" height="14.70" fill="#E5E9F4" />
<line x1="698.40" y1="390.50" x2="1068.50" y2="390.50" stroke="#8EA9DB" stroke-width="0.7" />
<line x1="698.40" y1="400.20" x2="1068.50" y2="400.20" stroke="#8EA9DB" stroke-width="0.7" />
<line x1="698.40" y1="409.00" x2="1068.50" y2="409.00" stroke="#8EA9DB" stroke-width="0.7" />
<line x1="698.40" y1="417.70" x2="1068.50" y2="417.70" stroke="#8EA9DB" stroke-width="0.7" />
<line x1="698.40" y1="426.40" x2="1068.50" y2="426.40" stroke="#8EA9DB" stroke-width="0.7" />
<line x1="698.40" y1="435.60" x2="1068.50" y2="435.60" stroke="#8EA9DB" stroke-width="0.7" />
<line x1="698.40" y1="450.30" x2="1068.50" y2="450.30" stroke="#8EA9DB" stroke-width="0.7" />
<line x1="698.40" y1="460.00" x2="1068.50" y2="460.00" stroke="#8EA9DB" stroke-width="0.7" />
<text x="702.10" y="382.30" font-size="4.3" fill="#000" font-weight="bold" stroke="#000" stroke-width="0.095" >Disease</text>
<text x="775.90" y="382.30" font-size="4.3" fill="#222" textLength="129.00" lengthAdjust="spacingAndGlyphs" stroke="#222" stroke-width="0.095" >adenocarcinoma of the cecum pMMR, KRAS mutant, BRAF wild</text>
<text x="796.90" y="387.80" font-size="4.3" fill="#222" textLength="87.00" lengthAdjust="spacingAndGlyphs" stroke="#222" stroke-width="0.095" >type, mets to liver &amp; omentum, mesentery</text>
<text x="916.00" y="382.30" font-size="4.3" fill="#222" textLength="144.00" lengthAdjust="spacingAndGlyphs" stroke="#222" stroke-width="0.095" >rectosigmoid adenocarcinoma, RAS/BRAF wild type, MSS, mets to liver,</text>
<text x="919.00" y="387.80" font-size="4.3" fill="#222" textLength="138.00" lengthAdjust="spacingAndGlyphs" stroke="#222" stroke-width="0.095" >with lymphadenopathy – supraclavicular, axilla, mediastinum, hilum</text>
<text x="702.10" y="396.90" font-size="4.3" fill="#000" font-weight="bold" stroke="#000" stroke-width="0.095" >Induction</text>
<text x="796.90" y="396.90" font-size="4.3" fill="#222" textLength="87.00" lengthAdjust="spacingAndGlyphs" stroke="#222" stroke-width="0.095" >FOLFOX, AVASTIN, CAPECITABINE, AVASTIN</text>
<text x="945.00" y="396.90" font-size="4.3" fill="#222" textLength="86.00" lengthAdjust="spacingAndGlyphs" stroke="#222" stroke-width="0.095" >FOLFOX + CETUXIMAB (ARM B ALEPEI-7)</text>
<text x="702.10" y="406.10" font-size="4.3" fill="#000" font-weight="bold" stroke="#000" stroke-width="0.095" >BOR at Induction</text>
<text x="840.40" y="406.10" font-size="4.3" fill="#222" text-anchor="middle" stroke="#222" stroke-width="0.095" >SD</text>
<text x="988.00" y="406.10" font-size="4.3" fill="#222" text-anchor="middle" stroke="#222" stroke-width="0.095" >PR</text>
<text x="702.10" y="414.90" font-size="4.3" fill="#000" font-weight="bold" stroke="#000" stroke-width="0.095" >Doses received</text>
<text x="840.40" y="414.90" font-size="4.3" fill="#222" text-anchor="middle" stroke="#222" stroke-width="0.095" >3</text>
<text x="988.00" y="414.90" font-size="4.3" fill="#222" text-anchor="middle" stroke="#222" stroke-width="0.095" >3</text>
<text x="702.10" y="423.60" font-size="4.3" fill="#000" font-weight="bold" stroke="#000" stroke-width="0.095" >Target lesions</text>
<text x="789.40" y="423.60" font-size="4.3" fill="#222" textLength="102.00" lengthAdjust="spacingAndGlyphs" stroke="#222" stroke-width="0.095" >Liver, 2x Peritoneum (Lateral Abdominal + Anterior Abdominal)</text>
<text x="988.00" y="423.60" font-size="4.3" fill="#222" text-anchor="middle" stroke="#222" stroke-width="0.095" >Liver</text>
<text x="702.10" y="432.60" font-size="4.3" fill="#000" font-weight="bold" stroke="#000" stroke-width="0.095" >BOR  Maintenance+Vaccine</text>
<text x="808.90" y="432.60" font-size="4.3" fill="#222" font-weight="bold" textLength="63.00" lengthAdjust="spacingAndGlyphs" stroke="#222" stroke-width="0.095" >PR (2/3 lesions resolved to CR)</text>
<text x="988.00" y="432.60" font-size="4.3" fill="#222" font-weight="bold" text-anchor="middle" stroke="#222" stroke-width="0.095" >PR</text>
<text x="702.10" y="441.60" font-size="4.3" fill="#000" font-weight="bold" stroke="#000" stroke-width="0.095" >Curative surgery:</text>
<text x="702.10" y="447.30" font-size="4.3" fill="#000" font-weight="bold" stroke="#000" stroke-width="0.095" >Pathological report</text>
<text x="779.90" y="441.60" font-size="4.3" fill="#222" textLength="121.00" lengthAdjust="spacingAndGlyphs" stroke="#222" stroke-width="0.095" >Peritoneum active, Liver, mesentery negative for tumor, 3/29</text>
<text x="815.40" y="447.30" font-size="4.3" fill="#222" textLength="50.00" lengthAdjust="spacingAndGlyphs" stroke="#222" stroke-width="0.095" >lymph nodes are positive</text>
<text x="915.00" y="441.60" font-size="4.3" fill="#222" textLength="146.00" lengthAdjust="spacingAndGlyphs" stroke="#222" stroke-width="0.095" >Peritoneum, Liver, Mesentery, Sigmoid colon, Omentum are negative for</text>
<text x="948.50" y="447.30" font-size="4.3" fill="#222" textLength="79.00" lengthAdjust="spacingAndGlyphs" stroke="#222" stroke-width="0.095" >tumor; 27/27 lymph nodes are negative</text>
<text x="702.10" y="456.80" font-size="4.3" fill="#000" font-weight="bold" stroke="#000" stroke-width="0.095" >Follow-up</text>
<text x="786.90" y="456.80" font-size="4.3" fill="#222" textLength="107.00" lengthAdjust="spacingAndGlyphs" stroke="#222" stroke-width="0.095" >Recurrence approx. 6 months after last dose/surgery</text>
<text x="917.00" y="456.80" font-size="4.3" fill="#222" textLength="142.00" lengthAdjust="spacingAndGlyphs" stroke="#222" stroke-width="0.095" >No sign of recurrence as of today (2020 May), 25 weeks after last dose</text>
<text x="792.60" y="472.90" font-size="6.3" fill="#1a1a1a" font-weight="bold" text-anchor="middle" textLength="66.80" lengthAdjust="spacingAndGlyphs" stroke="#1a1a1a" stroke-width="0.139" >010004 - 3 target lesions</text>
<defs><linearGradient id="gA" x1="0" x2="1" y1="0" y2="0"><stop offset="0" stop-color="#FFFFFF" stop-opacity="0"/><stop offset="0.4" stop-color="#FFF6DA" stop-opacity="0.9"/><stop offset="1" stop-color="#FFEBB0" stop-opacity="0.95"/></linearGradient><linearGradient id="gB" x1="0" x2="1" y1="0" y2="0"><stop offset="0" stop-color="#FFFCF2" stop-opacity="0.9"/><stop offset="0.5" stop-color="#FFF4D4" stop-opacity="0.9"/><stop offset="1" stop-color="#FFE9AE" stop-opacity="0.92"/></linearGradient></defs>
<line x1="718.50" y1="475.50" x2="718.50" y2="538.40" stroke="#D9D9D9" stroke-width="0.45" />
<line x1="736.32" y1="475.50" x2="736.32" y2="538.40" stroke="#D9D9D9" stroke-width="0.45" />
<line x1="754.14" y1="475.50" x2="754.14" y2="538.40" stroke="#D9D9D9" stroke-width="0.45" />
<line x1="771.96" y1="475.50" x2="771.96" y2="538.40" stroke="#D9D9D9" stroke-width="0.45" />
<line x1="789.78" y1="475.50" x2="789.78" y2="538.40" stroke="#D9D9D9" stroke-width="0.45" />
<line x1="807.60" y1="475.50" x2="807.60" y2="538.40" stroke="#D9D9D9" stroke-width="0.45" />
<line x1="825.42" y1="475.50" x2="825.42" y2="538.40" stroke="#D9D9D9" stroke-width="0.45" />
<line x1="843.24" y1="475.50" x2="843.24" y2="538.40" stroke="#D9D9D9" stroke-width="0.45" />
<line x1="861.06" y1="475.50" x2="861.06" y2="538.40" stroke="#D9D9D9" stroke-width="0.45" />
<line x1="878.88" y1="475.50" x2="878.88" y2="538.40" stroke="#D9D9D9" stroke-width="0.45" />
<line x1="718.50" y1="517.45" x2="878.88" y2="517.45" stroke="#E6E6E6" stroke-width="0.4" />
<line x1="718.50" y1="496.50" x2="878.88" y2="496.50" stroke="#E6E6E6" stroke-width="0.4" />
<line x1="718.50" y1="475.55" x2="878.88" y2="475.55" stroke="#E6E6E6" stroke-width="0.4" />
<rect x="848.60" y="475.50" width="30.30" height="62.90" fill="url(#gA)" />
<line x1="718.50" y1="538.40" x2="878.88" y2="538.40" stroke="#D9D9D9" stroke-width="0.5" />
<text x="718.50" y="548.00" font-size="5.4" fill="#404040" text-anchor="middle" stroke="#404040" stroke-width="0.119" >0</text>
<text x="736.32" y="548.00" font-size="5.4" fill="#404040" text-anchor="middle" stroke="#404040" stroke-width="0.119" >6</text>
<text x="754.14" y="548.00" font-size="5.4" fill="#404040" text-anchor="middle" stroke="#404040" stroke-width="0.119" >12</text>
<text x="771.96" y="548.00" font-size="5.4" fill="#404040" text-anchor="middle" stroke="#404040" stroke-width="0.119" >18</text>
<text x="789.78" y="548.00" font-size="5.4" fill="#404040" text-anchor="middle" stroke="#404040" stroke-width="0.119" >24</text>
<text x="807.60" y="548.00" font-size="5.4" fill="#404040" text-anchor="middle" stroke="#404040" stroke-width="0.119" >30</text>
<text x="825.42" y="548.00" font-size="5.4" fill="#404040" text-anchor="middle" stroke="#404040" stroke-width="0.119" >36</text>
<text x="843.24" y="548.00" font-size="5.4" fill="#404040" text-anchor="middle" stroke="#404040" stroke-width="0.119" >42</text>
<text x="861.06" y="548.00" font-size="5.4" fill="#404040" text-anchor="middle" stroke="#404040" stroke-width="0.119" >48</text>
<text x="878.88" y="548.00" font-size="5.4" fill="#404040" text-anchor="middle" stroke="#404040" stroke-width="0.119" >54</text>
<text x="714.60" y="540.30" font-size="5.4" fill="#404040" text-anchor="end" stroke="#404040" stroke-width="0.119" >0</text>
<text x="714.60" y="519.35" font-size="5.4" fill="#404040" text-anchor="end" stroke="#404040" stroke-width="0.119" >10</text>
<text x="714.60" y="498.40" font-size="5.4" fill="#404040" text-anchor="end" stroke="#404040" stroke-width="0.119" >20</text>
<text x="714.60" y="477.45" font-size="5.4" fill="#404040" text-anchor="end" stroke="#404040" stroke-width="0.119" >30</text>
<text x="791.90" y="553.70" font-size="5.4" fill="#262626" font-weight="bold" text-anchor="middle" stroke="#262626" stroke-width="0.119" >Weeks</text>
<text transform="translate(705.2,507.3) rotate(-90)" font-size="5.4" font-weight="bold" fill="#262626" text-anchor="middle" textLength="40" lengthAdjust="spacingAndGlyphs">Tumor size (mm)</text>
<path d="M718.5 507.1 L736.4 520.9 L754.1 522.5 L774.7 526.6 L792.8 538.4" fill="none" stroke="#A5A5A5" stroke-width="0.8" stroke-linejoin="round"/>
<circle cx="718.50" cy="507.10" r="1.30" fill="#A5A5A5" />
<circle cx="736.40" cy="520.90" r="1.30" fill="#A5A5A5" />
<circle cx="754.10" cy="522.50" r="1.30" fill="#A5A5A5" />
<circle cx="774.70" cy="526.60" r="1.30" fill="#A5A5A5" />
<circle cx="792.80" cy="538.40" r="1.30" fill="#A5A5A5" />
<path d="M718.5 513.5 L736.4 525.7 L754.1 530.1 L774.7 530.6 L792.8 538.4" fill="none" stroke="#44546A" stroke-width="0.9" stroke-linejoin="round"/>
<circle cx="718.50" cy="513.50" r="1.40" fill="#44546A" />
<circle cx="736.40" cy="525.70" r="1.40" fill="#44546A" />
<circle cx="754.10" cy="530.10" r="1.40" fill="#44546A" />
<circle cx="774.70" cy="530.60" r="1.40" fill="#44546A" />
<circle cx="792.80" cy="538.40" r="1.40" fill="#44546A" />
<path d="M718.5 494.5 L736.4 499.4 L754.1 513.3 L774.7 521.9 L792.8 522.1 L831 538.4" fill="none" stroke="#00B050" stroke-width="1.0" stroke-linejoin="round"/>
<circle cx="718.50" cy="494.50" r="1.60" fill="#00B050" />
<circle cx="736.40" cy="499.40" r="1.60" fill="#00B050" />
<circle cx="754.10" cy="513.30" r="1.60" fill="#00B050" />
<circle cx="774.70" cy="521.90" r="1.60" fill="#00B050" />
<circle cx="792.80" cy="522.10" r="1.60" fill="#00B050" />
<circle cx="831.00" cy="538.40" r="1.60" fill="#00B050" />
<path d="M799.8 493.6 H833.4 V504.1 H814.8 L796.4 518.9 L804.9 504.1 H799.8 Z" fill="#FFC000" />
<text x="805.80" y="501.20" font-size="6.0" fill="#FFF0C4" textLength="21.70" lengthAdjust="spacingAndGlyphs" stroke="none">surgery</text>
<text x="735.30" y="483.80" font-size="5.4" fill="#262626" font-weight="bold" stroke="#262626" stroke-width="0.119" >PR</text>
<text x="753.80" y="497.30" font-size="5.4" fill="#262626" font-weight="bold" stroke="#262626" stroke-width="0.119" >PR</text>
<text x="774.00" y="507.60" font-size="5.4" fill="#262626" font-weight="bold" stroke="#262626" stroke-width="0.119" >PR</text>
<text x="735.30" y="488.40" font-size="3.4" fill="#595959" textLength="11.00" lengthAdjust="spacingAndGlyphs" stroke="#595959" stroke-width="0.075" >CEA: 1.7</text>
<text x="735.30" y="492.90" font-size="3.4" fill="#595959" textLength="14.50" lengthAdjust="spacingAndGlyphs" stroke="#595959" stroke-width="0.075" >CA19-9: 6</text>
<text x="752.50" y="501.90" font-size="3.4" fill="#595959" textLength="11.00" lengthAdjust="spacingAndGlyphs" stroke="#595959" stroke-width="0.075" >CEA: 1.6</text>
<text x="752.50" y="506.40" font-size="3.4" fill="#595959" textLength="16.00" lengthAdjust="spacingAndGlyphs" stroke="#595959" stroke-width="0.075" >CA19-9: 16</text>
<text x="774.00" y="512.20" font-size="3.4" fill="#595959" textLength="11.00" lengthAdjust="spacingAndGlyphs" stroke="#595959" stroke-width="0.075" >CEA: 1.5</text>
<text x="774.00" y="516.70" font-size="3.4" fill="#595959" textLength="14.50" lengthAdjust="spacingAndGlyphs" stroke="#595959" stroke-width="0.075" >CA19-9: 8</text>
<text x="713.70" y="521.80" font-size="3.4" fill="#595959" textLength="11.00" lengthAdjust="spacingAndGlyphs" stroke="#595959" stroke-width="0.075" >CEA: 2.2</text>
<text x="713.70" y="525.80" font-size="3.4" fill="#595959" textLength="14.50" lengthAdjust="spacingAndGlyphs" stroke="#595959" stroke-width="0.075" >CA19-9: 9</text>
<text x="827.40" y="527.70" font-size="3.4" fill="#595959" textLength="9.00" lengthAdjust="spacingAndGlyphs" stroke="#595959" stroke-width="0.075" >CEA: 2</text>
<text x="827.40" y="532.30" font-size="3.4" fill="#595959" textLength="14.50" lengthAdjust="spacingAndGlyphs" stroke="#595959" stroke-width="0.075" >CA19-9: 9</text>
<line x1="877.60" y1="538.40" x2="877.60" y2="525.40" stroke="#7FAADC" stroke-width="0.9" stroke-dasharray="1.6 1.2"/>
<path d="M875.6 525.4 L877.6 521.2 L879.6 525.4 Z" fill="#4472C4" />
<text x="856.40" y="530.50" font-size="4.2" fill="#8A9A4A" font-style="italic" textLength="19.10" lengthAdjust="spacingAndGlyphs" stroke="none">Follow up:</text>
<rect x="856.40" y="530.96" width="19.10" height="0.29" fill="#8A9A4A"/>
<text x="855.20" y="535.70" font-size="4.2" fill="#8A9A4A" font-style="italic" textLength="20.30" lengthAdjust="spacingAndGlyphs" stroke="none">No residual</text>
<rect x="855.20" y="536.16" width="20.30" height="0.29" fill="#8A9A4A"/>
<text x="982.70" y="472.90" font-size="6.3" fill="#1a1a1a" font-weight="bold" text-anchor="middle" textLength="64.10" lengthAdjust="spacingAndGlyphs" stroke="#1a1a1a" stroke-width="0.139" >010007 - 1 target lesion</text>
<line x1="922.89" y1="475.50" x2="922.89" y2="538.70" stroke="#D9D9D9" stroke-width="0.45" />
<line x1="938.98" y1="475.50" x2="938.98" y2="538.70" stroke="#D9D9D9" stroke-width="0.45" />
<line x1="955.07" y1="475.50" x2="955.07" y2="538.70" stroke="#D9D9D9" stroke-width="0.45" />
<line x1="971.16" y1="475.50" x2="971.16" y2="538.70" stroke="#D9D9D9" stroke-width="0.45" />
<line x1="987.25" y1="475.50" x2="987.25" y2="538.70" stroke="#D9D9D9" stroke-width="0.45" />
<line x1="1003.34" y1="475.50" x2="1003.34" y2="538.70" stroke="#D9D9D9" stroke-width="0.45" />
<line x1="1019.43" y1="475.50" x2="1019.43" y2="538.70" stroke="#D9D9D9" stroke-width="0.45" />
<line x1="1035.52" y1="475.50" x2="1035.52" y2="538.70" stroke="#D9D9D9" stroke-width="0.45" />
<line x1="1051.61" y1="475.50" x2="1051.61" y2="538.70" stroke="#D9D9D9" stroke-width="0.45" />
<line x1="1067.70" y1="475.50" x2="1067.70" y2="538.70" stroke="#D9D9D9" stroke-width="0.45" />
<line x1="906.80" y1="522.90" x2="1067.70" y2="522.90" stroke="#D9D9D9" stroke-width="0.4" />
<line x1="906.80" y1="507.10" x2="1067.70" y2="507.10" stroke="#D9D9D9" stroke-width="0.4" />
<line x1="906.80" y1="491.30" x2="1067.70" y2="491.30" stroke="#D9D9D9" stroke-width="0.4" />
<line x1="906.80" y1="475.50" x2="1067.70" y2="475.50" stroke="#D9D9D9" stroke-width="0.4" />
<rect x="1003.20" y="475.50" width="64.90" height="63.20" fill="url(#gB)" />
<line x1="906.80" y1="475.50" x2="906.80" y2="538.70" stroke="#595959" stroke-width="0.8" />
<line x1="906.80" y1="538.70" x2="1067.70" y2="538.70" stroke="#D9D9D9" stroke-width="0.5" />
<text x="906.80" y="548.00" font-size="5.4" fill="#404040" text-anchor="middle" stroke="#404040" stroke-width="0.119" >0</text>
<text x="922.89" y="548.00" font-size="5.4" fill="#404040" text-anchor="middle" stroke="#404040" stroke-width="0.119" >6</text>
<text x="938.98" y="548.00" font-size="5.4" fill="#404040" text-anchor="middle" stroke="#404040" stroke-width="0.119" >12</text>
<text x="955.07" y="548.00" font-size="5.4" fill="#404040" text-anchor="middle" stroke="#404040" stroke-width="0.119" >18</text>
<text x="971.16" y="548.00" font-size="5.4" fill="#404040" text-anchor="middle" stroke="#404040" stroke-width="0.119" >24</text>
<text x="987.25" y="548.00" font-size="5.4" fill="#404040" text-anchor="middle" stroke="#404040" stroke-width="0.119" >30</text>
<text x="1003.34" y="548.00" font-size="5.4" fill="#404040" text-anchor="middle" stroke="#404040" stroke-width="0.119" >36</text>
<text x="1019.43" y="548.00" font-size="5.4" fill="#404040" text-anchor="middle" stroke="#404040" stroke-width="0.119" >42</text>
<text x="1035.52" y="548.00" font-size="5.4" fill="#404040" text-anchor="middle" stroke="#404040" stroke-width="0.119" >48</text>
<text x="1051.61" y="548.00" font-size="5.4" fill="#404040" text-anchor="middle" stroke="#404040" stroke-width="0.119" >54</text>
<text x="1067.70" y="548.00" font-size="5.4" fill="#404040" text-anchor="middle" stroke="#404040" stroke-width="0.119" >58</text>
<text x="902.40" y="540.60" font-size="5.4" fill="#404040" text-anchor="end" stroke="#404040" stroke-width="0.119" >0</text>
<text x="902.40" y="524.80" font-size="5.4" fill="#404040" text-anchor="end" stroke="#404040" stroke-width="0.119" >10</text>
<text x="902.40" y="509.00" font-size="5.4" fill="#404040" text-anchor="end" stroke="#404040" stroke-width="0.119" >20</text>
<text x="902.40" y="493.20" font-size="5.4" fill="#404040" text-anchor="end" stroke="#404040" stroke-width="0.119" >30</text>
<text x="902.40" y="477.40" font-size="5.4" fill="#404040" text-anchor="end" stroke="#404040" stroke-width="0.119" >40</text>
<text x="986.80" y="555.40" font-size="5.4" fill="#262626" font-weight="bold" text-anchor="middle" stroke="#262626" stroke-width="0.119" >Weeks</text>
<text transform="translate(893,506) rotate(-90)" font-size="5.4" fill="#404040" text-anchor="middle" textLength="40.5" lengthAdjust="spacingAndGlyphs">Tumor size (mm)</text>
<path d="M906.8 492.7 L923.1 497.6 L939.2 497.6 L955.2 502.3 L971.3 505 L987.4 506.1 L1003.4 507.7" fill="none" stroke="#4472C4" stroke-width="0.9" stroke-linejoin="round"/>
<circle cx="906.80" cy="492.70" r="1.25" fill="#4472C4" />
<circle cx="923.10" cy="497.60" r="1.25" fill="#4472C4" />
<circle cx="939.20" cy="497.60" r="1.25" fill="#4472C4" />
<circle cx="955.20" cy="502.30" r="1.25" fill="#4472C4" />
<circle cx="971.30" cy="505.00" r="1.25" fill="#4472C4" />
<circle cx="987.40" cy="506.10" r="1.25" fill="#4472C4" />
<circle cx="1003.40" cy="507.70" r="1.25" fill="#4472C4" />
<path d="M1003.4 507.8 C1016 508 1024 508.4 1030 510.2 C1040 513.4 1046 518.6 1050.4 523.6 C1054 528 1056 531 1057 534.6" fill="none" stroke="#4472C4" stroke-width="1.1" stroke-dasharray="2.4 1.7"/>
<path d="M1054.4 533.4 L1058.9 533 L1057 537.6 Z" fill="#4472C4" />
<line x1="1058.30" y1="538.70" x2="1064.60" y2="538.70" stroke="#4472C4" stroke-width="1.1" stroke-dasharray="2.4 1.5"/>
<path d="M1064.2 536.6 L1068.3 538.7 L1064.2 540.8 Z" fill="#4472C4" />
<path d="M1024.3 497.4 H1062.5 V508.1 H1056.2 L1056.5 526 L1046 508.1 H1024.3 Z" fill="#FFC000" />
<text x="1032.70" y="505.00" font-size="6.0" fill="#FFF0C4" textLength="21.70" lengthAdjust="spacingAndGlyphs" stroke="none">surgery</text>
<text x="1045.40" y="482.10" font-size="5.0" fill="#8A9A4A" font-style="italic" textLength="19.50" lengthAdjust="spacingAndGlyphs" stroke="none">Follow up:</text>
<rect x="1045.40" y="482.65" width="19.50" height="0.35" fill="#8A9A4A"/>
<text x="1019.20" y="487.60" font-size="5.0" fill="#8A9A4A" font-style="italic" textLength="45.70" lengthAdjust="spacingAndGlyphs" stroke="none">No evidence of disease</text>
<text x="923.60" y="481.40" font-size="5.4" fill="#262626" font-weight="bold" stroke="#262626" stroke-width="0.119" >SD</text>
<text x="957.00" y="487.70" font-size="5.4" fill="#262626" font-weight="bold" stroke="#262626" stroke-width="0.119" >SD</text>
<text x="989.80" y="491.00" font-size="5.4" fill="#262626" font-weight="bold" stroke="#262626" stroke-width="0.119" >SD</text>
<text x="937.20" y="506.00" font-size="5.4" fill="#262626" font-weight="bold" stroke="#262626" stroke-width="0.119" >SD</text>
<text x="965.60" y="510.80" font-size="5.4" fill="#262626" font-weight="bold" stroke="#262626" stroke-width="0.119" >SD</text>
<text x="1001.60" y="516.80" font-size="5.4" fill="#262626" font-weight="bold" stroke="#262626" stroke-width="0.119" >PR</text>
<text x="923.60" y="486.00" font-size="3.4" fill="#595959" textLength="11.00" lengthAdjust="spacingAndGlyphs" stroke="#595959" stroke-width="0.075" >CEA: 3.4</text>
<text x="923.60" y="490.50" font-size="3.4" fill="#595959" textLength="16.00" lengthAdjust="spacingAndGlyphs" stroke="#595959" stroke-width="0.075" >CA19-9: 15</text>
<text x="957.00" y="492.00" font-size="3.4" fill="#595959" textLength="11.00" lengthAdjust="spacingAndGlyphs" stroke="#595959" stroke-width="0.075" >CEA: 6.7</text>
<text x="957.00" y="496.90" font-size="3.4" fill="#595959" textLength="14.50" lengthAdjust="spacingAndGlyphs" stroke="#595959" stroke-width="0.075" >CA19-9: 8</text>
<text x="989.80" y="495.60" font-size="3.4" fill="#595959" textLength="12.50" lengthAdjust="spacingAndGlyphs" stroke="#595959" stroke-width="0.075" >CEA: 10.4</text>
<text x="989.80" y="500.10" font-size="3.4" fill="#595959" textLength="16.00" lengthAdjust="spacingAndGlyphs" stroke="#595959" stroke-width="0.075" >CA19-9: 11</text>
<text x="937.20" y="510.60" font-size="3.4" fill="#595959" textLength="11.00" lengthAdjust="spacingAndGlyphs" stroke="#595959" stroke-width="0.075" >CEA: 3.4</text>
<text x="937.20" y="515.10" font-size="3.4" fill="#595959" textLength="14.50" lengthAdjust="spacingAndGlyphs" stroke="#595959" stroke-width="0.075" >CA19-9: 6</text>
<text x="965.60" y="515.50" font-size="3.4" fill="#595959" textLength="11.00" lengthAdjust="spacingAndGlyphs" stroke="#595959" stroke-width="0.075" >CEA: 6.7</text>
<text x="965.60" y="519.60" font-size="3.4" fill="#595959" textLength="14.50" lengthAdjust="spacingAndGlyphs" stroke="#595959" stroke-width="0.075" >CA19-9: 8</text>
<text x="1001.60" y="521.80" font-size="3.4" fill="#595959" textLength="6.50" lengthAdjust="spacingAndGlyphs" stroke="#595959" stroke-width="0.075" >CEA:</text>
<text x="1001.60" y="526.30" font-size="3.4" fill="#595959" textLength="10.50" lengthAdjust="spacingAndGlyphs" stroke="#595959" stroke-width="0.075" >CA19-9</text>
<text x="902.00" y="497.40" font-size="3.4" fill="#404040" textLength="11.00" lengthAdjust="spacingAndGlyphs" stroke="#404040" stroke-width="0.075" >CEA: 7.3</text>
<text x="902.00" y="501.60" font-size="3.4" fill="#404040" textLength="16.00" lengthAdjust="spacingAndGlyphs" stroke="#404040" stroke-width="0.075" >CA19-9: 18</text>
<defs><filter id="ctblur" x="-5%" y="-5%" width="110%" height="110%"><feGaussianBlur stdDeviation="0.7"/></filter></defs>
<g clip-path="url(#ctc1)"><defs><clipPath id="ctc1"><rect x="713.70" y="563.00" width="78.00" height="60.70"/></clipPath></defs>
<rect x="713.70" y="563.00" width="78.00" height="60.70" fill="#050505" />
<g filter="url(#ctblur)">
<ellipse cx="752.50" cy="594.95" rx="34.4" ry="26.6" fill="#3d3d3d" stroke="#777" stroke-width="0.7"/>
<ellipse cx="752.50" cy="594.15" rx="30" ry="22.6" fill="none" stroke="#939393" stroke-width="1.5"/>
<ellipse cx="752.50" cy="592.75" rx="27.6" ry="19.8" fill="#232323"/>
<ellipse cx="735.20" cy="588.59" rx="4.04" ry="1.71" fill="#5c5c5c"/>
<ellipse cx="741.75" cy="589.09" rx="2.39" ry="2.33" fill="#9a9a9a"/>
<ellipse cx="747.95" cy="589.79" rx="2.29" ry="2.61" fill="#7a7a7a"/>
<ellipse cx="744.39" cy="590.28" rx="3.69" ry="2.25" fill="#696969"/>
<ellipse cx="737.09" cy="586.17" rx="2.03" ry="2.28" fill="#696969"/>
<ellipse cx="735.91" cy="582.74" rx="2.31" ry="2.58" fill="#7a7a7a"/>
<ellipse cx="747.30" cy="586.68" rx="3.93" ry="1.44" fill="#9a9a9a"/>
<ellipse cx="758.70" cy="591.53" rx="3.13" ry="2.25" fill="#5c5c5c"/>
<ellipse cx="738.47" cy="578.86" rx="2.94" ry="1.59" fill="#9a9a9a"/>
<ellipse cx="750.41" cy="580.84" rx="2.90" ry="1.45" fill="#696969"/>
<ellipse cx="766.50" cy="578.78" rx="1.91" ry="1.54" fill="#696969"/>
<ellipse cx="748.62" cy="588.33" rx="1.84" ry="2.02" fill="#5c5c5c"/>
<ellipse cx="760.66" cy="585.91" rx="2.40" ry="1.99" fill="#9a9a9a"/>
<ellipse cx="748.88" cy="590.58" rx="2.83" ry="1.65" fill="#696969"/>
<ellipse cx="768.58" cy="592.37" rx="3.08" ry="2.03" fill="#7a7a7a"/>
<ellipse cx="742.24" cy="584.41" rx="4.05" ry="1.93" fill="#9a9a9a"/>
<ellipse cx="745.79" cy="586.46" rx="2.29" ry="1.75" fill="#9a9a9a"/>
<ellipse cx="738.80" cy="587.40" rx="3.67" ry="1.44" fill="#9a9a9a"/>
<ellipse cx="734.80" cy="580.43" rx="4.16" ry="2.18" fill="#7a7a7a"/>
<ellipse cx="742.93" cy="592.33" rx="4.17" ry="1.47" fill="#696969"/>
<ellipse cx="772.58" cy="589.75" rx="2.20" ry="2.61" fill="#7a7a7a"/>
<ellipse cx="742.14" cy="581.33" rx="3.37" ry="1.80" fill="#5c5c5c"/>
<ellipse cx="762.24" cy="591.68" rx="3.06" ry="2.19" fill="#7a7a7a"/>
<ellipse cx="771.96" cy="589.47" rx="3.28" ry="1.60" fill="#5c5c5c"/>
<ellipse cx="752.07" cy="581.27" rx="3.02" ry="2.46" fill="#9a9a9a"/>
<ellipse cx="744.34" cy="591.99" rx="1.68" ry="2.26" fill="#5c5c5c"/>
<ellipse cx="749.39" cy="589.73" rx="2.28" ry="1.45" fill="#7a7a7a"/>
<ellipse cx="739.33" cy="588.43" rx="2.15" ry="2.03" fill="#8d8d8d"/>
<ellipse cx="736.03" cy="591.70" rx="3.64" ry="1.69" fill="#7a7a7a"/>
<ellipse cx="746.72" cy="584.15" rx="2.76" ry="1.44" fill="#8d8d8d"/>
<ellipse cx="766.08" cy="580.10" rx="3.34" ry="1.63" fill="#7a7a7a"/>
<ellipse cx="758.97" cy="587.85" rx="4.19" ry="2.19" fill="#696969"/>
<ellipse cx="766.73" cy="588.60" rx="2.66" ry="1.70" fill="#5c5c5c"/>
<ellipse cx="751.17" cy="592.28" rx="1.76" ry="2.32" fill="#696969"/>
<ellipse cx="771.60" cy="586.03" rx="3.99" ry="1.40" fill="#7a7a7a"/>
<ellipse cx="767.44" cy="579.19" rx="3.76" ry="2.70" fill="#7a7a7a"/>
<ellipse cx="733.50" cy="590.05" rx="1.72" ry="2.78" fill="#696969"/>
<ellipse cx="769.50" cy="579.75" rx="2.82" ry="2.60" fill="#9a9a9a"/>
<ellipse cx="762.10" cy="577.67" rx="4.13" ry="1.67" fill="#7a7a7a"/>
<ellipse cx="760.47" cy="587.68" rx="3.03" ry="2.49" fill="#7a7a7a"/>
<ellipse cx="728.50" cy="590.35" rx="3" ry="7" fill="#8a8a8a"/>
<ellipse cx="742.00" cy="611.85" rx="12.5" ry="7.5" fill="#858585"/>
<ellipse cx="763.00" cy="611.85" rx="12.5" ry="7.5" fill="#858585"/>
<ellipse cx="746.50" cy="601.35" rx="3.2" ry="4.6" fill="#7d7d7d"/>
<ellipse cx="758.50" cy="601.35" rx="3.2" ry="4.6" fill="#7d7d7d"/>
<ellipse cx="737.50" cy="597.95" rx="5" ry="6" fill="#d2d2d2"/>
<ellipse cx="738.55" cy="597.75" rx="2.3" ry="3.2" fill="#616161"/>
<ellipse cx="767.50" cy="597.95" rx="5" ry="6" fill="#d2d2d2"/>
<ellipse cx="766.45" cy="597.75" rx="2.3" ry="3.2" fill="#616161"/>
<circle cx="754.10" cy="594.85" r="1.50" fill="#dcdcdc" />
<circle cx="749.50" cy="595.35" r="1.40" fill="#b4b4b4" />
<ellipse cx="752.50" cy="602.55" rx="4.6" ry="3.6" fill="#f4f4f4"/>
<ellipse cx="752.50" cy="603.15" rx="2.6" ry="1.7" fill="#9b9b9b"/>
<path d="M748.90 606.55 L752.50 608.35 L756.10 606.55 M752.50 607.85 V614.35" fill="none" stroke="#f2f2f2" stroke-width="1.3" />
</g>
<rect x="713.70" y="612.20" width="7.80" height="11.00" fill="#3a3a32" />
<rect x="714.50" y="613.10" width="3.00" height="9.60" fill="#6b6b60" />
<line x1="721.70" y1="623.10" x2="791.70" y2="618.20" stroke="#4d4d4d" stroke-width="0.4" />
<line x1="768.70" y1="568.00" x2="765.20" y2="572.00" stroke="#A7B23A" stroke-width="0.5" />
<line x1="784.20" y1="574.00" x2="778.20" y2="578.50" stroke="#B0203A" stroke-width="0.6" />
</g>
<text x="720.30" y="569.20" font-size="4.9" fill="#fff" font-weight="bold" textLength="34.70" lengthAdjust="spacingAndGlyphs" stroke="#fff" stroke-width="0.108" >Study baseline</text>
<g clip-path="url(#ctc2)"><defs><clipPath id="ctc2"><rect x="796.30" y="563.00" width="75.40" height="60.70"/></clipPath></defs>
<rect x="796.30" y="563.00" width="75.40" height="60.70" fill="#050505" />
<g filter="url(#ctblur)">
<ellipse cx="834.20" cy="594.95" rx="34.4" ry="26.6" fill="#3d3d3d" stroke="#777" stroke-width="0.7"/>
<ellipse cx="834.20" cy="594.15" rx="30" ry="22.6" fill="none" stroke="#939393" stroke-width="1.5"/>
<ellipse cx="834.20" cy="592.75" rx="27.6" ry="19.8" fill="#232323"/>
<ellipse cx="828.79" cy="592.18" rx="2.16" ry="2.61" fill="#7a7a7a"/>
<ellipse cx="840.20" cy="578.03" rx="1.69" ry="2.15" fill="#696969"/>
<ellipse cx="816.43" cy="591.09" rx="3.39" ry="2.55" fill="#5c5c5c"/>
<ellipse cx="834.74" cy="590.06" rx="2.42" ry="2.68" fill="#5c5c5c"/>
<ellipse cx="836.35" cy="585.57" rx="1.87" ry="2.76" fill="#5c5c5c"/>
<ellipse cx="840.19" cy="578.92" rx="2.53" ry="1.83" fill="#5c5c5c"/>
<ellipse cx="841.95" cy="587.25" rx="1.78" ry="2.14" fill="#7a7a7a"/>
<ellipse cx="834.86" cy="579.38" rx="3.01" ry="1.42" fill="#7a7a7a"/>
<ellipse cx="837.80" cy="589.71" rx="2.76" ry="2.51" fill="#5c5c5c"/>
<ellipse cx="839.10" cy="587.81" rx="1.75" ry="2.52" fill="#9a9a9a"/>
<ellipse cx="824.65" cy="578.11" rx="3.76" ry="1.87" fill="#9a9a9a"/>
<ellipse cx="854.74" cy="577.65" rx="2.72" ry="2.16" fill="#8d8d8d"/>
<ellipse cx="853.90" cy="590.78" rx="1.84" ry="2.33" fill="#7a7a7a"/>
<ellipse cx="851.02" cy="589.44" rx="4.00" ry="2.63" fill="#8d8d8d"/>
<ellipse cx="845.57" cy="580.72" rx="3.93" ry="2.48" fill="#5c5c5c"/>
<ellipse cx="835.21" cy="583.26" rx="2.89" ry="1.99" fill="#696969"/>
<ellipse cx="842.18" cy="584.52" rx="2.91" ry="2.69" fill="#696969"/>
<ellipse cx="850.40" cy="581.57" rx="3.69" ry="2.36" fill="#696969"/>
<ellipse cx="837.11" cy="587.11" rx="3.09" ry="1.56" fill="#8d8d8d"/>
<ellipse cx="839.69" cy="585.60" rx="3.14" ry="1.35" fill="#696969"/>
<ellipse cx="835.06" cy="579.97" rx="2.30" ry="2.71" fill="#7a7a7a"/>
<ellipse cx="839.15" cy="578.60" rx="3.34" ry="2.20" fill="#9a9a9a"/>
<ellipse cx="840.92" cy="586.05" rx="2.31" ry="1.44" fill="#8d8d8d"/>
<ellipse cx="838.32" cy="588.47" rx="4.11" ry="2.36" fill="#8d8d8d"/>
<ellipse cx="840.24" cy="590.67" rx="1.79" ry="2.67" fill="#7a7a7a"/>
<ellipse cx="826.56" cy="580.01" rx="2.29" ry="2.38" fill="#8d8d8d"/>
<ellipse cx="842.60" cy="582.03" rx="3.16" ry="2.49" fill="#9a9a9a"/>
<ellipse cx="828.27" cy="581.41" rx="3.83" ry="1.71" fill="#7a7a7a"/>
<ellipse cx="831.41" cy="585.60" rx="3.99" ry="1.40" fill="#7a7a7a"/>
<ellipse cx="838.70" cy="579.64" rx="4.06" ry="1.65" fill="#9a9a9a"/>
<ellipse cx="832.00" cy="590.43" rx="2.38" ry="1.77" fill="#7a7a7a"/>
<ellipse cx="852.38" cy="589.78" rx="2.68" ry="1.66" fill="#696969"/>
<ellipse cx="840.86" cy="592.49" rx="2.62" ry="1.32" fill="#5c5c5c"/>
<ellipse cx="854.15" cy="579.58" rx="3.44" ry="2.64" fill="#7a7a7a"/>
<ellipse cx="826.01" cy="591.80" rx="1.80" ry="1.86" fill="#7a7a7a"/>
<ellipse cx="855.60" cy="579.15" rx="3.72" ry="1.35" fill="#5c5c5c"/>
<ellipse cx="843.34" cy="589.50" rx="1.75" ry="2.75" fill="#9a9a9a"/>
<ellipse cx="815.46" cy="578.70" rx="2.85" ry="1.57" fill="#7a7a7a"/>
<ellipse cx="829.57" cy="587.33" rx="3.54" ry="2.40" fill="#696969"/>
<ellipse cx="819.33" cy="588.49" rx="1.90" ry="2.78" fill="#5c5c5c"/>
<ellipse cx="810.20" cy="590.35" rx="3" ry="7" fill="#8a8a8a"/>
<ellipse cx="823.70" cy="611.85" rx="12.5" ry="7.5" fill="#858585"/>
<ellipse cx="844.70" cy="611.85" rx="12.5" ry="7.5" fill="#858585"/>
<ellipse cx="828.20" cy="601.35" rx="3.2" ry="4.6" fill="#7d7d7d"/>
<ellipse cx="840.20" cy="601.35" rx="3.2" ry="4.6" fill="#7d7d7d"/>
<ellipse cx="819.20" cy="597.95" rx="5" ry="6" fill="#d2d2d2"/>
<ellipse cx="820.25" cy="597.75" rx="2.3" ry="3.2" fill="#616161"/>
<ellipse cx="849.20" cy="597.95" rx="5" ry="6" fill="#d2d2d2"/>
<ellipse cx="848.15" cy="597.75" rx="2.3" ry="3.2" fill="#616161"/>
<circle cx="835.80" cy="594.85" r="1.50" fill="#dcdcdc" />
<circle cx="831.20" cy="595.35" r="1.40" fill="#b4b4b4" />
<ellipse cx="834.20" cy="602.55" rx="4.6" ry="3.6" fill="#f4f4f4"/>
<ellipse cx="834.20" cy="603.15" rx="2.6" ry="1.7" fill="#9b9b9b"/>
<path d="M830.60 606.55 L834.20 608.35 L837.80 606.55 M834.20 607.85 V614.35" fill="none" stroke="#f2f2f2" stroke-width="1.3" />
</g>
<rect x="796.30" y="612.20" width="7.80" height="11.00" fill="#3a3a32" />
<rect x="797.10" y="613.10" width="3.00" height="9.60" fill="#8f8f6a" />
<line x1="804.30" y1="623.10" x2="871.70" y2="618.20" stroke="#4d4d4d" stroke-width="0.4" />
<line x1="870.80" y1="572.50" x2="859.30" y2="579.50" stroke="#B0203A" stroke-width="0.6" />
</g>
<text x="801.70" y="569.20" font-size="4.9" fill="#fff" font-weight="bold" textLength="20.80" lengthAdjust="spacingAndGlyphs" stroke="#fff" stroke-width="0.108" >Week 24</text>
<g clip-path="url(#ctc3)"><defs><clipPath id="ctc3"><rect x="898.20" y="563.40" width="84.60" height="60.40"/></clipPath></defs>
<rect x="898.20" y="563.40" width="84.60" height="60.40" fill="#050505" />
<g filter="url(#ctblur)">
<ellipse cx="941.30" cy="593.50" rx="40" ry="26.4" fill="#444"/>
<ellipse cx="941.30" cy="593.00" rx="36" ry="23" fill="none" stroke="#b9b9b9" stroke-width="1.5" stroke-dasharray="5 1.2"/>
<ellipse cx="941.30" cy="592.50" rx="34" ry="21" fill="#141414"/>
<path d="M909.30 595.00 C908.30 581.0 919.30 574.0 935.30 573.5 C947.30 573.0 955.30 576.0 956.30 583.0 C953.30 589.0 945.30 592.0 940.30 596.0 C936.30 602.0 932.30 610.0 924.30 612.0 C914.30 612.0 910.30 605.0 909.30 595.00 Z" fill="#9c9c9c" />
<circle cx="923.30" cy="589.00" r="2.60" fill="#7b7b7b" />
<circle cx="915.30" cy="591.50" r="2.20" fill="#7d7d7d" />
<circle cx="920.30" cy="594.50" r="1.60" fill="#808080" />
<ellipse cx="955.30" cy="592.00" rx="8.2" ry="9.6" fill="#a6a6a6"/>
<ellipse cx="964.80" cy="602.50" rx="8.2" ry="5.6" fill="#a3a3a3" transform="rotate(-20 964.80 602.50)"/>
<ellipse cx="967.30" cy="585.00" rx="5" ry="6" fill="#3a3a3a"/>
<ellipse cx="932.30" cy="606.50" rx="7.5" ry="4.6" fill="#0c0c0c" transform="rotate(25 932.30 606.50)"/>
<ellipse cx="951.30" cy="606.50" rx="8.5" ry="4.6" fill="#0c0c0c" transform="rotate(-25 951.30 606.50)"/>
<ellipse cx="941.30" cy="615.50" rx="24" ry="3.8" fill="#6e6e6e"/>
<circle cx="942.80" cy="595.80" r="2.10" fill="#c6c6c6" />
<ellipse cx="941.30" cy="602.60" rx="4.8" ry="3.8" fill="#f6f6f6"/>
<ellipse cx="941.30" cy="607.20" rx="2.2" ry="1.8" fill="#8a8a8a"/>
<path d="M936.30 607.00 L941.30 610.20 L946.30 607.00" fill="none" stroke="#f2f2f2" stroke-width="1.5" />
</g>
<rect x="899.40" y="618.20" width="13.50" height="5.20" fill="#5e5e5e" />
<rect x="901.20" y="618.80" width="3.50" height="4.20" fill="#a9a9a9" />
<rect x="906.70" y="618.80" width="3.20" height="4.20" fill="#9a9a9a" />
<line x1="956.20" y1="622.30" x2="974.80" y2="619.20" stroke="#4d4d4d" stroke-width="0.4" />
</g>
<text x="900.80" y="569.80" font-size="5.4" fill="#fff" textLength="35.00" lengthAdjust="spacingAndGlyphs" stroke="#fff" stroke-width="0.119" >Study baseline</text>
<g clip-path="url(#ctc4)"><defs><clipPath id="ctc4"><rect x="986.60" y="563.70" width="83.20" height="60.60"/></clipPath></defs>
<rect x="986.60" y="563.70" width="83.20" height="60.60" fill="#050505" />
<g filter="url(#ctblur)">
<ellipse cx="1030.70" cy="593.90" rx="40" ry="26.4" fill="#444"/>
<ellipse cx="1030.70" cy="593.40" rx="36" ry="23" fill="none" stroke="#b9b9b9" stroke-width="1.5" stroke-dasharray="5 1.2"/>
<ellipse cx="1030.70" cy="592.90" rx="34" ry="21" fill="#141414"/>
<path d="M998.70 595.40 C997.70 581.4 1008.70 574.4 1024.70 573.9 C1036.70 573.4 1044.70 576.4 1045.70 583.4 C1042.70 589.4 1034.70 592.4 1029.70 596.4 C1025.70 602.4 1021.70 610.4 1013.70 612.4 C1003.70 612.4 999.70 605.4 998.70 595.40 Z" fill="#a2a2a2" />
<path d="M1018.70 584.40 q4 -3 7 0 q1.5 1.5 0.5 3" fill="none" stroke="#efefef" stroke-width="1.1" />
<path d="M1008.70 596.40 l8 -5 M1006.70 602.40 l7 -4" fill="none" stroke="#c9c9c9" stroke-width="0.6" />
<path d="M1036.70 580.40 q9 2 10 14 q-5 4 -9 0 q1 -8 -4 -10 z" fill="#8f8f8f"/>
<ellipse cx="1051.70" cy="601.90" rx="7.2" ry="5.6" fill="#a3a3a3" transform="rotate(-25 1051.70 601.90)"/>
<circle cx="1052.70" cy="581.40" r="0.90" fill="#6f6f6f" />
<circle cx="1054.90" cy="584.00" r="0.90" fill="#6f6f6f" />
<circle cx="1052.70" cy="586.60" r="0.90" fill="#6f6f6f" />
<circle cx="1054.90" cy="589.20" r="0.90" fill="#6f6f6f" />
<circle cx="1052.70" cy="591.80" r="0.90" fill="#6f6f6f" />
<circle cx="1054.90" cy="594.40" r="0.90" fill="#6f6f6f" />
<circle cx="1052.70" cy="597.00" r="0.90" fill="#6f6f6f" />
<ellipse cx="1021.70" cy="606.90" rx="7.5" ry="4.6" fill="#0c0c0c" transform="rotate(25 1021.70 606.90)"/>
<ellipse cx="1040.70" cy="606.90" rx="8.5" ry="4.6" fill="#0c0c0c" transform="rotate(-25 1040.70 606.90)"/>
<ellipse cx="1030.70" cy="615.90" rx="24" ry="3.8" fill="#6e6e6e"/>
<circle cx="1032.20" cy="596.20" r="2.10" fill="#c6c6c6" />
<ellipse cx="1030.70" cy="603.00" rx="4.8" ry="3.8" fill="#f6f6f6"/>
<ellipse cx="1030.70" cy="607.60" rx="2.2" ry="1.8" fill="#8a8a8a"/>
<path d="M1025.70 607.40 L1030.70 610.60 L1035.70 607.40" fill="none" stroke="#f2f2f2" stroke-width="1.5" />
</g>
<rect x="987.80" y="618.70" width="13.50" height="5.20" fill="#5e5e5e" />
<rect x="989.60" y="619.30" width="3.50" height="4.20" fill="#a9a9a9" />
<rect x="995.10" y="619.30" width="3.20" height="4.20" fill="#9a9a9a" />
<line x1="1044.60" y1="622.80" x2="1061.80" y2="619.70" stroke="#4d4d4d" stroke-width="0.4" />
</g>
<text x="990.20" y="570.10" font-size="5.4" fill="#fff" textLength="21.00" lengthAdjust="spacingAndGlyphs" stroke="#fff" stroke-width="0.119" >Week 56</text>
</svg>
</body></html>
